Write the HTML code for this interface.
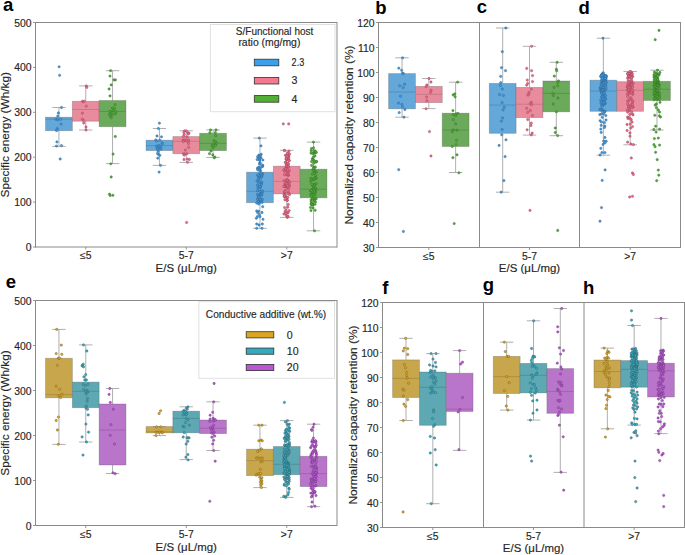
<!DOCTYPE html>
<html><head><meta charset="utf-8"><style>html,body{margin:0;padding:0;background:#fff;}svg{display:block;font-family:"Liberation Sans", sans-serif;}</style></head><body>
<svg width="685" height="555" viewBox="0 0 685 555" font-family='"Liberation Sans", sans-serif'>
<rect width="100%" height="100%" fill="#ffffff"/>
<line x1="33.00" y1="247.00" x2="35.50" y2="247.00" stroke="#8a8a8a" stroke-width="0.9"/>
<text x="31.50" y="251.00" font-size="10.4" text-anchor="end" fill="#262626" stroke="#262626" stroke-width="0.15">0</text>
<line x1="33.00" y1="202.10" x2="35.50" y2="202.10" stroke="#8a8a8a" stroke-width="0.9"/>
<text x="31.50" y="206.10" font-size="10.4" text-anchor="end" fill="#262626" stroke="#262626" stroke-width="0.15">100</text>
<line x1="33.00" y1="157.20" x2="35.50" y2="157.20" stroke="#8a8a8a" stroke-width="0.9"/>
<text x="31.50" y="161.20" font-size="10.4" text-anchor="end" fill="#262626" stroke="#262626" stroke-width="0.15">200</text>
<line x1="33.00" y1="112.30" x2="35.50" y2="112.30" stroke="#8a8a8a" stroke-width="0.9"/>
<text x="31.50" y="116.30" font-size="10.4" text-anchor="end" fill="#262626" stroke="#262626" stroke-width="0.15">300</text>
<line x1="33.00" y1="67.40" x2="35.50" y2="67.40" stroke="#8a8a8a" stroke-width="0.9"/>
<text x="31.50" y="71.40" font-size="10.4" text-anchor="end" fill="#262626" stroke="#262626" stroke-width="0.15">400</text>
<line x1="33.00" y1="22.50" x2="35.50" y2="22.50" stroke="#8a8a8a" stroke-width="0.9"/>
<text x="31.50" y="26.50" font-size="10.4" text-anchor="end" fill="#262626" stroke="#262626" stroke-width="0.15">500</text>
<line x1="85.75" y1="247.00" x2="85.75" y2="249.50" stroke="#8a8a8a" stroke-width="0.9"/>
<text x="85.75" y="259.10" font-size="10.4" text-anchor="middle" fill="#262626" stroke="#262626" stroke-width="0.15">≤5</text>
<line x1="186.25" y1="247.00" x2="186.25" y2="249.50" stroke="#8a8a8a" stroke-width="0.9"/>
<text x="186.25" y="259.10" font-size="10.4" text-anchor="middle" fill="#262626" stroke="#262626" stroke-width="0.15">5-7</text>
<line x1="286.75" y1="247.00" x2="286.75" y2="249.50" stroke="#8a8a8a" stroke-width="0.9"/>
<text x="286.75" y="259.10" font-size="10.4" text-anchor="middle" fill="#262626" stroke="#262626" stroke-width="0.15">&gt;7</text>
<text x="186.25" y="272.00" font-size="10.8" text-anchor="middle" fill="#262626" stroke="#262626" stroke-width="0.15" textLength="61.3" lengthAdjust="spacingAndGlyphs">E/S (μL/mg)</text>
<text x="9.40" y="134.75" font-size="11.2" text-anchor="middle" fill="#262626" stroke="#262626" stroke-width="0.15" textLength="125.5" lengthAdjust="spacingAndGlyphs" transform="rotate(-90 9.40 134.75)">Specific energy (Wh/kg)</text>
<line x1="58.95" y1="107.50" x2="58.95" y2="117.20" stroke="#a0a0a0" stroke-width="0.85"/>
<line x1="58.95" y1="130.70" x2="58.95" y2="146.40" stroke="#a0a0a0" stroke-width="0.85"/>
<line x1="52.25" y1="107.50" x2="65.65" y2="107.50" stroke="#a0a0a0" stroke-width="0.85"/>
<line x1="52.25" y1="146.40" x2="65.65" y2="146.40" stroke="#a0a0a0" stroke-width="0.85"/>
<rect x="45.55" y="117.20" width="26.80" height="13.50" fill="#64a7d9" stroke="#505050" stroke-opacity="0.35" stroke-width="0.8"/>
<line x1="45.55" y1="119.20" x2="72.35" y2="119.20" stroke="#558db8" stroke-width="0.9"/>
<circle cx="59.10" cy="66.80" r="1.15" fill="#3c9eea" stroke="#35628a" stroke-width="0.5"/>
<circle cx="59.60" cy="75.30" r="1.15" fill="#3c9eea" stroke="#35628a" stroke-width="0.5"/>
<circle cx="61.50" cy="107.50" r="1.15" fill="#3c9eea" stroke="#35628a" stroke-width="0.5"/>
<circle cx="58.40" cy="113.00" r="1.15" fill="#3c9eea" stroke="#35628a" stroke-width="0.5"/>
<circle cx="57.80" cy="116.10" r="1.15" fill="#3c9eea" stroke="#35628a" stroke-width="0.5"/>
<circle cx="56.00" cy="119.30" r="1.15" fill="#3c9eea" stroke="#35628a" stroke-width="0.5"/>
<circle cx="57.80" cy="119.80" r="1.15" fill="#3c9eea" stroke="#35628a" stroke-width="0.5"/>
<circle cx="60.60" cy="119.30" r="1.15" fill="#3c9eea" stroke="#35628a" stroke-width="0.5"/>
<circle cx="61.10" cy="124.10" r="1.15" fill="#3c9eea" stroke="#35628a" stroke-width="0.5"/>
<circle cx="57.40" cy="128.50" r="1.15" fill="#3c9eea" stroke="#35628a" stroke-width="0.5"/>
<circle cx="56.90" cy="129.90" r="1.15" fill="#3c9eea" stroke="#35628a" stroke-width="0.5"/>
<circle cx="56.50" cy="130.50" r="1.15" fill="#3c9eea" stroke="#35628a" stroke-width="0.5"/>
<circle cx="56.90" cy="141.90" r="1.15" fill="#3c9eea" stroke="#35628a" stroke-width="0.5"/>
<circle cx="56.50" cy="146.10" r="1.15" fill="#3c9eea" stroke="#35628a" stroke-width="0.5"/>
<circle cx="61.50" cy="145.60" r="1.15" fill="#3c9eea" stroke="#35628a" stroke-width="0.5"/>
<circle cx="60.20" cy="159.00" r="1.15" fill="#3c9eea" stroke="#35628a" stroke-width="0.5"/>
<line x1="85.75" y1="85.90" x2="85.75" y2="101.30" stroke="#a0a0a0" stroke-width="0.85"/>
<line x1="85.75" y1="121.20" x2="85.75" y2="130.00" stroke="#a0a0a0" stroke-width="0.85"/>
<line x1="79.05" y1="85.90" x2="92.45" y2="85.90" stroke="#a0a0a0" stroke-width="0.85"/>
<line x1="79.05" y1="130.00" x2="92.45" y2="130.00" stroke="#a0a0a0" stroke-width="0.85"/>
<rect x="72.35" y="101.30" width="26.80" height="19.90" fill="#e88b9d" stroke="#505050" stroke-opacity="0.35" stroke-width="0.8"/>
<line x1="72.35" y1="109.50" x2="99.15" y2="109.50" stroke="#c57685" stroke-width="0.9"/>
<circle cx="86.30" cy="85.90" r="1.15" fill="#f26a8a" stroke="#9a4458" stroke-width="0.5"/>
<circle cx="86.80" cy="87.40" r="1.15" fill="#f26a8a" stroke="#9a4458" stroke-width="0.5"/>
<circle cx="82.40" cy="101.30" r="1.15" fill="#f26a8a" stroke="#9a4458" stroke-width="0.5"/>
<circle cx="83.40" cy="101.60" r="1.15" fill="#f26a8a" stroke="#9a4458" stroke-width="0.5"/>
<circle cx="84.40" cy="101.30" r="1.15" fill="#f26a8a" stroke="#9a4458" stroke-width="0.5"/>
<circle cx="86.30" cy="106.20" r="1.15" fill="#f26a8a" stroke="#9a4458" stroke-width="0.5"/>
<circle cx="82.40" cy="113.20" r="1.15" fill="#f26a8a" stroke="#9a4458" stroke-width="0.5"/>
<circle cx="82.20" cy="119.10" r="1.15" fill="#f26a8a" stroke="#9a4458" stroke-width="0.5"/>
<circle cx="83.70" cy="120.60" r="1.15" fill="#f26a8a" stroke="#9a4458" stroke-width="0.5"/>
<circle cx="83.70" cy="123.10" r="1.15" fill="#f26a8a" stroke="#9a4458" stroke-width="0.5"/>
<circle cx="86.00" cy="127.00" r="1.15" fill="#f26a8a" stroke="#9a4458" stroke-width="0.5"/>
<circle cx="86.00" cy="130.00" r="1.15" fill="#f26a8a" stroke="#9a4458" stroke-width="0.5"/>
<line x1="112.55" y1="70.70" x2="112.55" y2="100.50" stroke="#a0a0a0" stroke-width="0.85"/>
<line x1="112.55" y1="126.70" x2="112.55" y2="163.60" stroke="#a0a0a0" stroke-width="0.85"/>
<line x1="105.85" y1="70.70" x2="119.25" y2="70.70" stroke="#a0a0a0" stroke-width="0.85"/>
<line x1="105.85" y1="163.60" x2="119.25" y2="163.60" stroke="#a0a0a0" stroke-width="0.85"/>
<rect x="99.15" y="100.50" width="26.80" height="26.20" fill="#6aaa5a" stroke="#505050" stroke-opacity="0.35" stroke-width="0.8"/>
<line x1="99.15" y1="111.40" x2="125.95" y2="111.40" stroke="#5a904c" stroke-width="0.9"/>
<circle cx="110.60" cy="70.70" r="1.15" fill="#50b032" stroke="#33702a" stroke-width="0.5"/>
<circle cx="110.00" cy="76.10" r="1.15" fill="#50b032" stroke="#33702a" stroke-width="0.5"/>
<circle cx="114.10" cy="79.90" r="1.15" fill="#50b032" stroke="#33702a" stroke-width="0.5"/>
<circle cx="115.40" cy="79.90" r="1.15" fill="#50b032" stroke="#33702a" stroke-width="0.5"/>
<circle cx="111.20" cy="84.90" r="1.15" fill="#50b032" stroke="#33702a" stroke-width="0.5"/>
<circle cx="109.10" cy="89.00" r="1.15" fill="#50b032" stroke="#33702a" stroke-width="0.5"/>
<circle cx="110.00" cy="95.90" r="1.15" fill="#50b032" stroke="#33702a" stroke-width="0.5"/>
<circle cx="115.00" cy="104.70" r="1.15" fill="#50b032" stroke="#33702a" stroke-width="0.5"/>
<circle cx="112.50" cy="108.10" r="1.15" fill="#50b032" stroke="#33702a" stroke-width="0.5"/>
<circle cx="114.40" cy="108.50" r="1.15" fill="#50b032" stroke="#33702a" stroke-width="0.5"/>
<circle cx="110.00" cy="111.40" r="1.15" fill="#50b032" stroke="#33702a" stroke-width="0.5"/>
<circle cx="113.10" cy="110.60" r="1.15" fill="#50b032" stroke="#33702a" stroke-width="0.5"/>
<circle cx="115.70" cy="111.70" r="1.15" fill="#50b032" stroke="#33702a" stroke-width="0.5"/>
<circle cx="111.20" cy="113.20" r="1.15" fill="#50b032" stroke="#33702a" stroke-width="0.5"/>
<circle cx="109.30" cy="114.40" r="1.15" fill="#50b032" stroke="#33702a" stroke-width="0.5"/>
<circle cx="113.10" cy="114.40" r="1.15" fill="#50b032" stroke="#33702a" stroke-width="0.5"/>
<circle cx="115.70" cy="113.50" r="1.15" fill="#50b032" stroke="#33702a" stroke-width="0.5"/>
<circle cx="110.60" cy="116.10" r="1.15" fill="#50b032" stroke="#33702a" stroke-width="0.5"/>
<circle cx="111.20" cy="117.70" r="1.15" fill="#50b032" stroke="#33702a" stroke-width="0.5"/>
<circle cx="115.30" cy="136.50" r="1.15" fill="#50b032" stroke="#33702a" stroke-width="0.5"/>
<circle cx="113.10" cy="154.10" r="1.15" fill="#50b032" stroke="#33702a" stroke-width="0.5"/>
<circle cx="110.80" cy="163.80" r="1.15" fill="#50b032" stroke="#33702a" stroke-width="0.5"/>
<circle cx="111.20" cy="177.00" r="1.15" fill="#50b032" stroke="#33702a" stroke-width="0.5"/>
<circle cx="109.50" cy="194.20" r="1.15" fill="#50b032" stroke="#33702a" stroke-width="0.5"/>
<circle cx="110.20" cy="195.50" r="1.15" fill="#50b032" stroke="#33702a" stroke-width="0.5"/>
<circle cx="112.90" cy="195.30" r="1.15" fill="#50b032" stroke="#33702a" stroke-width="0.5"/>
<line x1="159.45" y1="128.50" x2="159.45" y2="140.20" stroke="#a0a0a0" stroke-width="0.85"/>
<line x1="159.45" y1="150.60" x2="159.45" y2="165.40" stroke="#a0a0a0" stroke-width="0.85"/>
<line x1="152.75" y1="128.50" x2="166.15" y2="128.50" stroke="#a0a0a0" stroke-width="0.85"/>
<line x1="152.75" y1="165.40" x2="166.15" y2="165.40" stroke="#a0a0a0" stroke-width="0.85"/>
<rect x="146.05" y="140.20" width="26.80" height="10.40" fill="#64a7d9" stroke="#505050" stroke-opacity="0.35" stroke-width="0.8"/>
<line x1="146.05" y1="145.60" x2="172.85" y2="145.60" stroke="#558db8" stroke-width="0.9"/>
<circle cx="159.40" cy="123.20" r="1.15" fill="#3c9eea" stroke="#35628a" stroke-width="0.5"/>
<circle cx="158.40" cy="128.50" r="1.15" fill="#3c9eea" stroke="#35628a" stroke-width="0.5"/>
<circle cx="157.00" cy="136.00" r="1.15" fill="#3c9eea" stroke="#35628a" stroke-width="0.5"/>
<circle cx="161.50" cy="136.80" r="1.15" fill="#3c9eea" stroke="#35628a" stroke-width="0.5"/>
<circle cx="155.80" cy="140.00" r="1.15" fill="#3c9eea" stroke="#35628a" stroke-width="0.5"/>
<circle cx="156.70" cy="141.00" r="1.15" fill="#3c9eea" stroke="#35628a" stroke-width="0.5"/>
<circle cx="159.80" cy="140.20" r="1.15" fill="#3c9eea" stroke="#35628a" stroke-width="0.5"/>
<circle cx="162.20" cy="142.90" r="1.15" fill="#3c9eea" stroke="#35628a" stroke-width="0.5"/>
<circle cx="162.20" cy="144.10" r="1.15" fill="#3c9eea" stroke="#35628a" stroke-width="0.5"/>
<circle cx="158.60" cy="145.40" r="1.15" fill="#3c9eea" stroke="#35628a" stroke-width="0.5"/>
<circle cx="156.50" cy="146.20" r="1.15" fill="#3c9eea" stroke="#35628a" stroke-width="0.5"/>
<circle cx="159.60" cy="146.40" r="1.15" fill="#3c9eea" stroke="#35628a" stroke-width="0.5"/>
<circle cx="157.30" cy="147.80" r="1.15" fill="#3c9eea" stroke="#35628a" stroke-width="0.5"/>
<circle cx="160.70" cy="147.30" r="1.15" fill="#3c9eea" stroke="#35628a" stroke-width="0.5"/>
<circle cx="159.10" cy="148.30" r="1.15" fill="#3c9eea" stroke="#35628a" stroke-width="0.5"/>
<circle cx="157.50" cy="149.40" r="1.15" fill="#3c9eea" stroke="#35628a" stroke-width="0.5"/>
<circle cx="160.90" cy="149.10" r="1.15" fill="#3c9eea" stroke="#35628a" stroke-width="0.5"/>
<circle cx="158.10" cy="151.20" r="1.15" fill="#3c9eea" stroke="#35628a" stroke-width="0.5"/>
<circle cx="157.50" cy="153.50" r="1.15" fill="#3c9eea" stroke="#35628a" stroke-width="0.5"/>
<circle cx="158.60" cy="154.60" r="1.15" fill="#3c9eea" stroke="#35628a" stroke-width="0.5"/>
<circle cx="159.80" cy="155.40" r="1.15" fill="#3c9eea" stroke="#35628a" stroke-width="0.5"/>
<circle cx="157.80" cy="158.20" r="1.15" fill="#3c9eea" stroke="#35628a" stroke-width="0.5"/>
<circle cx="160.50" cy="165.40" r="1.15" fill="#3c9eea" stroke="#35628a" stroke-width="0.5"/>
<circle cx="159.10" cy="172.10" r="1.15" fill="#3c9eea" stroke="#35628a" stroke-width="0.5"/>
<line x1="186.25" y1="130.80" x2="186.25" y2="136.60" stroke="#a0a0a0" stroke-width="0.85"/>
<line x1="186.25" y1="153.70" x2="186.25" y2="162.40" stroke="#a0a0a0" stroke-width="0.85"/>
<line x1="179.55" y1="130.80" x2="192.95" y2="130.80" stroke="#a0a0a0" stroke-width="0.85"/>
<line x1="179.55" y1="162.40" x2="192.95" y2="162.40" stroke="#a0a0a0" stroke-width="0.85"/>
<rect x="172.85" y="136.60" width="26.80" height="17.10" fill="#e88b9d" stroke="#505050" stroke-opacity="0.35" stroke-width="0.8"/>
<line x1="172.85" y1="141.30" x2="199.65" y2="141.30" stroke="#c57685" stroke-width="0.9"/>
<circle cx="184.60" cy="130.80" r="1.15" fill="#f26a8a" stroke="#9a4458" stroke-width="0.5"/>
<circle cx="186.20" cy="130.80" r="1.15" fill="#f26a8a" stroke="#9a4458" stroke-width="0.5"/>
<circle cx="183.80" cy="132.50" r="1.15" fill="#f26a8a" stroke="#9a4458" stroke-width="0.5"/>
<circle cx="187.80" cy="132.70" r="1.15" fill="#f26a8a" stroke="#9a4458" stroke-width="0.5"/>
<circle cx="189.00" cy="133.10" r="1.15" fill="#f26a8a" stroke="#9a4458" stroke-width="0.5"/>
<circle cx="184.20" cy="134.60" r="1.15" fill="#f26a8a" stroke="#9a4458" stroke-width="0.5"/>
<circle cx="188.20" cy="134.10" r="1.15" fill="#f26a8a" stroke="#9a4458" stroke-width="0.5"/>
<circle cx="183.40" cy="136.50" r="1.15" fill="#f26a8a" stroke="#9a4458" stroke-width="0.5"/>
<circle cx="187.00" cy="137.00" r="1.15" fill="#f26a8a" stroke="#9a4458" stroke-width="0.5"/>
<circle cx="183.00" cy="140.20" r="1.15" fill="#f26a8a" stroke="#9a4458" stroke-width="0.5"/>
<circle cx="185.00" cy="140.00" r="1.15" fill="#f26a8a" stroke="#9a4458" stroke-width="0.5"/>
<circle cx="186.60" cy="140.80" r="1.15" fill="#f26a8a" stroke="#9a4458" stroke-width="0.5"/>
<circle cx="188.60" cy="140.20" r="1.15" fill="#f26a8a" stroke="#9a4458" stroke-width="0.5"/>
<circle cx="183.40" cy="141.60" r="1.15" fill="#f26a8a" stroke="#9a4458" stroke-width="0.5"/>
<circle cx="187.80" cy="141.60" r="1.15" fill="#f26a8a" stroke="#9a4458" stroke-width="0.5"/>
<circle cx="188.60" cy="143.50" r="1.15" fill="#f26a8a" stroke="#9a4458" stroke-width="0.5"/>
<circle cx="188.60" cy="147.30" r="1.15" fill="#f26a8a" stroke="#9a4458" stroke-width="0.5"/>
<circle cx="185.40" cy="150.10" r="1.15" fill="#f26a8a" stroke="#9a4458" stroke-width="0.5"/>
<circle cx="183.40" cy="153.80" r="1.15" fill="#f26a8a" stroke="#9a4458" stroke-width="0.5"/>
<circle cx="185.00" cy="153.80" r="1.15" fill="#f26a8a" stroke="#9a4458" stroke-width="0.5"/>
<circle cx="187.00" cy="153.80" r="1.15" fill="#f26a8a" stroke="#9a4458" stroke-width="0.5"/>
<circle cx="184.20" cy="155.20" r="1.15" fill="#f26a8a" stroke="#9a4458" stroke-width="0.5"/>
<circle cx="184.00" cy="159.50" r="1.15" fill="#f26a8a" stroke="#9a4458" stroke-width="0.5"/>
<circle cx="187.40" cy="159.10" r="1.15" fill="#f26a8a" stroke="#9a4458" stroke-width="0.5"/>
<circle cx="189.40" cy="159.50" r="1.15" fill="#f26a8a" stroke="#9a4458" stroke-width="0.5"/>
<circle cx="187.60" cy="162.30" r="1.15" fill="#f26a8a" stroke="#9a4458" stroke-width="0.5"/>
<circle cx="186.60" cy="222.50" r="1.15" fill="#f26a8a" stroke="#9a4458" stroke-width="0.5"/>
<line x1="213.05" y1="129.90" x2="213.05" y2="133.30" stroke="#a0a0a0" stroke-width="0.85"/>
<line x1="213.05" y1="150.60" x2="213.05" y2="157.40" stroke="#a0a0a0" stroke-width="0.85"/>
<line x1="206.35" y1="129.90" x2="219.75" y2="129.90" stroke="#a0a0a0" stroke-width="0.85"/>
<line x1="206.35" y1="157.40" x2="219.75" y2="157.40" stroke="#a0a0a0" stroke-width="0.85"/>
<rect x="199.65" y="133.30" width="26.80" height="17.30" fill="#6aaa5a" stroke="#505050" stroke-opacity="0.35" stroke-width="0.8"/>
<line x1="199.65" y1="143.40" x2="226.45" y2="143.40" stroke="#5a904c" stroke-width="0.9"/>
<circle cx="210.60" cy="129.90" r="1.15" fill="#50b032" stroke="#33702a" stroke-width="0.5"/>
<circle cx="216.00" cy="129.90" r="1.15" fill="#50b032" stroke="#33702a" stroke-width="0.5"/>
<circle cx="209.90" cy="132.60" r="1.15" fill="#50b032" stroke="#33702a" stroke-width="0.5"/>
<circle cx="215.30" cy="132.60" r="1.15" fill="#50b032" stroke="#33702a" stroke-width="0.5"/>
<circle cx="215.70" cy="135.80" r="1.15" fill="#50b032" stroke="#33702a" stroke-width="0.5"/>
<circle cx="213.90" cy="140.70" r="1.15" fill="#50b032" stroke="#33702a" stroke-width="0.5"/>
<circle cx="215.70" cy="141.90" r="1.15" fill="#50b032" stroke="#33702a" stroke-width="0.5"/>
<circle cx="216.40" cy="143.60" r="1.15" fill="#50b032" stroke="#33702a" stroke-width="0.5"/>
<circle cx="213.10" cy="144.30" r="1.15" fill="#50b032" stroke="#33702a" stroke-width="0.5"/>
<circle cx="215.30" cy="145.50" r="1.15" fill="#50b032" stroke="#33702a" stroke-width="0.5"/>
<circle cx="212.10" cy="145.50" r="1.15" fill="#50b032" stroke="#33702a" stroke-width="0.5"/>
<circle cx="213.10" cy="147.70" r="1.15" fill="#50b032" stroke="#33702a" stroke-width="0.5"/>
<circle cx="211.00" cy="151.00" r="1.15" fill="#50b032" stroke="#33702a" stroke-width="0.5"/>
<circle cx="209.50" cy="153.70" r="1.15" fill="#50b032" stroke="#33702a" stroke-width="0.5"/>
<circle cx="212.80" cy="154.90" r="1.15" fill="#50b032" stroke="#33702a" stroke-width="0.5"/>
<circle cx="214.90" cy="157.10" r="1.15" fill="#50b032" stroke="#33702a" stroke-width="0.5"/>
<circle cx="214.20" cy="157.80" r="1.15" fill="#50b032" stroke="#33702a" stroke-width="0.5"/>
<line x1="259.95" y1="138.10" x2="259.95" y2="172.20" stroke="#a0a0a0" stroke-width="0.85"/>
<line x1="259.95" y1="202.70" x2="259.95" y2="228.30" stroke="#a0a0a0" stroke-width="0.85"/>
<line x1="253.25" y1="138.10" x2="266.65" y2="138.10" stroke="#a0a0a0" stroke-width="0.85"/>
<line x1="253.25" y1="228.30" x2="266.65" y2="228.30" stroke="#a0a0a0" stroke-width="0.85"/>
<rect x="246.55" y="172.20" width="26.80" height="30.50" fill="#64a7d9" stroke="#505050" stroke-opacity="0.35" stroke-width="0.8"/>
<line x1="246.55" y1="191.30" x2="273.35" y2="191.30" stroke="#558db8" stroke-width="0.9"/>
<circle cx="260.04" cy="156.30" r="1.15" fill="#3c9eea" stroke="#35628a" stroke-width="0.5"/>
<circle cx="262.67" cy="165.05" r="1.15" fill="#3c9eea" stroke="#35628a" stroke-width="0.5"/>
<circle cx="260.49" cy="171.03" r="1.15" fill="#3c9eea" stroke="#35628a" stroke-width="0.5"/>
<circle cx="257.50" cy="168.14" r="1.15" fill="#3c9eea" stroke="#35628a" stroke-width="0.5"/>
<circle cx="258.29" cy="157.52" r="1.15" fill="#3c9eea" stroke="#35628a" stroke-width="0.5"/>
<circle cx="258.88" cy="167.09" r="1.15" fill="#3c9eea" stroke="#35628a" stroke-width="0.5"/>
<circle cx="262.60" cy="166.44" r="1.15" fill="#3c9eea" stroke="#35628a" stroke-width="0.5"/>
<circle cx="258.85" cy="155.12" r="1.15" fill="#3c9eea" stroke="#35628a" stroke-width="0.5"/>
<circle cx="258.67" cy="156.86" r="1.15" fill="#3c9eea" stroke="#35628a" stroke-width="0.5"/>
<circle cx="259.96" cy="162.57" r="1.15" fill="#3c9eea" stroke="#35628a" stroke-width="0.5"/>
<circle cx="257.64" cy="156.69" r="1.15" fill="#3c9eea" stroke="#35628a" stroke-width="0.5"/>
<circle cx="262.22" cy="166.34" r="1.15" fill="#3c9eea" stroke="#35628a" stroke-width="0.5"/>
<circle cx="257.52" cy="169.60" r="1.15" fill="#3c9eea" stroke="#35628a" stroke-width="0.5"/>
<circle cx="259.64" cy="160.13" r="1.15" fill="#3c9eea" stroke="#35628a" stroke-width="0.5"/>
<circle cx="261.78" cy="166.10" r="1.15" fill="#3c9eea" stroke="#35628a" stroke-width="0.5"/>
<circle cx="259.57" cy="160.12" r="1.15" fill="#3c9eea" stroke="#35628a" stroke-width="0.5"/>
<circle cx="260.22" cy="168.95" r="1.15" fill="#3c9eea" stroke="#35628a" stroke-width="0.5"/>
<circle cx="261.20" cy="154.32" r="1.15" fill="#3c9eea" stroke="#35628a" stroke-width="0.5"/>
<circle cx="257.13" cy="159.62" r="1.15" fill="#3c9eea" stroke="#35628a" stroke-width="0.5"/>
<circle cx="258.69" cy="167.86" r="1.15" fill="#3c9eea" stroke="#35628a" stroke-width="0.5"/>
<circle cx="260.60" cy="155.33" r="1.15" fill="#3c9eea" stroke="#35628a" stroke-width="0.5"/>
<circle cx="259.48" cy="163.90" r="1.15" fill="#3c9eea" stroke="#35628a" stroke-width="0.5"/>
<circle cx="259.83" cy="157.66" r="1.15" fill="#3c9eea" stroke="#35628a" stroke-width="0.5"/>
<circle cx="261.09" cy="158.11" r="1.15" fill="#3c9eea" stroke="#35628a" stroke-width="0.5"/>
<circle cx="262.92" cy="160.03" r="1.15" fill="#3c9eea" stroke="#35628a" stroke-width="0.5"/>
<circle cx="259.96" cy="168.35" r="1.15" fill="#3c9eea" stroke="#35628a" stroke-width="0.5"/>
<circle cx="259.06" cy="170.26" r="1.15" fill="#3c9eea" stroke="#35628a" stroke-width="0.5"/>
<circle cx="260.27" cy="163.22" r="1.15" fill="#3c9eea" stroke="#35628a" stroke-width="0.5"/>
<circle cx="258.37" cy="178.50" r="1.15" fill="#3c9eea" stroke="#35628a" stroke-width="0.5"/>
<circle cx="260.11" cy="187.85" r="1.15" fill="#3c9eea" stroke="#35628a" stroke-width="0.5"/>
<circle cx="257.87" cy="188.37" r="1.15" fill="#3c9eea" stroke="#35628a" stroke-width="0.5"/>
<circle cx="262.49" cy="173.74" r="1.15" fill="#3c9eea" stroke="#35628a" stroke-width="0.5"/>
<circle cx="260.81" cy="176.72" r="1.15" fill="#3c9eea" stroke="#35628a" stroke-width="0.5"/>
<circle cx="257.55" cy="190.85" r="1.15" fill="#3c9eea" stroke="#35628a" stroke-width="0.5"/>
<circle cx="258.44" cy="180.11" r="1.15" fill="#3c9eea" stroke="#35628a" stroke-width="0.5"/>
<circle cx="261.18" cy="183.83" r="1.15" fill="#3c9eea" stroke="#35628a" stroke-width="0.5"/>
<circle cx="262.36" cy="190.83" r="1.15" fill="#3c9eea" stroke="#35628a" stroke-width="0.5"/>
<circle cx="259.75" cy="174.26" r="1.15" fill="#3c9eea" stroke="#35628a" stroke-width="0.5"/>
<circle cx="261.97" cy="175.08" r="1.15" fill="#3c9eea" stroke="#35628a" stroke-width="0.5"/>
<circle cx="259.13" cy="176.45" r="1.15" fill="#3c9eea" stroke="#35628a" stroke-width="0.5"/>
<circle cx="261.92" cy="176.16" r="1.15" fill="#3c9eea" stroke="#35628a" stroke-width="0.5"/>
<circle cx="261.82" cy="182.73" r="1.15" fill="#3c9eea" stroke="#35628a" stroke-width="0.5"/>
<circle cx="260.61" cy="186.44" r="1.15" fill="#3c9eea" stroke="#35628a" stroke-width="0.5"/>
<circle cx="259.03" cy="175.66" r="1.15" fill="#3c9eea" stroke="#35628a" stroke-width="0.5"/>
<circle cx="261.40" cy="184.26" r="1.15" fill="#3c9eea" stroke="#35628a" stroke-width="0.5"/>
<circle cx="259.46" cy="175.73" r="1.15" fill="#3c9eea" stroke="#35628a" stroke-width="0.5"/>
<circle cx="257.92" cy="180.75" r="1.15" fill="#3c9eea" stroke="#35628a" stroke-width="0.5"/>
<circle cx="261.01" cy="177.94" r="1.15" fill="#3c9eea" stroke="#35628a" stroke-width="0.5"/>
<circle cx="257.04" cy="181.00" r="1.15" fill="#3c9eea" stroke="#35628a" stroke-width="0.5"/>
<circle cx="258.35" cy="186.47" r="1.15" fill="#3c9eea" stroke="#35628a" stroke-width="0.5"/>
<circle cx="261.17" cy="181.80" r="1.15" fill="#3c9eea" stroke="#35628a" stroke-width="0.5"/>
<circle cx="257.43" cy="185.17" r="1.15" fill="#3c9eea" stroke="#35628a" stroke-width="0.5"/>
<circle cx="259.74" cy="186.78" r="1.15" fill="#3c9eea" stroke="#35628a" stroke-width="0.5"/>
<circle cx="261.71" cy="174.93" r="1.15" fill="#3c9eea" stroke="#35628a" stroke-width="0.5"/>
<circle cx="258.70" cy="182.88" r="1.15" fill="#3c9eea" stroke="#35628a" stroke-width="0.5"/>
<circle cx="257.57" cy="175.39" r="1.15" fill="#3c9eea" stroke="#35628a" stroke-width="0.5"/>
<circle cx="261.27" cy="173.20" r="1.15" fill="#3c9eea" stroke="#35628a" stroke-width="0.5"/>
<circle cx="258.43" cy="174.77" r="1.15" fill="#3c9eea" stroke="#35628a" stroke-width="0.5"/>
<circle cx="262.37" cy="199.41" r="1.15" fill="#3c9eea" stroke="#35628a" stroke-width="0.5"/>
<circle cx="261.49" cy="200.64" r="1.15" fill="#3c9eea" stroke="#35628a" stroke-width="0.5"/>
<circle cx="258.29" cy="200.62" r="1.15" fill="#3c9eea" stroke="#35628a" stroke-width="0.5"/>
<circle cx="259.10" cy="195.73" r="1.15" fill="#3c9eea" stroke="#35628a" stroke-width="0.5"/>
<circle cx="257.43" cy="194.49" r="1.15" fill="#3c9eea" stroke="#35628a" stroke-width="0.5"/>
<circle cx="259.23" cy="200.59" r="1.15" fill="#3c9eea" stroke="#35628a" stroke-width="0.5"/>
<circle cx="259.92" cy="194.45" r="1.15" fill="#3c9eea" stroke="#35628a" stroke-width="0.5"/>
<circle cx="260.59" cy="194.74" r="1.15" fill="#3c9eea" stroke="#35628a" stroke-width="0.5"/>
<circle cx="261.83" cy="195.10" r="1.15" fill="#3c9eea" stroke="#35628a" stroke-width="0.5"/>
<circle cx="258.24" cy="195.73" r="1.15" fill="#3c9eea" stroke="#35628a" stroke-width="0.5"/>
<circle cx="260.45" cy="198.65" r="1.15" fill="#3c9eea" stroke="#35628a" stroke-width="0.5"/>
<circle cx="258.60" cy="197.50" r="1.15" fill="#3c9eea" stroke="#35628a" stroke-width="0.5"/>
<circle cx="260.87" cy="193.81" r="1.15" fill="#3c9eea" stroke="#35628a" stroke-width="0.5"/>
<circle cx="258.81" cy="196.21" r="1.15" fill="#3c9eea" stroke="#35628a" stroke-width="0.5"/>
<circle cx="261.72" cy="192.83" r="1.15" fill="#3c9eea" stroke="#35628a" stroke-width="0.5"/>
<circle cx="258.55" cy="201.58" r="1.15" fill="#3c9eea" stroke="#35628a" stroke-width="0.5"/>
<circle cx="260.10" cy="191.34" r="1.15" fill="#3c9eea" stroke="#35628a" stroke-width="0.5"/>
<circle cx="260.21" cy="202.42" r="1.15" fill="#3c9eea" stroke="#35628a" stroke-width="0.5"/>
<circle cx="260.03" cy="200.29" r="1.15" fill="#3c9eea" stroke="#35628a" stroke-width="0.5"/>
<circle cx="261.89" cy="192.90" r="1.15" fill="#3c9eea" stroke="#35628a" stroke-width="0.5"/>
<circle cx="262.24" cy="191.72" r="1.15" fill="#3c9eea" stroke="#35628a" stroke-width="0.5"/>
<circle cx="257.47" cy="199.12" r="1.15" fill="#3c9eea" stroke="#35628a" stroke-width="0.5"/>
<circle cx="259.34" cy="199.96" r="1.15" fill="#3c9eea" stroke="#35628a" stroke-width="0.5"/>
<circle cx="259.51" cy="197.67" r="1.15" fill="#3c9eea" stroke="#35628a" stroke-width="0.5"/>
<circle cx="260.21" cy="199.54" r="1.15" fill="#3c9eea" stroke="#35628a" stroke-width="0.5"/>
<circle cx="262.11" cy="202.43" r="1.15" fill="#3c9eea" stroke="#35628a" stroke-width="0.5"/>
<circle cx="259.30" cy="138.10" r="1.15" fill="#3c9eea" stroke="#35628a" stroke-width="0.5"/>
<circle cx="261.00" cy="145.90" r="1.15" fill="#3c9eea" stroke="#35628a" stroke-width="0.5"/>
<circle cx="256.70" cy="203.00" r="1.15" fill="#3c9eea" stroke="#35628a" stroke-width="0.5"/>
<circle cx="258.70" cy="204.00" r="1.15" fill="#3c9eea" stroke="#35628a" stroke-width="0.5"/>
<circle cx="262.70" cy="206.70" r="1.15" fill="#3c9eea" stroke="#35628a" stroke-width="0.5"/>
<circle cx="256.70" cy="211.00" r="1.15" fill="#3c9eea" stroke="#35628a" stroke-width="0.5"/>
<circle cx="258.70" cy="211.30" r="1.15" fill="#3c9eea" stroke="#35628a" stroke-width="0.5"/>
<circle cx="257.70" cy="212.70" r="1.15" fill="#3c9eea" stroke="#35628a" stroke-width="0.5"/>
<circle cx="262.00" cy="212.50" r="1.15" fill="#3c9eea" stroke="#35628a" stroke-width="0.5"/>
<circle cx="259.30" cy="214.70" r="1.15" fill="#3c9eea" stroke="#35628a" stroke-width="0.5"/>
<circle cx="257.30" cy="216.70" r="1.15" fill="#3c9eea" stroke="#35628a" stroke-width="0.5"/>
<circle cx="260.00" cy="216.70" r="1.15" fill="#3c9eea" stroke="#35628a" stroke-width="0.5"/>
<circle cx="256.30" cy="218.30" r="1.15" fill="#3c9eea" stroke="#35628a" stroke-width="0.5"/>
<circle cx="263.00" cy="219.30" r="1.15" fill="#3c9eea" stroke="#35628a" stroke-width="0.5"/>
<circle cx="256.70" cy="224.00" r="1.15" fill="#3c9eea" stroke="#35628a" stroke-width="0.5"/>
<circle cx="259.00" cy="225.00" r="1.15" fill="#3c9eea" stroke="#35628a" stroke-width="0.5"/>
<circle cx="262.30" cy="224.00" r="1.15" fill="#3c9eea" stroke="#35628a" stroke-width="0.5"/>
<circle cx="256.70" cy="228.30" r="1.15" fill="#3c9eea" stroke="#35628a" stroke-width="0.5"/>
<circle cx="262.00" cy="228.30" r="1.15" fill="#3c9eea" stroke="#35628a" stroke-width="0.5"/>
<line x1="286.75" y1="150.30" x2="286.75" y2="166.20" stroke="#a0a0a0" stroke-width="0.85"/>
<line x1="286.75" y1="193.90" x2="286.75" y2="217.40" stroke="#a0a0a0" stroke-width="0.85"/>
<line x1="280.05" y1="150.30" x2="293.45" y2="150.30" stroke="#a0a0a0" stroke-width="0.85"/>
<line x1="280.05" y1="217.40" x2="293.45" y2="217.40" stroke="#a0a0a0" stroke-width="0.85"/>
<rect x="273.35" y="166.20" width="26.80" height="27.70" fill="#e88b9d" stroke="#505050" stroke-opacity="0.35" stroke-width="0.8"/>
<line x1="273.35" y1="181.40" x2="300.15" y2="181.40" stroke="#c57685" stroke-width="0.9"/>
<circle cx="284.27" cy="150.30" r="1.15" fill="#f26a8a" stroke="#9a4458" stroke-width="0.5"/>
<circle cx="287.25" cy="217.40" r="1.15" fill="#f26a8a" stroke="#9a4458" stroke-width="0.5"/>
<circle cx="286.14" cy="215.39" r="1.15" fill="#f26a8a" stroke="#9a4458" stroke-width="0.5"/>
<circle cx="287.44" cy="187.93" r="1.15" fill="#f26a8a" stroke="#9a4458" stroke-width="0.5"/>
<circle cx="289.38" cy="170.54" r="1.15" fill="#f26a8a" stroke="#9a4458" stroke-width="0.5"/>
<circle cx="288.84" cy="157.01" r="1.15" fill="#f26a8a" stroke="#9a4458" stroke-width="0.5"/>
<circle cx="287.81" cy="216.66" r="1.15" fill="#f26a8a" stroke="#9a4458" stroke-width="0.5"/>
<circle cx="288.59" cy="188.96" r="1.15" fill="#f26a8a" stroke="#9a4458" stroke-width="0.5"/>
<circle cx="288.58" cy="166.57" r="1.15" fill="#f26a8a" stroke="#9a4458" stroke-width="0.5"/>
<circle cx="286.32" cy="163.97" r="1.15" fill="#f26a8a" stroke="#9a4458" stroke-width="0.5"/>
<circle cx="288.27" cy="204.50" r="1.15" fill="#f26a8a" stroke="#9a4458" stroke-width="0.5"/>
<circle cx="285.13" cy="185.74" r="1.15" fill="#f26a8a" stroke="#9a4458" stroke-width="0.5"/>
<circle cx="286.33" cy="167.95" r="1.15" fill="#f26a8a" stroke="#9a4458" stroke-width="0.5"/>
<circle cx="289.37" cy="160.60" r="1.15" fill="#f26a8a" stroke="#9a4458" stroke-width="0.5"/>
<circle cx="286.93" cy="198.18" r="1.15" fill="#f26a8a" stroke="#9a4458" stroke-width="0.5"/>
<circle cx="285.68" cy="186.56" r="1.15" fill="#f26a8a" stroke="#9a4458" stroke-width="0.5"/>
<circle cx="284.62" cy="171.28" r="1.15" fill="#f26a8a" stroke="#9a4458" stroke-width="0.5"/>
<circle cx="285.95" cy="162.01" r="1.15" fill="#f26a8a" stroke="#9a4458" stroke-width="0.5"/>
<circle cx="289.19" cy="194.11" r="1.15" fill="#f26a8a" stroke="#9a4458" stroke-width="0.5"/>
<circle cx="284.57" cy="192.09" r="1.15" fill="#f26a8a" stroke="#9a4458" stroke-width="0.5"/>
<circle cx="283.81" cy="170.12" r="1.15" fill="#f26a8a" stroke="#9a4458" stroke-width="0.5"/>
<circle cx="287.13" cy="158.77" r="1.15" fill="#f26a8a" stroke="#9a4458" stroke-width="0.5"/>
<circle cx="285.05" cy="211.61" r="1.15" fill="#f26a8a" stroke="#9a4458" stroke-width="0.5"/>
<circle cx="288.03" cy="181.47" r="1.15" fill="#f26a8a" stroke="#9a4458" stroke-width="0.5"/>
<circle cx="288.02" cy="171.93" r="1.15" fill="#f26a8a" stroke="#9a4458" stroke-width="0.5"/>
<circle cx="286.71" cy="159.47" r="1.15" fill="#f26a8a" stroke="#9a4458" stroke-width="0.5"/>
<circle cx="287.66" cy="212.75" r="1.15" fill="#f26a8a" stroke="#9a4458" stroke-width="0.5"/>
<circle cx="284.83" cy="183.78" r="1.15" fill="#f26a8a" stroke="#9a4458" stroke-width="0.5"/>
<circle cx="284.98" cy="168.97" r="1.15" fill="#f26a8a" stroke="#9a4458" stroke-width="0.5"/>
<circle cx="288.48" cy="163.96" r="1.15" fill="#f26a8a" stroke="#9a4458" stroke-width="0.5"/>
<circle cx="285.93" cy="210.05" r="1.15" fill="#f26a8a" stroke="#9a4458" stroke-width="0.5"/>
<circle cx="288.50" cy="192.17" r="1.15" fill="#f26a8a" stroke="#9a4458" stroke-width="0.5"/>
<circle cx="288.37" cy="175.05" r="1.15" fill="#f26a8a" stroke="#9a4458" stroke-width="0.5"/>
<circle cx="288.54" cy="155.47" r="1.15" fill="#f26a8a" stroke="#9a4458" stroke-width="0.5"/>
<circle cx="287.32" cy="200.27" r="1.15" fill="#f26a8a" stroke="#9a4458" stroke-width="0.5"/>
<circle cx="286.18" cy="186.14" r="1.15" fill="#f26a8a" stroke="#9a4458" stroke-width="0.5"/>
<circle cx="286.73" cy="166.22" r="1.15" fill="#f26a8a" stroke="#9a4458" stroke-width="0.5"/>
<circle cx="286.37" cy="158.21" r="1.15" fill="#f26a8a" stroke="#9a4458" stroke-width="0.5"/>
<circle cx="289.21" cy="210.57" r="1.15" fill="#f26a8a" stroke="#9a4458" stroke-width="0.5"/>
<circle cx="284.66" cy="186.31" r="1.15" fill="#f26a8a" stroke="#9a4458" stroke-width="0.5"/>
<circle cx="288.29" cy="167.47" r="1.15" fill="#f26a8a" stroke="#9a4458" stroke-width="0.5"/>
<circle cx="288.93" cy="151.05" r="1.15" fill="#f26a8a" stroke="#9a4458" stroke-width="0.5"/>
<circle cx="287.79" cy="207.18" r="1.15" fill="#f26a8a" stroke="#9a4458" stroke-width="0.5"/>
<circle cx="289.50" cy="186.02" r="1.15" fill="#f26a8a" stroke="#9a4458" stroke-width="0.5"/>
<circle cx="285.60" cy="168.93" r="1.15" fill="#f26a8a" stroke="#9a4458" stroke-width="0.5"/>
<circle cx="285.42" cy="155.34" r="1.15" fill="#f26a8a" stroke="#9a4458" stroke-width="0.5"/>
<circle cx="287.22" cy="200.45" r="1.15" fill="#f26a8a" stroke="#9a4458" stroke-width="0.5"/>
<circle cx="284.83" cy="192.23" r="1.15" fill="#f26a8a" stroke="#9a4458" stroke-width="0.5"/>
<circle cx="284.16" cy="180.73" r="1.15" fill="#f26a8a" stroke="#9a4458" stroke-width="0.5"/>
<circle cx="285.30" cy="162.46" r="1.15" fill="#f26a8a" stroke="#9a4458" stroke-width="0.5"/>
<circle cx="288.16" cy="216.34" r="1.15" fill="#f26a8a" stroke="#9a4458" stroke-width="0.5"/>
<circle cx="288.37" cy="181.51" r="1.15" fill="#f26a8a" stroke="#9a4458" stroke-width="0.5"/>
<circle cx="288.31" cy="180.93" r="1.15" fill="#f26a8a" stroke="#9a4458" stroke-width="0.5"/>
<circle cx="288.48" cy="158.56" r="1.15" fill="#f26a8a" stroke="#9a4458" stroke-width="0.5"/>
<circle cx="284.03" cy="194.42" r="1.15" fill="#f26a8a" stroke="#9a4458" stroke-width="0.5"/>
<circle cx="285.23" cy="190.42" r="1.15" fill="#f26a8a" stroke="#9a4458" stroke-width="0.5"/>
<circle cx="284.68" cy="174.72" r="1.15" fill="#f26a8a" stroke="#9a4458" stroke-width="0.5"/>
<circle cx="288.26" cy="159.32" r="1.15" fill="#f26a8a" stroke="#9a4458" stroke-width="0.5"/>
<circle cx="288.13" cy="212.72" r="1.15" fill="#f26a8a" stroke="#9a4458" stroke-width="0.5"/>
<circle cx="288.09" cy="181.48" r="1.15" fill="#f26a8a" stroke="#9a4458" stroke-width="0.5"/>
<circle cx="287.72" cy="174.93" r="1.15" fill="#f26a8a" stroke="#9a4458" stroke-width="0.5"/>
<circle cx="288.67" cy="154.40" r="1.15" fill="#f26a8a" stroke="#9a4458" stroke-width="0.5"/>
<circle cx="284.61" cy="195.10" r="1.15" fill="#f26a8a" stroke="#9a4458" stroke-width="0.5"/>
<circle cx="286.45" cy="183.43" r="1.15" fill="#f26a8a" stroke="#9a4458" stroke-width="0.5"/>
<circle cx="288.38" cy="175.07" r="1.15" fill="#f26a8a" stroke="#9a4458" stroke-width="0.5"/>
<circle cx="286.01" cy="155.71" r="1.15" fill="#f26a8a" stroke="#9a4458" stroke-width="0.5"/>
<circle cx="284.29" cy="197.00" r="1.15" fill="#f26a8a" stroke="#9a4458" stroke-width="0.5"/>
<circle cx="289.09" cy="183.52" r="1.15" fill="#f26a8a" stroke="#9a4458" stroke-width="0.5"/>
<circle cx="286.97" cy="174.90" r="1.15" fill="#f26a8a" stroke="#9a4458" stroke-width="0.5"/>
<circle cx="288.26" cy="152.92" r="1.15" fill="#f26a8a" stroke="#9a4458" stroke-width="0.5"/>
<circle cx="286.12" cy="197.06" r="1.15" fill="#f26a8a" stroke="#9a4458" stroke-width="0.5"/>
<circle cx="284.44" cy="186.08" r="1.15" fill="#f26a8a" stroke="#9a4458" stroke-width="0.5"/>
<circle cx="286.93" cy="171.10" r="1.15" fill="#f26a8a" stroke="#9a4458" stroke-width="0.5"/>
<circle cx="286.09" cy="159.17" r="1.15" fill="#f26a8a" stroke="#9a4458" stroke-width="0.5"/>
<circle cx="283.93" cy="213.94" r="1.15" fill="#f26a8a" stroke="#9a4458" stroke-width="0.5"/>
<circle cx="283.86" cy="186.44" r="1.15" fill="#f26a8a" stroke="#9a4458" stroke-width="0.5"/>
<circle cx="288.04" cy="166.32" r="1.15" fill="#f26a8a" stroke="#9a4458" stroke-width="0.5"/>
<circle cx="284.64" cy="150.63" r="1.15" fill="#f26a8a" stroke="#9a4458" stroke-width="0.5"/>
<circle cx="284.58" cy="207.60" r="1.15" fill="#f26a8a" stroke="#9a4458" stroke-width="0.5"/>
<circle cx="288.21" cy="193.48" r="1.15" fill="#f26a8a" stroke="#9a4458" stroke-width="0.5"/>
<circle cx="286.94" cy="179.57" r="1.15" fill="#f26a8a" stroke="#9a4458" stroke-width="0.5"/>
<circle cx="286.25" cy="158.69" r="1.15" fill="#f26a8a" stroke="#9a4458" stroke-width="0.5"/>
<circle cx="289.50" cy="194.52" r="1.15" fill="#f26a8a" stroke="#9a4458" stroke-width="0.5"/>
<circle cx="289.21" cy="185.16" r="1.15" fill="#f26a8a" stroke="#9a4458" stroke-width="0.5"/>
<circle cx="286.39" cy="180.44" r="1.15" fill="#f26a8a" stroke="#9a4458" stroke-width="0.5"/>
<circle cx="286.37" cy="164.94" r="1.15" fill="#f26a8a" stroke="#9a4458" stroke-width="0.5"/>
<circle cx="287.78" cy="197.37" r="1.15" fill="#f26a8a" stroke="#9a4458" stroke-width="0.5"/>
<circle cx="289.61" cy="181.78" r="1.15" fill="#f26a8a" stroke="#9a4458" stroke-width="0.5"/>
<circle cx="287.89" cy="171.07" r="1.15" fill="#f26a8a" stroke="#9a4458" stroke-width="0.5"/>
<circle cx="289.53" cy="154.17" r="1.15" fill="#f26a8a" stroke="#9a4458" stroke-width="0.5"/>
<circle cx="284.85" cy="199.85" r="1.15" fill="#f26a8a" stroke="#9a4458" stroke-width="0.5"/>
<circle cx="288.02" cy="186.38" r="1.15" fill="#f26a8a" stroke="#9a4458" stroke-width="0.5"/>
<circle cx="287.40" cy="180.06" r="1.15" fill="#f26a8a" stroke="#9a4458" stroke-width="0.5"/>
<circle cx="288.04" cy="163.42" r="1.15" fill="#f26a8a" stroke="#9a4458" stroke-width="0.5"/>
<circle cx="285.39" cy="195.90" r="1.15" fill="#f26a8a" stroke="#9a4458" stroke-width="0.5"/>
<circle cx="286.81" cy="183.63" r="1.15" fill="#f26a8a" stroke="#9a4458" stroke-width="0.5"/>
<circle cx="288.31" cy="174.56" r="1.15" fill="#f26a8a" stroke="#9a4458" stroke-width="0.5"/>
<circle cx="287.33" cy="153.68" r="1.15" fill="#f26a8a" stroke="#9a4458" stroke-width="0.5"/>
<circle cx="286.14" cy="213.37" r="1.15" fill="#f26a8a" stroke="#9a4458" stroke-width="0.5"/>
<circle cx="287.57" cy="185.52" r="1.15" fill="#f26a8a" stroke="#9a4458" stroke-width="0.5"/>
<circle cx="287.06" cy="174.09" r="1.15" fill="#f26a8a" stroke="#9a4458" stroke-width="0.5"/>
<circle cx="288.85" cy="160.47" r="1.15" fill="#f26a8a" stroke="#9a4458" stroke-width="0.5"/>
<circle cx="284.37" cy="196.00" r="1.15" fill="#f26a8a" stroke="#9a4458" stroke-width="0.5"/>
<circle cx="285.07" cy="191.69" r="1.15" fill="#f26a8a" stroke="#9a4458" stroke-width="0.5"/>
<circle cx="286.02" cy="166.25" r="1.15" fill="#f26a8a" stroke="#9a4458" stroke-width="0.5"/>
<circle cx="283.30" cy="123.90" r="1.15" fill="#f26a8a" stroke="#9a4458" stroke-width="0.5"/>
<circle cx="288.70" cy="123.90" r="1.15" fill="#f26a8a" stroke="#9a4458" stroke-width="0.5"/>
<line x1="313.55" y1="142.10" x2="313.55" y2="169.20" stroke="#a0a0a0" stroke-width="0.85"/>
<line x1="313.55" y1="197.80" x2="313.55" y2="230.80" stroke="#a0a0a0" stroke-width="0.85"/>
<line x1="306.85" y1="142.10" x2="320.25" y2="142.10" stroke="#a0a0a0" stroke-width="0.85"/>
<line x1="306.85" y1="230.80" x2="320.25" y2="230.80" stroke="#a0a0a0" stroke-width="0.85"/>
<rect x="300.15" y="169.20" width="26.80" height="28.60" fill="#6aaa5a" stroke="#505050" stroke-opacity="0.35" stroke-width="0.8"/>
<line x1="300.15" y1="189.20" x2="326.95" y2="189.20" stroke="#5a904c" stroke-width="0.9"/>
<circle cx="313.61" cy="153.15" r="1.15" fill="#50b032" stroke="#33702a" stroke-width="0.5"/>
<circle cx="312.36" cy="158.81" r="1.15" fill="#50b032" stroke="#33702a" stroke-width="0.5"/>
<circle cx="314.93" cy="155.94" r="1.15" fill="#50b032" stroke="#33702a" stroke-width="0.5"/>
<circle cx="313.30" cy="157.20" r="1.15" fill="#50b032" stroke="#33702a" stroke-width="0.5"/>
<circle cx="314.95" cy="153.07" r="1.15" fill="#50b032" stroke="#33702a" stroke-width="0.5"/>
<circle cx="311.19" cy="150.65" r="1.15" fill="#50b032" stroke="#33702a" stroke-width="0.5"/>
<circle cx="316.37" cy="152.49" r="1.15" fill="#50b032" stroke="#33702a" stroke-width="0.5"/>
<circle cx="312.82" cy="153.68" r="1.15" fill="#50b032" stroke="#33702a" stroke-width="0.5"/>
<circle cx="311.40" cy="148.59" r="1.15" fill="#50b032" stroke="#33702a" stroke-width="0.5"/>
<circle cx="315.23" cy="151.01" r="1.15" fill="#50b032" stroke="#33702a" stroke-width="0.5"/>
<circle cx="312.87" cy="159.55" r="1.15" fill="#50b032" stroke="#33702a" stroke-width="0.5"/>
<circle cx="313.68" cy="150.68" r="1.15" fill="#50b032" stroke="#33702a" stroke-width="0.5"/>
<circle cx="311.04" cy="153.13" r="1.15" fill="#50b032" stroke="#33702a" stroke-width="0.5"/>
<circle cx="313.51" cy="147.80" r="1.15" fill="#50b032" stroke="#33702a" stroke-width="0.5"/>
<circle cx="316.14" cy="178.18" r="1.15" fill="#50b032" stroke="#33702a" stroke-width="0.5"/>
<circle cx="313.79" cy="185.16" r="1.15" fill="#50b032" stroke="#33702a" stroke-width="0.5"/>
<circle cx="312.93" cy="188.54" r="1.15" fill="#50b032" stroke="#33702a" stroke-width="0.5"/>
<circle cx="314.67" cy="171.17" r="1.15" fill="#50b032" stroke="#33702a" stroke-width="0.5"/>
<circle cx="313.28" cy="188.27" r="1.15" fill="#50b032" stroke="#33702a" stroke-width="0.5"/>
<circle cx="314.20" cy="160.39" r="1.15" fill="#50b032" stroke="#33702a" stroke-width="0.5"/>
<circle cx="315.66" cy="172.10" r="1.15" fill="#50b032" stroke="#33702a" stroke-width="0.5"/>
<circle cx="312.35" cy="174.15" r="1.15" fill="#50b032" stroke="#33702a" stroke-width="0.5"/>
<circle cx="311.78" cy="179.46" r="1.15" fill="#50b032" stroke="#33702a" stroke-width="0.5"/>
<circle cx="314.26" cy="173.47" r="1.15" fill="#50b032" stroke="#33702a" stroke-width="0.5"/>
<circle cx="313.44" cy="169.75" r="1.15" fill="#50b032" stroke="#33702a" stroke-width="0.5"/>
<circle cx="314.71" cy="184.34" r="1.15" fill="#50b032" stroke="#33702a" stroke-width="0.5"/>
<circle cx="310.85" cy="178.42" r="1.15" fill="#50b032" stroke="#33702a" stroke-width="0.5"/>
<circle cx="315.39" cy="188.95" r="1.15" fill="#50b032" stroke="#33702a" stroke-width="0.5"/>
<circle cx="315.21" cy="187.82" r="1.15" fill="#50b032" stroke="#33702a" stroke-width="0.5"/>
<circle cx="314.38" cy="184.76" r="1.15" fill="#50b032" stroke="#33702a" stroke-width="0.5"/>
<circle cx="314.98" cy="167.33" r="1.15" fill="#50b032" stroke="#33702a" stroke-width="0.5"/>
<circle cx="314.84" cy="178.10" r="1.15" fill="#50b032" stroke="#33702a" stroke-width="0.5"/>
<circle cx="313.74" cy="166.98" r="1.15" fill="#50b032" stroke="#33702a" stroke-width="0.5"/>
<circle cx="316.21" cy="183.62" r="1.15" fill="#50b032" stroke="#33702a" stroke-width="0.5"/>
<circle cx="315.27" cy="167.09" r="1.15" fill="#50b032" stroke="#33702a" stroke-width="0.5"/>
<circle cx="311.57" cy="165.38" r="1.15" fill="#50b032" stroke="#33702a" stroke-width="0.5"/>
<circle cx="312.83" cy="169.93" r="1.15" fill="#50b032" stroke="#33702a" stroke-width="0.5"/>
<circle cx="315.02" cy="171.66" r="1.15" fill="#50b032" stroke="#33702a" stroke-width="0.5"/>
<circle cx="316.52" cy="161.57" r="1.15" fill="#50b032" stroke="#33702a" stroke-width="0.5"/>
<circle cx="312.93" cy="185.58" r="1.15" fill="#50b032" stroke="#33702a" stroke-width="0.5"/>
<circle cx="313.56" cy="179.61" r="1.15" fill="#50b032" stroke="#33702a" stroke-width="0.5"/>
<circle cx="315.64" cy="178.54" r="1.15" fill="#50b032" stroke="#33702a" stroke-width="0.5"/>
<circle cx="311.58" cy="161.49" r="1.15" fill="#50b032" stroke="#33702a" stroke-width="0.5"/>
<circle cx="316.43" cy="172.04" r="1.15" fill="#50b032" stroke="#33702a" stroke-width="0.5"/>
<circle cx="313.66" cy="163.20" r="1.15" fill="#50b032" stroke="#33702a" stroke-width="0.5"/>
<circle cx="313.58" cy="170.33" r="1.15" fill="#50b032" stroke="#33702a" stroke-width="0.5"/>
<circle cx="311.54" cy="179.81" r="1.15" fill="#50b032" stroke="#33702a" stroke-width="0.5"/>
<circle cx="314.63" cy="177.74" r="1.15" fill="#50b032" stroke="#33702a" stroke-width="0.5"/>
<circle cx="315.54" cy="188.26" r="1.15" fill="#50b032" stroke="#33702a" stroke-width="0.5"/>
<circle cx="315.65" cy="162.07" r="1.15" fill="#50b032" stroke="#33702a" stroke-width="0.5"/>
<circle cx="313.70" cy="179.45" r="1.15" fill="#50b032" stroke="#33702a" stroke-width="0.5"/>
<circle cx="315.89" cy="175.78" r="1.15" fill="#50b032" stroke="#33702a" stroke-width="0.5"/>
<circle cx="313.25" cy="168.44" r="1.15" fill="#50b032" stroke="#33702a" stroke-width="0.5"/>
<circle cx="311.91" cy="184.39" r="1.15" fill="#50b032" stroke="#33702a" stroke-width="0.5"/>
<circle cx="310.65" cy="181.58" r="1.15" fill="#50b032" stroke="#33702a" stroke-width="0.5"/>
<circle cx="316.40" cy="161.58" r="1.15" fill="#50b032" stroke="#33702a" stroke-width="0.5"/>
<circle cx="311.65" cy="193.64" r="1.15" fill="#50b032" stroke="#33702a" stroke-width="0.5"/>
<circle cx="315.44" cy="202.08" r="1.15" fill="#50b032" stroke="#33702a" stroke-width="0.5"/>
<circle cx="316.06" cy="198.82" r="1.15" fill="#50b032" stroke="#33702a" stroke-width="0.5"/>
<circle cx="313.67" cy="196.92" r="1.15" fill="#50b032" stroke="#33702a" stroke-width="0.5"/>
<circle cx="313.90" cy="200.79" r="1.15" fill="#50b032" stroke="#33702a" stroke-width="0.5"/>
<circle cx="312.31" cy="203.50" r="1.15" fill="#50b032" stroke="#33702a" stroke-width="0.5"/>
<circle cx="311.67" cy="204.65" r="1.15" fill="#50b032" stroke="#33702a" stroke-width="0.5"/>
<circle cx="313.37" cy="189.79" r="1.15" fill="#50b032" stroke="#33702a" stroke-width="0.5"/>
<circle cx="311.16" cy="199.72" r="1.15" fill="#50b032" stroke="#33702a" stroke-width="0.5"/>
<circle cx="316.00" cy="190.57" r="1.15" fill="#50b032" stroke="#33702a" stroke-width="0.5"/>
<circle cx="310.69" cy="194.47" r="1.15" fill="#50b032" stroke="#33702a" stroke-width="0.5"/>
<circle cx="315.27" cy="192.29" r="1.15" fill="#50b032" stroke="#33702a" stroke-width="0.5"/>
<circle cx="312.95" cy="193.44" r="1.15" fill="#50b032" stroke="#33702a" stroke-width="0.5"/>
<circle cx="310.56" cy="190.89" r="1.15" fill="#50b032" stroke="#33702a" stroke-width="0.5"/>
<circle cx="312.65" cy="199.12" r="1.15" fill="#50b032" stroke="#33702a" stroke-width="0.5"/>
<circle cx="314.78" cy="199.64" r="1.15" fill="#50b032" stroke="#33702a" stroke-width="0.5"/>
<circle cx="315.97" cy="198.50" r="1.15" fill="#50b032" stroke="#33702a" stroke-width="0.5"/>
<circle cx="314.38" cy="200.44" r="1.15" fill="#50b032" stroke="#33702a" stroke-width="0.5"/>
<circle cx="312.44" cy="204.89" r="1.15" fill="#50b032" stroke="#33702a" stroke-width="0.5"/>
<circle cx="311.33" cy="203.44" r="1.15" fill="#50b032" stroke="#33702a" stroke-width="0.5"/>
<circle cx="313.37" cy="192.81" r="1.15" fill="#50b032" stroke="#33702a" stroke-width="0.5"/>
<circle cx="312.68" cy="198.12" r="1.15" fill="#50b032" stroke="#33702a" stroke-width="0.5"/>
<circle cx="311.53" cy="190.42" r="1.15" fill="#50b032" stroke="#33702a" stroke-width="0.5"/>
<circle cx="312.13" cy="204.40" r="1.15" fill="#50b032" stroke="#33702a" stroke-width="0.5"/>
<circle cx="315.11" cy="194.75" r="1.15" fill="#50b032" stroke="#33702a" stroke-width="0.5"/>
<circle cx="314.77" cy="192.64" r="1.15" fill="#50b032" stroke="#33702a" stroke-width="0.5"/>
<circle cx="311.32" cy="196.25" r="1.15" fill="#50b032" stroke="#33702a" stroke-width="0.5"/>
<circle cx="312.64" cy="204.59" r="1.15" fill="#50b032" stroke="#33702a" stroke-width="0.5"/>
<circle cx="311.12" cy="201.38" r="1.15" fill="#50b032" stroke="#33702a" stroke-width="0.5"/>
<circle cx="311.13" cy="204.11" r="1.15" fill="#50b032" stroke="#33702a" stroke-width="0.5"/>
<circle cx="315.05" cy="204.32" r="1.15" fill="#50b032" stroke="#33702a" stroke-width="0.5"/>
<circle cx="314.47" cy="191.14" r="1.15" fill="#50b032" stroke="#33702a" stroke-width="0.5"/>
<circle cx="313.50" cy="142.10" r="1.15" fill="#50b032" stroke="#33702a" stroke-width="0.5"/>
<circle cx="310.50" cy="207.50" r="1.15" fill="#50b032" stroke="#33702a" stroke-width="0.5"/>
<circle cx="313.00" cy="208.00" r="1.15" fill="#50b032" stroke="#33702a" stroke-width="0.5"/>
<circle cx="315.20" cy="210.30" r="1.15" fill="#50b032" stroke="#33702a" stroke-width="0.5"/>
<circle cx="311.00" cy="210.60" r="1.15" fill="#50b032" stroke="#33702a" stroke-width="0.5"/>
<circle cx="314.50" cy="230.80" r="1.15" fill="#50b032" stroke="#33702a" stroke-width="0.5"/>
<line x1="35.50" y1="22.50" x2="337.00" y2="22.50" stroke="#8a8a8a" stroke-width="1.0"/>
<line x1="35.50" y1="247.00" x2="337.00" y2="247.00" stroke="#8a8a8a" stroke-width="1.0"/>
<line x1="35.50" y1="22.00" x2="35.50" y2="247.50" stroke="#8a8a8a" stroke-width="1.0"/>
<line x1="337.00" y1="22.00" x2="337.00" y2="247.50" stroke="#8a8a8a" stroke-width="1.0"/>
<rect x="210.40" y="24.50" width="124.60" height="87.20" fill="#ffffff" stroke="#e0e0e0" stroke-width="1.0"/>
<text x="274.60" y="34.80" font-size="10.6" text-anchor="middle" fill="#262626" stroke="#262626" stroke-width="0.15" textLength="77.5" lengthAdjust="spacingAndGlyphs">S/Functional host</text>
<text x="269.40" y="46.00" font-size="10.6" text-anchor="middle" fill="#262626" stroke="#262626" stroke-width="0.15" textLength="62.0" lengthAdjust="spacingAndGlyphs">ratio (mg/mg)</text>
<rect x="254.30" y="59.20" width="24.50" height="6.60" fill="#3ca0eb" stroke="#333333" stroke-width="0.8"/>
<text x="291.60" y="66.20" font-size="10.6" text-anchor="start" fill="#262626" stroke="#262626" stroke-width="0.15" textLength="12.6" lengthAdjust="spacingAndGlyphs">2.3</text>
<rect x="254.30" y="77.40" width="24.50" height="6.60" fill="#f57891" stroke="#333333" stroke-width="0.8"/>
<text x="291.60" y="84.40" font-size="10.6" text-anchor="start" fill="#262626" stroke="#262626" stroke-width="0.15">3</text>
<rect x="254.30" y="95.60" width="24.50" height="6.60" fill="#50af32" stroke="#333333" stroke-width="0.8"/>
<text x="291.60" y="102.60" font-size="10.6" text-anchor="start" fill="#262626" stroke="#262626" stroke-width="0.15">4</text>
<line x1="376.00" y1="247.50" x2="378.50" y2="247.50" stroke="#8a8a8a" stroke-width="0.9"/>
<text x="374.50" y="251.50" font-size="10.4" text-anchor="end" fill="#262626" stroke="#262626" stroke-width="0.15">30</text>
<line x1="376.00" y1="222.50" x2="378.50" y2="222.50" stroke="#8a8a8a" stroke-width="0.9"/>
<text x="374.50" y="226.50" font-size="10.4" text-anchor="end" fill="#262626" stroke="#262626" stroke-width="0.15">40</text>
<line x1="376.00" y1="197.50" x2="378.50" y2="197.50" stroke="#8a8a8a" stroke-width="0.9"/>
<text x="374.50" y="201.50" font-size="10.4" text-anchor="end" fill="#262626" stroke="#262626" stroke-width="0.15">50</text>
<line x1="376.00" y1="172.50" x2="378.50" y2="172.50" stroke="#8a8a8a" stroke-width="0.9"/>
<text x="374.50" y="176.50" font-size="10.4" text-anchor="end" fill="#262626" stroke="#262626" stroke-width="0.15">60</text>
<line x1="376.00" y1="147.50" x2="378.50" y2="147.50" stroke="#8a8a8a" stroke-width="0.9"/>
<text x="374.50" y="151.50" font-size="10.4" text-anchor="end" fill="#262626" stroke="#262626" stroke-width="0.15">70</text>
<line x1="376.00" y1="122.50" x2="378.50" y2="122.50" stroke="#8a8a8a" stroke-width="0.9"/>
<text x="374.50" y="126.50" font-size="10.4" text-anchor="end" fill="#262626" stroke="#262626" stroke-width="0.15">80</text>
<line x1="376.00" y1="97.50" x2="378.50" y2="97.50" stroke="#8a8a8a" stroke-width="0.9"/>
<text x="374.50" y="101.50" font-size="10.4" text-anchor="end" fill="#262626" stroke="#262626" stroke-width="0.15">90</text>
<line x1="376.00" y1="72.50" x2="378.50" y2="72.50" stroke="#8a8a8a" stroke-width="0.9"/>
<text x="374.50" y="76.50" font-size="10.4" text-anchor="end" fill="#262626" stroke="#262626" stroke-width="0.15">100</text>
<line x1="376.00" y1="47.50" x2="378.50" y2="47.50" stroke="#8a8a8a" stroke-width="0.9"/>
<text x="374.50" y="51.50" font-size="10.4" text-anchor="end" fill="#262626" stroke="#262626" stroke-width="0.15">110</text>
<line x1="376.00" y1="22.50" x2="378.50" y2="22.50" stroke="#8a8a8a" stroke-width="0.9"/>
<text x="374.50" y="26.50" font-size="10.4" text-anchor="end" fill="#262626" stroke="#262626" stroke-width="0.15">120</text>
<line x1="428.83" y1="247.50" x2="428.83" y2="250.00" stroke="#8a8a8a" stroke-width="0.9"/>
<text x="428.83" y="259.60" font-size="10.4" text-anchor="middle" fill="#262626" stroke="#262626" stroke-width="0.15">≤5</text>
<line x1="529.50" y1="247.50" x2="529.50" y2="250.00" stroke="#8a8a8a" stroke-width="0.9"/>
<text x="529.50" y="259.60" font-size="10.4" text-anchor="middle" fill="#262626" stroke="#262626" stroke-width="0.15">5-7</text>
<line x1="630.17" y1="247.50" x2="630.17" y2="250.00" stroke="#8a8a8a" stroke-width="0.9"/>
<text x="630.17" y="259.60" font-size="10.4" text-anchor="middle" fill="#262626" stroke="#262626" stroke-width="0.15">&gt;7</text>
<text x="529.50" y="272.10" font-size="10.8" text-anchor="middle" fill="#262626" stroke="#262626" stroke-width="0.15" textLength="61.3" lengthAdjust="spacingAndGlyphs">E/S (μL/mg)</text>
<text x="352.90" y="135.00" font-size="11.2" text-anchor="middle" fill="#262626" stroke="#262626" stroke-width="0.15" textLength="179.2" lengthAdjust="spacingAndGlyphs" transform="rotate(-90 352.90 135.00)">Normalized capacity retention (%)</text>
<line x1="402.03" y1="57.80" x2="402.03" y2="73.60" stroke="#a0a0a0" stroke-width="0.85"/>
<line x1="402.03" y1="108.80" x2="402.03" y2="117.20" stroke="#a0a0a0" stroke-width="0.85"/>
<line x1="395.33" y1="57.80" x2="408.73" y2="57.80" stroke="#a0a0a0" stroke-width="0.85"/>
<line x1="395.33" y1="117.20" x2="408.73" y2="117.20" stroke="#a0a0a0" stroke-width="0.85"/>
<rect x="388.63" y="73.60" width="26.80" height="35.20" fill="#64a7d9" stroke="#505050" stroke-opacity="0.35" stroke-width="0.8"/>
<line x1="388.63" y1="92.00" x2="415.43" y2="92.00" stroke="#558db8" stroke-width="0.9"/>
<circle cx="402.60" cy="57.80" r="1.15" fill="#3c9eea" stroke="#35628a" stroke-width="0.5"/>
<circle cx="398.80" cy="68.20" r="1.15" fill="#3c9eea" stroke="#35628a" stroke-width="0.5"/>
<circle cx="401.60" cy="70.30" r="1.15" fill="#3c9eea" stroke="#35628a" stroke-width="0.5"/>
<circle cx="402.60" cy="73.20" r="1.15" fill="#3c9eea" stroke="#35628a" stroke-width="0.5"/>
<circle cx="403.50" cy="73.60" r="1.15" fill="#3c9eea" stroke="#35628a" stroke-width="0.5"/>
<circle cx="404.60" cy="84.20" r="1.15" fill="#3c9eea" stroke="#35628a" stroke-width="0.5"/>
<circle cx="399.60" cy="85.80" r="1.15" fill="#3c9eea" stroke="#35628a" stroke-width="0.5"/>
<circle cx="403.20" cy="87.60" r="1.15" fill="#3c9eea" stroke="#35628a" stroke-width="0.5"/>
<circle cx="400.50" cy="96.20" r="1.15" fill="#3c9eea" stroke="#35628a" stroke-width="0.5"/>
<circle cx="398.50" cy="103.10" r="1.15" fill="#3c9eea" stroke="#35628a" stroke-width="0.5"/>
<circle cx="401.90" cy="104.30" r="1.15" fill="#3c9eea" stroke="#35628a" stroke-width="0.5"/>
<circle cx="402.60" cy="106.80" r="1.15" fill="#3c9eea" stroke="#35628a" stroke-width="0.5"/>
<circle cx="404.90" cy="109.50" r="1.15" fill="#3c9eea" stroke="#35628a" stroke-width="0.5"/>
<circle cx="399.20" cy="112.60" r="1.15" fill="#3c9eea" stroke="#35628a" stroke-width="0.5"/>
<circle cx="403.90" cy="117.20" r="1.15" fill="#3c9eea" stroke="#35628a" stroke-width="0.5"/>
<circle cx="398.70" cy="169.70" r="1.15" fill="#3c9eea" stroke="#35628a" stroke-width="0.5"/>
<circle cx="403.40" cy="231.50" r="1.15" fill="#3c9eea" stroke="#35628a" stroke-width="0.5"/>
<line x1="428.83" y1="78.50" x2="428.83" y2="86.40" stroke="#a0a0a0" stroke-width="0.85"/>
<line x1="428.83" y1="102.60" x2="428.83" y2="108.60" stroke="#a0a0a0" stroke-width="0.85"/>
<line x1="422.13" y1="78.50" x2="435.53" y2="78.50" stroke="#a0a0a0" stroke-width="0.85"/>
<line x1="422.13" y1="108.60" x2="435.53" y2="108.60" stroke="#a0a0a0" stroke-width="0.85"/>
<rect x="415.43" y="86.40" width="26.80" height="16.20" fill="#e88b9d" stroke="#505050" stroke-opacity="0.35" stroke-width="0.8"/>
<line x1="415.43" y1="94.30" x2="442.23" y2="94.30" stroke="#c57685" stroke-width="0.9"/>
<circle cx="429.00" cy="78.50" r="1.15" fill="#f26a8a" stroke="#9a4458" stroke-width="0.5"/>
<circle cx="431.00" cy="82.00" r="1.15" fill="#f26a8a" stroke="#9a4458" stroke-width="0.5"/>
<circle cx="426.90" cy="85.00" r="1.15" fill="#f26a8a" stroke="#9a4458" stroke-width="0.5"/>
<circle cx="426.10" cy="86.60" r="1.15" fill="#f26a8a" stroke="#9a4458" stroke-width="0.5"/>
<circle cx="431.10" cy="90.30" r="1.15" fill="#f26a8a" stroke="#9a4458" stroke-width="0.5"/>
<circle cx="430.60" cy="92.30" r="1.15" fill="#f26a8a" stroke="#9a4458" stroke-width="0.5"/>
<circle cx="426.60" cy="97.10" r="1.15" fill="#f26a8a" stroke="#9a4458" stroke-width="0.5"/>
<circle cx="426.90" cy="100.80" r="1.15" fill="#f26a8a" stroke="#9a4458" stroke-width="0.5"/>
<circle cx="426.10" cy="108.80" r="1.15" fill="#f26a8a" stroke="#9a4458" stroke-width="0.5"/>
<circle cx="429.50" cy="131.60" r="1.15" fill="#f26a8a" stroke="#9a4458" stroke-width="0.5"/>
<circle cx="431.00" cy="156.00" r="1.15" fill="#f26a8a" stroke="#9a4458" stroke-width="0.5"/>
<line x1="455.63" y1="82.20" x2="455.63" y2="113.20" stroke="#a0a0a0" stroke-width="0.85"/>
<line x1="455.63" y1="146.50" x2="455.63" y2="172.50" stroke="#a0a0a0" stroke-width="0.85"/>
<line x1="448.93" y1="82.20" x2="462.33" y2="82.20" stroke="#a0a0a0" stroke-width="0.85"/>
<line x1="448.93" y1="172.50" x2="462.33" y2="172.50" stroke="#a0a0a0" stroke-width="0.85"/>
<rect x="442.23" y="113.20" width="26.80" height="33.30" fill="#6aaa5a" stroke="#505050" stroke-opacity="0.35" stroke-width="0.8"/>
<line x1="442.23" y1="130.00" x2="469.03" y2="130.00" stroke="#5a904c" stroke-width="0.9"/>
<circle cx="457.60" cy="82.20" r="1.15" fill="#50b032" stroke="#33702a" stroke-width="0.5"/>
<circle cx="453.20" cy="94.90" r="1.15" fill="#50b032" stroke="#33702a" stroke-width="0.5"/>
<circle cx="454.80" cy="93.90" r="1.15" fill="#50b032" stroke="#33702a" stroke-width="0.5"/>
<circle cx="455.10" cy="96.80" r="1.15" fill="#50b032" stroke="#33702a" stroke-width="0.5"/>
<circle cx="452.90" cy="110.60" r="1.15" fill="#50b032" stroke="#33702a" stroke-width="0.5"/>
<circle cx="456.10" cy="113.80" r="1.15" fill="#50b032" stroke="#33702a" stroke-width="0.5"/>
<circle cx="458.00" cy="113.40" r="1.15" fill="#50b032" stroke="#33702a" stroke-width="0.5"/>
<circle cx="453.20" cy="114.70" r="1.15" fill="#50b032" stroke="#33702a" stroke-width="0.5"/>
<circle cx="455.70" cy="115.70" r="1.15" fill="#50b032" stroke="#33702a" stroke-width="0.5"/>
<circle cx="453.20" cy="119.50" r="1.15" fill="#50b032" stroke="#33702a" stroke-width="0.5"/>
<circle cx="455.50" cy="123.80" r="1.15" fill="#50b032" stroke="#33702a" stroke-width="0.5"/>
<circle cx="453.20" cy="129.90" r="1.15" fill="#50b032" stroke="#33702a" stroke-width="0.5"/>
<circle cx="452.30" cy="131.80" r="1.15" fill="#50b032" stroke="#33702a" stroke-width="0.5"/>
<circle cx="457.00" cy="130.20" r="1.15" fill="#50b032" stroke="#33702a" stroke-width="0.5"/>
<circle cx="456.60" cy="140.30" r="1.15" fill="#50b032" stroke="#33702a" stroke-width="0.5"/>
<circle cx="456.10" cy="144.60" r="1.15" fill="#50b032" stroke="#33702a" stroke-width="0.5"/>
<circle cx="452.30" cy="146.50" r="1.15" fill="#50b032" stroke="#33702a" stroke-width="0.5"/>
<circle cx="457.00" cy="154.80" r="1.15" fill="#50b032" stroke="#33702a" stroke-width="0.5"/>
<circle cx="452.90" cy="157.70" r="1.15" fill="#50b032" stroke="#33702a" stroke-width="0.5"/>
<circle cx="458.90" cy="172.80" r="1.15" fill="#50b032" stroke="#33702a" stroke-width="0.5"/>
<circle cx="454.20" cy="223.60" r="1.15" fill="#50b032" stroke="#33702a" stroke-width="0.5"/>
<line x1="502.70" y1="28.00" x2="502.70" y2="83.40" stroke="#a0a0a0" stroke-width="0.85"/>
<line x1="502.70" y1="133.30" x2="502.70" y2="192.20" stroke="#a0a0a0" stroke-width="0.85"/>
<line x1="496.00" y1="28.00" x2="509.40" y2="28.00" stroke="#a0a0a0" stroke-width="0.85"/>
<line x1="496.00" y1="192.20" x2="509.40" y2="192.20" stroke="#a0a0a0" stroke-width="0.85"/>
<rect x="489.30" y="83.40" width="26.80" height="49.90" fill="#64a7d9" stroke="#505050" stroke-opacity="0.35" stroke-width="0.8"/>
<line x1="489.30" y1="105.00" x2="516.10" y2="105.00" stroke="#558db8" stroke-width="0.9"/>
<circle cx="505.80" cy="28.00" r="1.15" fill="#3c9eea" stroke="#35628a" stroke-width="0.5"/>
<circle cx="502.30" cy="51.70" r="1.15" fill="#3c9eea" stroke="#35628a" stroke-width="0.5"/>
<circle cx="501.50" cy="67.70" r="1.15" fill="#3c9eea" stroke="#35628a" stroke-width="0.5"/>
<circle cx="505.50" cy="70.70" r="1.15" fill="#3c9eea" stroke="#35628a" stroke-width="0.5"/>
<circle cx="500.70" cy="76.40" r="1.15" fill="#3c9eea" stroke="#35628a" stroke-width="0.5"/>
<circle cx="500.70" cy="82.60" r="1.15" fill="#3c9eea" stroke="#35628a" stroke-width="0.5"/>
<circle cx="500.40" cy="85.50" r="1.15" fill="#3c9eea" stroke="#35628a" stroke-width="0.5"/>
<circle cx="502.30" cy="89.00" r="1.15" fill="#3c9eea" stroke="#35628a" stroke-width="0.5"/>
<circle cx="499.60" cy="94.50" r="1.15" fill="#3c9eea" stroke="#35628a" stroke-width="0.5"/>
<circle cx="503.40" cy="95.50" r="1.15" fill="#3c9eea" stroke="#35628a" stroke-width="0.5"/>
<circle cx="502.10" cy="102.60" r="1.15" fill="#3c9eea" stroke="#35628a" stroke-width="0.5"/>
<circle cx="504.30" cy="107.20" r="1.15" fill="#3c9eea" stroke="#35628a" stroke-width="0.5"/>
<circle cx="503.10" cy="109.90" r="1.15" fill="#3c9eea" stroke="#35628a" stroke-width="0.5"/>
<circle cx="502.60" cy="118.00" r="1.15" fill="#3c9eea" stroke="#35628a" stroke-width="0.5"/>
<circle cx="501.40" cy="121.10" r="1.15" fill="#3c9eea" stroke="#35628a" stroke-width="0.5"/>
<circle cx="502.10" cy="129.50" r="1.15" fill="#3c9eea" stroke="#35628a" stroke-width="0.5"/>
<circle cx="501.70" cy="134.80" r="1.15" fill="#3c9eea" stroke="#35628a" stroke-width="0.5"/>
<circle cx="506.00" cy="139.80" r="1.15" fill="#3c9eea" stroke="#35628a" stroke-width="0.5"/>
<circle cx="499.10" cy="145.40" r="1.15" fill="#3c9eea" stroke="#35628a" stroke-width="0.5"/>
<circle cx="505.10" cy="156.60" r="1.15" fill="#3c9eea" stroke="#35628a" stroke-width="0.5"/>
<circle cx="503.90" cy="180.60" r="1.15" fill="#3c9eea" stroke="#35628a" stroke-width="0.5"/>
<circle cx="501.20" cy="192.20" r="1.15" fill="#3c9eea" stroke="#35628a" stroke-width="0.5"/>
<line x1="529.50" y1="46.30" x2="529.50" y2="87.40" stroke="#a0a0a0" stroke-width="0.85"/>
<line x1="529.50" y1="117.60" x2="529.50" y2="135.10" stroke="#a0a0a0" stroke-width="0.85"/>
<line x1="522.80" y1="46.30" x2="536.20" y2="46.30" stroke="#a0a0a0" stroke-width="0.85"/>
<line x1="522.80" y1="135.10" x2="536.20" y2="135.10" stroke="#a0a0a0" stroke-width="0.85"/>
<rect x="516.10" y="87.40" width="26.80" height="30.20" fill="#e88b9d" stroke="#505050" stroke-opacity="0.35" stroke-width="0.8"/>
<line x1="516.10" y1="104.20" x2="542.90" y2="104.20" stroke="#c57685" stroke-width="0.9"/>
<circle cx="531.60" cy="46.30" r="1.15" fill="#f26a8a" stroke="#9a4458" stroke-width="0.5"/>
<circle cx="526.70" cy="68.40" r="1.15" fill="#f26a8a" stroke="#9a4458" stroke-width="0.5"/>
<circle cx="531.60" cy="70.70" r="1.15" fill="#f26a8a" stroke="#9a4458" stroke-width="0.5"/>
<circle cx="532.50" cy="75.60" r="1.15" fill="#f26a8a" stroke="#9a4458" stroke-width="0.5"/>
<circle cx="527.30" cy="80.10" r="1.15" fill="#f26a8a" stroke="#9a4458" stroke-width="0.5"/>
<circle cx="532.50" cy="81.60" r="1.15" fill="#f26a8a" stroke="#9a4458" stroke-width="0.5"/>
<circle cx="527.70" cy="83.40" r="1.15" fill="#f26a8a" stroke="#9a4458" stroke-width="0.5"/>
<circle cx="526.70" cy="85.20" r="1.15" fill="#f26a8a" stroke="#9a4458" stroke-width="0.5"/>
<circle cx="531.30" cy="89.20" r="1.15" fill="#f26a8a" stroke="#9a4458" stroke-width="0.5"/>
<circle cx="529.10" cy="92.40" r="1.15" fill="#f26a8a" stroke="#9a4458" stroke-width="0.5"/>
<circle cx="528.60" cy="94.20" r="1.15" fill="#f26a8a" stroke="#9a4458" stroke-width="0.5"/>
<circle cx="528.00" cy="95.10" r="1.15" fill="#f26a8a" stroke="#9a4458" stroke-width="0.5"/>
<circle cx="531.30" cy="102.40" r="1.15" fill="#f26a8a" stroke="#9a4458" stroke-width="0.5"/>
<circle cx="530.40" cy="103.60" r="1.15" fill="#f26a8a" stroke="#9a4458" stroke-width="0.5"/>
<circle cx="531.60" cy="104.70" r="1.15" fill="#f26a8a" stroke="#9a4458" stroke-width="0.5"/>
<circle cx="526.70" cy="108.30" r="1.15" fill="#f26a8a" stroke="#9a4458" stroke-width="0.5"/>
<circle cx="530.40" cy="110.50" r="1.15" fill="#f26a8a" stroke="#9a4458" stroke-width="0.5"/>
<circle cx="527.70" cy="112.30" r="1.15" fill="#f26a8a" stroke="#9a4458" stroke-width="0.5"/>
<circle cx="532.50" cy="115.50" r="1.15" fill="#f26a8a" stroke="#9a4458" stroke-width="0.5"/>
<circle cx="527.70" cy="119.50" r="1.15" fill="#f26a8a" stroke="#9a4458" stroke-width="0.5"/>
<circle cx="531.30" cy="123.10" r="1.15" fill="#f26a8a" stroke="#9a4458" stroke-width="0.5"/>
<circle cx="530.90" cy="125.50" r="1.15" fill="#f26a8a" stroke="#9a4458" stroke-width="0.5"/>
<circle cx="527.10" cy="129.80" r="1.15" fill="#f26a8a" stroke="#9a4458" stroke-width="0.5"/>
<circle cx="532.20" cy="133.10" r="1.15" fill="#f26a8a" stroke="#9a4458" stroke-width="0.5"/>
<circle cx="531.30" cy="134.90" r="1.15" fill="#f26a8a" stroke="#9a4458" stroke-width="0.5"/>
<circle cx="530.00" cy="210.40" r="1.15" fill="#f26a8a" stroke="#9a4458" stroke-width="0.5"/>
<line x1="556.30" y1="62.30" x2="556.30" y2="81.00" stroke="#a0a0a0" stroke-width="0.85"/>
<line x1="556.30" y1="111.80" x2="556.30" y2="135.70" stroke="#a0a0a0" stroke-width="0.85"/>
<line x1="549.60" y1="62.30" x2="563.00" y2="62.30" stroke="#a0a0a0" stroke-width="0.85"/>
<line x1="549.60" y1="135.70" x2="563.00" y2="135.70" stroke="#a0a0a0" stroke-width="0.85"/>
<rect x="542.90" y="81.00" width="26.80" height="30.80" fill="#6aaa5a" stroke="#505050" stroke-opacity="0.35" stroke-width="0.8"/>
<line x1="542.90" y1="93.40" x2="569.70" y2="93.40" stroke="#5a904c" stroke-width="0.9"/>
<circle cx="557.20" cy="62.30" r="1.15" fill="#50b032" stroke="#33702a" stroke-width="0.5"/>
<circle cx="556.40" cy="69.30" r="1.15" fill="#50b032" stroke="#33702a" stroke-width="0.5"/>
<circle cx="556.70" cy="70.70" r="1.15" fill="#50b032" stroke="#33702a" stroke-width="0.5"/>
<circle cx="554.30" cy="76.10" r="1.15" fill="#50b032" stroke="#33702a" stroke-width="0.5"/>
<circle cx="558.50" cy="80.90" r="1.15" fill="#50b032" stroke="#33702a" stroke-width="0.5"/>
<circle cx="557.70" cy="82.60" r="1.15" fill="#50b032" stroke="#33702a" stroke-width="0.5"/>
<circle cx="557.70" cy="85.80" r="1.15" fill="#50b032" stroke="#33702a" stroke-width="0.5"/>
<circle cx="554.00" cy="87.40" r="1.15" fill="#50b032" stroke="#33702a" stroke-width="0.5"/>
<circle cx="552.80" cy="93.40" r="1.15" fill="#50b032" stroke="#33702a" stroke-width="0.5"/>
<circle cx="553.50" cy="95.50" r="1.15" fill="#50b032" stroke="#33702a" stroke-width="0.5"/>
<circle cx="558.00" cy="98.00" r="1.15" fill="#50b032" stroke="#33702a" stroke-width="0.5"/>
<circle cx="553.20" cy="104.00" r="1.15" fill="#50b032" stroke="#33702a" stroke-width="0.5"/>
<circle cx="556.40" cy="111.80" r="1.15" fill="#50b032" stroke="#33702a" stroke-width="0.5"/>
<circle cx="555.30" cy="128.00" r="1.15" fill="#50b032" stroke="#33702a" stroke-width="0.5"/>
<circle cx="555.30" cy="132.50" r="1.15" fill="#50b032" stroke="#33702a" stroke-width="0.5"/>
<circle cx="557.70" cy="135.60" r="1.15" fill="#50b032" stroke="#33702a" stroke-width="0.5"/>
<circle cx="557.70" cy="230.50" r="1.15" fill="#50b032" stroke="#33702a" stroke-width="0.5"/>
<line x1="603.37" y1="38.20" x2="603.37" y2="80.20" stroke="#a0a0a0" stroke-width="0.85"/>
<line x1="603.37" y1="111.30" x2="603.37" y2="155.20" stroke="#a0a0a0" stroke-width="0.85"/>
<line x1="596.67" y1="38.20" x2="610.07" y2="38.20" stroke="#a0a0a0" stroke-width="0.85"/>
<line x1="596.67" y1="155.20" x2="610.07" y2="155.20" stroke="#a0a0a0" stroke-width="0.85"/>
<rect x="589.97" y="80.20" width="26.80" height="31.10" fill="#64a7d9" stroke="#505050" stroke-opacity="0.35" stroke-width="0.8"/>
<line x1="589.97" y1="91.00" x2="616.77" y2="91.00" stroke="#558db8" stroke-width="0.9"/>
<circle cx="604.85" cy="95.73" r="1.15" fill="#3c9eea" stroke="#35628a" stroke-width="0.5"/>
<circle cx="601.87" cy="96.61" r="1.15" fill="#3c9eea" stroke="#35628a" stroke-width="0.5"/>
<circle cx="602.78" cy="100.95" r="1.15" fill="#3c9eea" stroke="#35628a" stroke-width="0.5"/>
<circle cx="604.63" cy="95.79" r="1.15" fill="#3c9eea" stroke="#35628a" stroke-width="0.5"/>
<circle cx="605.75" cy="98.99" r="1.15" fill="#3c9eea" stroke="#35628a" stroke-width="0.5"/>
<circle cx="602.68" cy="94.93" r="1.15" fill="#3c9eea" stroke="#35628a" stroke-width="0.5"/>
<circle cx="603.87" cy="104.48" r="1.15" fill="#3c9eea" stroke="#35628a" stroke-width="0.5"/>
<circle cx="601.61" cy="105.29" r="1.15" fill="#3c9eea" stroke="#35628a" stroke-width="0.5"/>
<circle cx="603.53" cy="97.13" r="1.15" fill="#3c9eea" stroke="#35628a" stroke-width="0.5"/>
<circle cx="602.27" cy="92.72" r="1.15" fill="#3c9eea" stroke="#35628a" stroke-width="0.5"/>
<circle cx="604.97" cy="111.26" r="1.15" fill="#3c9eea" stroke="#35628a" stroke-width="0.5"/>
<circle cx="604.67" cy="95.64" r="1.15" fill="#3c9eea" stroke="#35628a" stroke-width="0.5"/>
<circle cx="602.31" cy="106.14" r="1.15" fill="#3c9eea" stroke="#35628a" stroke-width="0.5"/>
<circle cx="600.86" cy="102.85" r="1.15" fill="#3c9eea" stroke="#35628a" stroke-width="0.5"/>
<circle cx="604.29" cy="101.73" r="1.15" fill="#3c9eea" stroke="#35628a" stroke-width="0.5"/>
<circle cx="601.46" cy="93.10" r="1.15" fill="#3c9eea" stroke="#35628a" stroke-width="0.5"/>
<circle cx="600.41" cy="109.02" r="1.15" fill="#3c9eea" stroke="#35628a" stroke-width="0.5"/>
<circle cx="605.29" cy="99.07" r="1.15" fill="#3c9eea" stroke="#35628a" stroke-width="0.5"/>
<circle cx="602.61" cy="103.42" r="1.15" fill="#3c9eea" stroke="#35628a" stroke-width="0.5"/>
<circle cx="603.31" cy="96.64" r="1.15" fill="#3c9eea" stroke="#35628a" stroke-width="0.5"/>
<circle cx="604.18" cy="98.68" r="1.15" fill="#3c9eea" stroke="#35628a" stroke-width="0.5"/>
<circle cx="604.92" cy="103.10" r="1.15" fill="#3c9eea" stroke="#35628a" stroke-width="0.5"/>
<circle cx="602.01" cy="101.49" r="1.15" fill="#3c9eea" stroke="#35628a" stroke-width="0.5"/>
<circle cx="603.89" cy="101.57" r="1.15" fill="#3c9eea" stroke="#35628a" stroke-width="0.5"/>
<circle cx="605.07" cy="103.87" r="1.15" fill="#3c9eea" stroke="#35628a" stroke-width="0.5"/>
<circle cx="602.73" cy="109.93" r="1.15" fill="#3c9eea" stroke="#35628a" stroke-width="0.5"/>
<circle cx="600.75" cy="99.90" r="1.15" fill="#3c9eea" stroke="#35628a" stroke-width="0.5"/>
<circle cx="604.75" cy="92.61" r="1.15" fill="#3c9eea" stroke="#35628a" stroke-width="0.5"/>
<circle cx="600.72" cy="109.32" r="1.15" fill="#3c9eea" stroke="#35628a" stroke-width="0.5"/>
<circle cx="602.01" cy="97.28" r="1.15" fill="#3c9eea" stroke="#35628a" stroke-width="0.5"/>
<circle cx="604.68" cy="103.18" r="1.15" fill="#3c9eea" stroke="#35628a" stroke-width="0.5"/>
<circle cx="601.69" cy="109.54" r="1.15" fill="#3c9eea" stroke="#35628a" stroke-width="0.5"/>
<circle cx="601.44" cy="91.03" r="1.15" fill="#3c9eea" stroke="#35628a" stroke-width="0.5"/>
<circle cx="602.23" cy="96.33" r="1.15" fill="#3c9eea" stroke="#35628a" stroke-width="0.5"/>
<circle cx="602.31" cy="102.87" r="1.15" fill="#3c9eea" stroke="#35628a" stroke-width="0.5"/>
<circle cx="603.96" cy="102.68" r="1.15" fill="#3c9eea" stroke="#35628a" stroke-width="0.5"/>
<circle cx="605.51" cy="95.75" r="1.15" fill="#3c9eea" stroke="#35628a" stroke-width="0.5"/>
<circle cx="602.20" cy="98.03" r="1.15" fill="#3c9eea" stroke="#35628a" stroke-width="0.5"/>
<circle cx="606.22" cy="82.23" r="1.15" fill="#3c9eea" stroke="#35628a" stroke-width="0.5"/>
<circle cx="602.26" cy="90.58" r="1.15" fill="#3c9eea" stroke="#35628a" stroke-width="0.5"/>
<circle cx="600.41" cy="88.82" r="1.15" fill="#3c9eea" stroke="#35628a" stroke-width="0.5"/>
<circle cx="605.93" cy="85.43" r="1.15" fill="#3c9eea" stroke="#35628a" stroke-width="0.5"/>
<circle cx="602.01" cy="80.80" r="1.15" fill="#3c9eea" stroke="#35628a" stroke-width="0.5"/>
<circle cx="604.14" cy="89.82" r="1.15" fill="#3c9eea" stroke="#35628a" stroke-width="0.5"/>
<circle cx="601.69" cy="82.26" r="1.15" fill="#3c9eea" stroke="#35628a" stroke-width="0.5"/>
<circle cx="602.21" cy="88.40" r="1.15" fill="#3c9eea" stroke="#35628a" stroke-width="0.5"/>
<circle cx="602.05" cy="88.37" r="1.15" fill="#3c9eea" stroke="#35628a" stroke-width="0.5"/>
<circle cx="603.42" cy="90.67" r="1.15" fill="#3c9eea" stroke="#35628a" stroke-width="0.5"/>
<circle cx="603.30" cy="88.45" r="1.15" fill="#3c9eea" stroke="#35628a" stroke-width="0.5"/>
<circle cx="604.32" cy="85.52" r="1.15" fill="#3c9eea" stroke="#35628a" stroke-width="0.5"/>
<circle cx="602.86" cy="87.84" r="1.15" fill="#3c9eea" stroke="#35628a" stroke-width="0.5"/>
<circle cx="605.91" cy="89.35" r="1.15" fill="#3c9eea" stroke="#35628a" stroke-width="0.5"/>
<circle cx="602.98" cy="86.93" r="1.15" fill="#3c9eea" stroke="#35628a" stroke-width="0.5"/>
<circle cx="603.33" cy="83.04" r="1.15" fill="#3c9eea" stroke="#35628a" stroke-width="0.5"/>
<circle cx="604.91" cy="85.69" r="1.15" fill="#3c9eea" stroke="#35628a" stroke-width="0.5"/>
<circle cx="600.53" cy="87.89" r="1.15" fill="#3c9eea" stroke="#35628a" stroke-width="0.5"/>
<circle cx="603.51" cy="89.50" r="1.15" fill="#3c9eea" stroke="#35628a" stroke-width="0.5"/>
<circle cx="602.76" cy="80.35" r="1.15" fill="#3c9eea" stroke="#35628a" stroke-width="0.5"/>
<circle cx="602.42" cy="87.61" r="1.15" fill="#3c9eea" stroke="#35628a" stroke-width="0.5"/>
<circle cx="603.41" cy="82.53" r="1.15" fill="#3c9eea" stroke="#35628a" stroke-width="0.5"/>
<circle cx="601.78" cy="83.55" r="1.15" fill="#3c9eea" stroke="#35628a" stroke-width="0.5"/>
<circle cx="600.54" cy="90.43" r="1.15" fill="#3c9eea" stroke="#35628a" stroke-width="0.5"/>
<circle cx="601.96" cy="90.41" r="1.15" fill="#3c9eea" stroke="#35628a" stroke-width="0.5"/>
<circle cx="601.71" cy="90.71" r="1.15" fill="#3c9eea" stroke="#35628a" stroke-width="0.5"/>
<circle cx="605.41" cy="80.77" r="1.15" fill="#3c9eea" stroke="#35628a" stroke-width="0.5"/>
<circle cx="605.85" cy="87.75" r="1.15" fill="#3c9eea" stroke="#35628a" stroke-width="0.5"/>
<circle cx="604.72" cy="83.26" r="1.15" fill="#3c9eea" stroke="#35628a" stroke-width="0.5"/>
<circle cx="602.97" cy="83.99" r="1.15" fill="#3c9eea" stroke="#35628a" stroke-width="0.5"/>
<circle cx="601.07" cy="84.19" r="1.15" fill="#3c9eea" stroke="#35628a" stroke-width="0.5"/>
<circle cx="601.05" cy="87.37" r="1.15" fill="#3c9eea" stroke="#35628a" stroke-width="0.5"/>
<circle cx="602.11" cy="90.16" r="1.15" fill="#3c9eea" stroke="#35628a" stroke-width="0.5"/>
<circle cx="606.05" cy="83.00" r="1.15" fill="#3c9eea" stroke="#35628a" stroke-width="0.5"/>
<circle cx="600.90" cy="87.06" r="1.15" fill="#3c9eea" stroke="#35628a" stroke-width="0.5"/>
<circle cx="603.07" cy="87.68" r="1.15" fill="#3c9eea" stroke="#35628a" stroke-width="0.5"/>
<circle cx="601.21" cy="85.98" r="1.15" fill="#3c9eea" stroke="#35628a" stroke-width="0.5"/>
<circle cx="602.06" cy="90.99" r="1.15" fill="#3c9eea" stroke="#35628a" stroke-width="0.5"/>
<circle cx="604.16" cy="75.74" r="1.15" fill="#3c9eea" stroke="#35628a" stroke-width="0.5"/>
<circle cx="603.21" cy="80.19" r="1.15" fill="#3c9eea" stroke="#35628a" stroke-width="0.5"/>
<circle cx="603.62" cy="77.50" r="1.15" fill="#3c9eea" stroke="#35628a" stroke-width="0.5"/>
<circle cx="605.00" cy="76.78" r="1.15" fill="#3c9eea" stroke="#35628a" stroke-width="0.5"/>
<circle cx="602.51" cy="75.14" r="1.15" fill="#3c9eea" stroke="#35628a" stroke-width="0.5"/>
<circle cx="603.15" cy="77.92" r="1.15" fill="#3c9eea" stroke="#35628a" stroke-width="0.5"/>
<circle cx="601.73" cy="74.88" r="1.15" fill="#3c9eea" stroke="#35628a" stroke-width="0.5"/>
<circle cx="601.69" cy="74.55" r="1.15" fill="#3c9eea" stroke="#35628a" stroke-width="0.5"/>
<circle cx="602.78" cy="73.24" r="1.15" fill="#3c9eea" stroke="#35628a" stroke-width="0.5"/>
<circle cx="605.97" cy="79.64" r="1.15" fill="#3c9eea" stroke="#35628a" stroke-width="0.5"/>
<circle cx="605.92" cy="76.67" r="1.15" fill="#3c9eea" stroke="#35628a" stroke-width="0.5"/>
<circle cx="602.69" cy="74.15" r="1.15" fill="#3c9eea" stroke="#35628a" stroke-width="0.5"/>
<circle cx="600.88" cy="76.82" r="1.15" fill="#3c9eea" stroke="#35628a" stroke-width="0.5"/>
<circle cx="602.11" cy="79.30" r="1.15" fill="#3c9eea" stroke="#35628a" stroke-width="0.5"/>
<circle cx="602.92" cy="79.78" r="1.15" fill="#3c9eea" stroke="#35628a" stroke-width="0.5"/>
<circle cx="602.63" cy="77.63" r="1.15" fill="#3c9eea" stroke="#35628a" stroke-width="0.5"/>
<circle cx="600.86" cy="75.98" r="1.15" fill="#3c9eea" stroke="#35628a" stroke-width="0.5"/>
<circle cx="600.89" cy="76.26" r="1.15" fill="#3c9eea" stroke="#35628a" stroke-width="0.5"/>
<circle cx="603.09" cy="77.76" r="1.15" fill="#3c9eea" stroke="#35628a" stroke-width="0.5"/>
<circle cx="603.35" cy="72.91" r="1.15" fill="#3c9eea" stroke="#35628a" stroke-width="0.5"/>
<circle cx="601.80" cy="79.76" r="1.15" fill="#3c9eea" stroke="#35628a" stroke-width="0.5"/>
<circle cx="602.90" cy="74.99" r="1.15" fill="#3c9eea" stroke="#35628a" stroke-width="0.5"/>
<circle cx="604.62" cy="75.30" r="1.15" fill="#3c9eea" stroke="#35628a" stroke-width="0.5"/>
<circle cx="603.90" cy="75.90" r="1.15" fill="#3c9eea" stroke="#35628a" stroke-width="0.5"/>
<circle cx="603.83" cy="75.41" r="1.15" fill="#3c9eea" stroke="#35628a" stroke-width="0.5"/>
<circle cx="602.86" cy="76.85" r="1.15" fill="#3c9eea" stroke="#35628a" stroke-width="0.5"/>
<circle cx="606.35" cy="76.45" r="1.15" fill="#3c9eea" stroke="#35628a" stroke-width="0.5"/>
<circle cx="606.09" cy="78.11" r="1.15" fill="#3c9eea" stroke="#35628a" stroke-width="0.5"/>
<circle cx="603.08" cy="74.42" r="1.15" fill="#3c9eea" stroke="#35628a" stroke-width="0.5"/>
<circle cx="606.16" cy="75.76" r="1.15" fill="#3c9eea" stroke="#35628a" stroke-width="0.5"/>
<circle cx="601.85" cy="75.42" r="1.15" fill="#3c9eea" stroke="#35628a" stroke-width="0.5"/>
<circle cx="605.36" cy="75.53" r="1.15" fill="#3c9eea" stroke="#35628a" stroke-width="0.5"/>
<circle cx="603.42" cy="78.47" r="1.15" fill="#3c9eea" stroke="#35628a" stroke-width="0.5"/>
<circle cx="605.70" cy="76.99" r="1.15" fill="#3c9eea" stroke="#35628a" stroke-width="0.5"/>
<circle cx="605.20" cy="78.60" r="1.15" fill="#3c9eea" stroke="#35628a" stroke-width="0.5"/>
<circle cx="602.37" cy="78.52" r="1.15" fill="#3c9eea" stroke="#35628a" stroke-width="0.5"/>
<circle cx="603.00" cy="38.20" r="1.15" fill="#3c9eea" stroke="#35628a" stroke-width="0.5"/>
<circle cx="600.10" cy="109.70" r="1.15" fill="#3c9eea" stroke="#35628a" stroke-width="0.5"/>
<circle cx="602.20" cy="111.30" r="1.15" fill="#3c9eea" stroke="#35628a" stroke-width="0.5"/>
<circle cx="604.70" cy="111.90" r="1.15" fill="#3c9eea" stroke="#35628a" stroke-width="0.5"/>
<circle cx="599.80" cy="114.60" r="1.15" fill="#3c9eea" stroke="#35628a" stroke-width="0.5"/>
<circle cx="601.50" cy="114.00" r="1.15" fill="#3c9eea" stroke="#35628a" stroke-width="0.5"/>
<circle cx="603.70" cy="113.80" r="1.15" fill="#3c9eea" stroke="#35628a" stroke-width="0.5"/>
<circle cx="605.80" cy="115.60" r="1.15" fill="#3c9eea" stroke="#35628a" stroke-width="0.5"/>
<circle cx="602.20" cy="117.30" r="1.15" fill="#3c9eea" stroke="#35628a" stroke-width="0.5"/>
<circle cx="606.00" cy="120.00" r="1.15" fill="#3c9eea" stroke="#35628a" stroke-width="0.5"/>
<circle cx="600.10" cy="120.70" r="1.15" fill="#3c9eea" stroke="#35628a" stroke-width="0.5"/>
<circle cx="601.50" cy="122.10" r="1.15" fill="#3c9eea" stroke="#35628a" stroke-width="0.5"/>
<circle cx="604.40" cy="122.70" r="1.15" fill="#3c9eea" stroke="#35628a" stroke-width="0.5"/>
<circle cx="601.20" cy="125.40" r="1.15" fill="#3c9eea" stroke="#35628a" stroke-width="0.5"/>
<circle cx="604.90" cy="126.10" r="1.15" fill="#3c9eea" stroke="#35628a" stroke-width="0.5"/>
<circle cx="604.40" cy="127.50" r="1.15" fill="#3c9eea" stroke="#35628a" stroke-width="0.5"/>
<circle cx="600.80" cy="129.10" r="1.15" fill="#3c9eea" stroke="#35628a" stroke-width="0.5"/>
<circle cx="601.20" cy="132.40" r="1.15" fill="#3c9eea" stroke="#35628a" stroke-width="0.5"/>
<circle cx="604.90" cy="137.50" r="1.15" fill="#3c9eea" stroke="#35628a" stroke-width="0.5"/>
<circle cx="603.70" cy="141.00" r="1.15" fill="#3c9eea" stroke="#35628a" stroke-width="0.5"/>
<circle cx="606.20" cy="141.20" r="1.15" fill="#3c9eea" stroke="#35628a" stroke-width="0.5"/>
<circle cx="604.90" cy="142.90" r="1.15" fill="#3c9eea" stroke="#35628a" stroke-width="0.5"/>
<circle cx="603.00" cy="144.40" r="1.15" fill="#3c9eea" stroke="#35628a" stroke-width="0.5"/>
<circle cx="600.80" cy="148.30" r="1.15" fill="#3c9eea" stroke="#35628a" stroke-width="0.5"/>
<circle cx="601.90" cy="152.60" r="1.15" fill="#3c9eea" stroke="#35628a" stroke-width="0.5"/>
<circle cx="604.90" cy="152.60" r="1.15" fill="#3c9eea" stroke="#35628a" stroke-width="0.5"/>
<circle cx="600.10" cy="155.00" r="1.15" fill="#3c9eea" stroke="#35628a" stroke-width="0.5"/>
<circle cx="605.10" cy="169.90" r="1.15" fill="#3c9eea" stroke="#35628a" stroke-width="0.5"/>
<circle cx="602.20" cy="180.40" r="1.15" fill="#3c9eea" stroke="#35628a" stroke-width="0.5"/>
<circle cx="601.50" cy="207.60" r="1.15" fill="#3c9eea" stroke="#35628a" stroke-width="0.5"/>
<circle cx="600.00" cy="221.20" r="1.15" fill="#3c9eea" stroke="#35628a" stroke-width="0.5"/>
<line x1="630.17" y1="71.50" x2="630.17" y2="81.70" stroke="#a0a0a0" stroke-width="0.85"/>
<line x1="630.17" y1="111.30" x2="630.17" y2="144.80" stroke="#a0a0a0" stroke-width="0.85"/>
<line x1="623.47" y1="71.50" x2="636.87" y2="71.50" stroke="#a0a0a0" stroke-width="0.85"/>
<line x1="623.47" y1="144.80" x2="636.87" y2="144.80" stroke="#a0a0a0" stroke-width="0.85"/>
<rect x="616.77" y="81.70" width="26.80" height="29.60" fill="#e88b9d" stroke="#505050" stroke-opacity="0.35" stroke-width="0.8"/>
<line x1="616.77" y1="90.30" x2="643.57" y2="90.30" stroke="#c57685" stroke-width="0.9"/>
<circle cx="628.64" cy="92.27" r="1.15" fill="#f26a8a" stroke="#9a4458" stroke-width="0.5"/>
<circle cx="628.85" cy="107.56" r="1.15" fill="#f26a8a" stroke="#9a4458" stroke-width="0.5"/>
<circle cx="628.55" cy="106.32" r="1.15" fill="#f26a8a" stroke="#9a4458" stroke-width="0.5"/>
<circle cx="629.30" cy="99.78" r="1.15" fill="#f26a8a" stroke="#9a4458" stroke-width="0.5"/>
<circle cx="631.39" cy="91.67" r="1.15" fill="#f26a8a" stroke="#9a4458" stroke-width="0.5"/>
<circle cx="632.32" cy="103.48" r="1.15" fill="#f26a8a" stroke="#9a4458" stroke-width="0.5"/>
<circle cx="628.71" cy="94.07" r="1.15" fill="#f26a8a" stroke="#9a4458" stroke-width="0.5"/>
<circle cx="630.14" cy="107.32" r="1.15" fill="#f26a8a" stroke="#9a4458" stroke-width="0.5"/>
<circle cx="632.71" cy="92.14" r="1.15" fill="#f26a8a" stroke="#9a4458" stroke-width="0.5"/>
<circle cx="629.26" cy="109.94" r="1.15" fill="#f26a8a" stroke="#9a4458" stroke-width="0.5"/>
<circle cx="628.80" cy="106.13" r="1.15" fill="#f26a8a" stroke="#9a4458" stroke-width="0.5"/>
<circle cx="630.85" cy="104.88" r="1.15" fill="#f26a8a" stroke="#9a4458" stroke-width="0.5"/>
<circle cx="631.11" cy="92.59" r="1.15" fill="#f26a8a" stroke="#9a4458" stroke-width="0.5"/>
<circle cx="633.10" cy="106.94" r="1.15" fill="#f26a8a" stroke="#9a4458" stroke-width="0.5"/>
<circle cx="632.33" cy="104.77" r="1.15" fill="#f26a8a" stroke="#9a4458" stroke-width="0.5"/>
<circle cx="632.55" cy="101.23" r="1.15" fill="#f26a8a" stroke="#9a4458" stroke-width="0.5"/>
<circle cx="627.72" cy="96.47" r="1.15" fill="#f26a8a" stroke="#9a4458" stroke-width="0.5"/>
<circle cx="628.78" cy="110.87" r="1.15" fill="#f26a8a" stroke="#9a4458" stroke-width="0.5"/>
<circle cx="628.43" cy="91.12" r="1.15" fill="#f26a8a" stroke="#9a4458" stroke-width="0.5"/>
<circle cx="632.51" cy="107.20" r="1.15" fill="#f26a8a" stroke="#9a4458" stroke-width="0.5"/>
<circle cx="630.75" cy="98.31" r="1.15" fill="#f26a8a" stroke="#9a4458" stroke-width="0.5"/>
<circle cx="628.26" cy="101.24" r="1.15" fill="#f26a8a" stroke="#9a4458" stroke-width="0.5"/>
<circle cx="631.78" cy="107.57" r="1.15" fill="#f26a8a" stroke="#9a4458" stroke-width="0.5"/>
<circle cx="627.60" cy="100.98" r="1.15" fill="#f26a8a" stroke="#9a4458" stroke-width="0.5"/>
<circle cx="627.33" cy="110.03" r="1.15" fill="#f26a8a" stroke="#9a4458" stroke-width="0.5"/>
<circle cx="631.66" cy="91.41" r="1.15" fill="#f26a8a" stroke="#9a4458" stroke-width="0.5"/>
<circle cx="632.94" cy="94.20" r="1.15" fill="#f26a8a" stroke="#9a4458" stroke-width="0.5"/>
<circle cx="630.98" cy="97.79" r="1.15" fill="#f26a8a" stroke="#9a4458" stroke-width="0.5"/>
<circle cx="627.54" cy="104.02" r="1.15" fill="#f26a8a" stroke="#9a4458" stroke-width="0.5"/>
<circle cx="631.79" cy="93.71" r="1.15" fill="#f26a8a" stroke="#9a4458" stroke-width="0.5"/>
<circle cx="632.70" cy="100.72" r="1.15" fill="#f26a8a" stroke="#9a4458" stroke-width="0.5"/>
<circle cx="627.34" cy="93.99" r="1.15" fill="#f26a8a" stroke="#9a4458" stroke-width="0.5"/>
<circle cx="627.23" cy="89.92" r="1.15" fill="#f26a8a" stroke="#9a4458" stroke-width="0.5"/>
<circle cx="629.45" cy="83.38" r="1.15" fill="#f26a8a" stroke="#9a4458" stroke-width="0.5"/>
<circle cx="627.26" cy="86.76" r="1.15" fill="#f26a8a" stroke="#9a4458" stroke-width="0.5"/>
<circle cx="628.34" cy="84.89" r="1.15" fill="#f26a8a" stroke="#9a4458" stroke-width="0.5"/>
<circle cx="629.93" cy="83.80" r="1.15" fill="#f26a8a" stroke="#9a4458" stroke-width="0.5"/>
<circle cx="631.17" cy="86.38" r="1.15" fill="#f26a8a" stroke="#9a4458" stroke-width="0.5"/>
<circle cx="629.17" cy="90.04" r="1.15" fill="#f26a8a" stroke="#9a4458" stroke-width="0.5"/>
<circle cx="630.08" cy="87.21" r="1.15" fill="#f26a8a" stroke="#9a4458" stroke-width="0.5"/>
<circle cx="627.88" cy="85.02" r="1.15" fill="#f26a8a" stroke="#9a4458" stroke-width="0.5"/>
<circle cx="632.77" cy="90.22" r="1.15" fill="#f26a8a" stroke="#9a4458" stroke-width="0.5"/>
<circle cx="628.48" cy="89.59" r="1.15" fill="#f26a8a" stroke="#9a4458" stroke-width="0.5"/>
<circle cx="629.30" cy="87.80" r="1.15" fill="#f26a8a" stroke="#9a4458" stroke-width="0.5"/>
<circle cx="629.82" cy="88.74" r="1.15" fill="#f26a8a" stroke="#9a4458" stroke-width="0.5"/>
<circle cx="630.57" cy="82.23" r="1.15" fill="#f26a8a" stroke="#9a4458" stroke-width="0.5"/>
<circle cx="632.63" cy="83.97" r="1.15" fill="#f26a8a" stroke="#9a4458" stroke-width="0.5"/>
<circle cx="631.74" cy="87.06" r="1.15" fill="#f26a8a" stroke="#9a4458" stroke-width="0.5"/>
<circle cx="629.73" cy="82.36" r="1.15" fill="#f26a8a" stroke="#9a4458" stroke-width="0.5"/>
<circle cx="633.15" cy="83.23" r="1.15" fill="#f26a8a" stroke="#9a4458" stroke-width="0.5"/>
<circle cx="630.85" cy="87.08" r="1.15" fill="#f26a8a" stroke="#9a4458" stroke-width="0.5"/>
<circle cx="631.74" cy="87.03" r="1.15" fill="#f26a8a" stroke="#9a4458" stroke-width="0.5"/>
<circle cx="631.93" cy="86.73" r="1.15" fill="#f26a8a" stroke="#9a4458" stroke-width="0.5"/>
<circle cx="627.98" cy="83.53" r="1.15" fill="#f26a8a" stroke="#9a4458" stroke-width="0.5"/>
<circle cx="629.34" cy="87.26" r="1.15" fill="#f26a8a" stroke="#9a4458" stroke-width="0.5"/>
<circle cx="631.07" cy="84.70" r="1.15" fill="#f26a8a" stroke="#9a4458" stroke-width="0.5"/>
<circle cx="627.37" cy="86.75" r="1.15" fill="#f26a8a" stroke="#9a4458" stroke-width="0.5"/>
<circle cx="628.54" cy="88.61" r="1.15" fill="#f26a8a" stroke="#9a4458" stroke-width="0.5"/>
<circle cx="631.82" cy="84.12" r="1.15" fill="#f26a8a" stroke="#9a4458" stroke-width="0.5"/>
<circle cx="632.58" cy="87.24" r="1.15" fill="#f26a8a" stroke="#9a4458" stroke-width="0.5"/>
<circle cx="631.78" cy="84.96" r="1.15" fill="#f26a8a" stroke="#9a4458" stroke-width="0.5"/>
<circle cx="628.82" cy="89.98" r="1.15" fill="#f26a8a" stroke="#9a4458" stroke-width="0.5"/>
<circle cx="628.77" cy="87.28" r="1.15" fill="#f26a8a" stroke="#9a4458" stroke-width="0.5"/>
<circle cx="629.79" cy="87.82" r="1.15" fill="#f26a8a" stroke="#9a4458" stroke-width="0.5"/>
<circle cx="631.54" cy="81.32" r="1.15" fill="#f26a8a" stroke="#9a4458" stroke-width="0.5"/>
<circle cx="627.55" cy="78.26" r="1.15" fill="#f26a8a" stroke="#9a4458" stroke-width="0.5"/>
<circle cx="630.93" cy="75.70" r="1.15" fill="#f26a8a" stroke="#9a4458" stroke-width="0.5"/>
<circle cx="631.65" cy="74.32" r="1.15" fill="#f26a8a" stroke="#9a4458" stroke-width="0.5"/>
<circle cx="632.80" cy="76.49" r="1.15" fill="#f26a8a" stroke="#9a4458" stroke-width="0.5"/>
<circle cx="628.96" cy="77.84" r="1.15" fill="#f26a8a" stroke="#9a4458" stroke-width="0.5"/>
<circle cx="628.53" cy="76.48" r="1.15" fill="#f26a8a" stroke="#9a4458" stroke-width="0.5"/>
<circle cx="631.68" cy="80.62" r="1.15" fill="#f26a8a" stroke="#9a4458" stroke-width="0.5"/>
<circle cx="631.40" cy="78.71" r="1.15" fill="#f26a8a" stroke="#9a4458" stroke-width="0.5"/>
<circle cx="631.69" cy="77.45" r="1.15" fill="#f26a8a" stroke="#9a4458" stroke-width="0.5"/>
<circle cx="628.25" cy="80.72" r="1.15" fill="#f26a8a" stroke="#9a4458" stroke-width="0.5"/>
<circle cx="628.97" cy="76.08" r="1.15" fill="#f26a8a" stroke="#9a4458" stroke-width="0.5"/>
<circle cx="627.77" cy="73.57" r="1.15" fill="#f26a8a" stroke="#9a4458" stroke-width="0.5"/>
<circle cx="630.04" cy="75.45" r="1.15" fill="#f26a8a" stroke="#9a4458" stroke-width="0.5"/>
<circle cx="631.25" cy="72.00" r="1.15" fill="#f26a8a" stroke="#9a4458" stroke-width="0.5"/>
<circle cx="630.77" cy="73.87" r="1.15" fill="#f26a8a" stroke="#9a4458" stroke-width="0.5"/>
<circle cx="628.55" cy="75.55" r="1.15" fill="#f26a8a" stroke="#9a4458" stroke-width="0.5"/>
<circle cx="631.79" cy="73.66" r="1.15" fill="#f26a8a" stroke="#9a4458" stroke-width="0.5"/>
<circle cx="630.87" cy="74.06" r="1.15" fill="#f26a8a" stroke="#9a4458" stroke-width="0.5"/>
<circle cx="628.42" cy="75.57" r="1.15" fill="#f26a8a" stroke="#9a4458" stroke-width="0.5"/>
<circle cx="632.03" cy="73.44" r="1.15" fill="#f26a8a" stroke="#9a4458" stroke-width="0.5"/>
<circle cx="629.23" cy="81.43" r="1.15" fill="#f26a8a" stroke="#9a4458" stroke-width="0.5"/>
<circle cx="629.30" cy="76.80" r="1.15" fill="#f26a8a" stroke="#9a4458" stroke-width="0.5"/>
<circle cx="628.40" cy="72.99" r="1.15" fill="#f26a8a" stroke="#9a4458" stroke-width="0.5"/>
<circle cx="629.40" cy="73.24" r="1.15" fill="#f26a8a" stroke="#9a4458" stroke-width="0.5"/>
<circle cx="631.44" cy="74.76" r="1.15" fill="#f26a8a" stroke="#9a4458" stroke-width="0.5"/>
<circle cx="632.14" cy="74.34" r="1.15" fill="#f26a8a" stroke="#9a4458" stroke-width="0.5"/>
<circle cx="627.46" cy="73.80" r="1.15" fill="#f26a8a" stroke="#9a4458" stroke-width="0.5"/>
<circle cx="630.00" cy="71.50" r="1.15" fill="#f26a8a" stroke="#9a4458" stroke-width="0.5"/>
<circle cx="627.60" cy="112.20" r="1.15" fill="#f26a8a" stroke="#9a4458" stroke-width="0.5"/>
<circle cx="631.60" cy="111.70" r="1.15" fill="#f26a8a" stroke="#9a4458" stroke-width="0.5"/>
<circle cx="629.80" cy="114.40" r="1.15" fill="#f26a8a" stroke="#9a4458" stroke-width="0.5"/>
<circle cx="632.50" cy="114.00" r="1.15" fill="#f26a8a" stroke="#9a4458" stroke-width="0.5"/>
<circle cx="633.00" cy="114.90" r="1.15" fill="#f26a8a" stroke="#9a4458" stroke-width="0.5"/>
<circle cx="627.60" cy="117.10" r="1.15" fill="#f26a8a" stroke="#9a4458" stroke-width="0.5"/>
<circle cx="628.90" cy="117.60" r="1.15" fill="#f26a8a" stroke="#9a4458" stroke-width="0.5"/>
<circle cx="628.00" cy="118.50" r="1.15" fill="#f26a8a" stroke="#9a4458" stroke-width="0.5"/>
<circle cx="630.70" cy="118.90" r="1.15" fill="#f26a8a" stroke="#9a4458" stroke-width="0.5"/>
<circle cx="631.20" cy="119.80" r="1.15" fill="#f26a8a" stroke="#9a4458" stroke-width="0.5"/>
<circle cx="632.10" cy="122.10" r="1.15" fill="#f26a8a" stroke="#9a4458" stroke-width="0.5"/>
<circle cx="627.10" cy="124.50" r="1.15" fill="#f26a8a" stroke="#9a4458" stroke-width="0.5"/>
<circle cx="630.30" cy="124.20" r="1.15" fill="#f26a8a" stroke="#9a4458" stroke-width="0.5"/>
<circle cx="632.50" cy="126.60" r="1.15" fill="#f26a8a" stroke="#9a4458" stroke-width="0.5"/>
<circle cx="630.70" cy="128.10" r="1.15" fill="#f26a8a" stroke="#9a4458" stroke-width="0.5"/>
<circle cx="627.10" cy="130.50" r="1.15" fill="#f26a8a" stroke="#9a4458" stroke-width="0.5"/>
<circle cx="630.00" cy="132.90" r="1.15" fill="#f26a8a" stroke="#9a4458" stroke-width="0.5"/>
<circle cx="630.00" cy="136.20" r="1.15" fill="#f26a8a" stroke="#9a4458" stroke-width="0.5"/>
<circle cx="627.60" cy="142.20" r="1.15" fill="#f26a8a" stroke="#9a4458" stroke-width="0.5"/>
<circle cx="630.90" cy="144.00" r="1.15" fill="#f26a8a" stroke="#9a4458" stroke-width="0.5"/>
<circle cx="633.40" cy="144.60" r="1.15" fill="#f26a8a" stroke="#9a4458" stroke-width="0.5"/>
<circle cx="631.30" cy="158.00" r="1.15" fill="#f26a8a" stroke="#9a4458" stroke-width="0.5"/>
<circle cx="632.50" cy="173.00" r="1.15" fill="#f26a8a" stroke="#9a4458" stroke-width="0.5"/>
<circle cx="633.40" cy="174.50" r="1.15" fill="#f26a8a" stroke="#9a4458" stroke-width="0.5"/>
<circle cx="629.70" cy="197.00" r="1.15" fill="#f26a8a" stroke="#9a4458" stroke-width="0.5"/>
<circle cx="632.50" cy="196.30" r="1.15" fill="#f26a8a" stroke="#9a4458" stroke-width="0.5"/>
<line x1="656.97" y1="70.20" x2="656.97" y2="81.30" stroke="#a0a0a0" stroke-width="0.85"/>
<line x1="656.97" y1="100.50" x2="656.97" y2="130.00" stroke="#a0a0a0" stroke-width="0.85"/>
<line x1="650.27" y1="70.20" x2="663.67" y2="70.20" stroke="#a0a0a0" stroke-width="0.85"/>
<line x1="650.27" y1="130.00" x2="663.67" y2="130.00" stroke="#a0a0a0" stroke-width="0.85"/>
<rect x="643.57" y="81.30" width="26.80" height="19.20" fill="#6aaa5a" stroke="#505050" stroke-opacity="0.35" stroke-width="0.8"/>
<line x1="643.57" y1="89.30" x2="670.37" y2="89.30" stroke="#5a904c" stroke-width="0.9"/>
<circle cx="658.64" cy="91.93" r="1.15" fill="#50b032" stroke="#33702a" stroke-width="0.5"/>
<circle cx="655.80" cy="89.63" r="1.15" fill="#50b032" stroke="#33702a" stroke-width="0.5"/>
<circle cx="655.30" cy="97.59" r="1.15" fill="#50b032" stroke="#33702a" stroke-width="0.5"/>
<circle cx="656.61" cy="90.14" r="1.15" fill="#50b032" stroke="#33702a" stroke-width="0.5"/>
<circle cx="654.06" cy="99.79" r="1.15" fill="#50b032" stroke="#33702a" stroke-width="0.5"/>
<circle cx="654.39" cy="94.79" r="1.15" fill="#50b032" stroke="#33702a" stroke-width="0.5"/>
<circle cx="657.06" cy="93.41" r="1.15" fill="#50b032" stroke="#33702a" stroke-width="0.5"/>
<circle cx="655.47" cy="93.06" r="1.15" fill="#50b032" stroke="#33702a" stroke-width="0.5"/>
<circle cx="656.60" cy="94.25" r="1.15" fill="#50b032" stroke="#33702a" stroke-width="0.5"/>
<circle cx="659.37" cy="99.39" r="1.15" fill="#50b032" stroke="#33702a" stroke-width="0.5"/>
<circle cx="654.34" cy="92.38" r="1.15" fill="#50b032" stroke="#33702a" stroke-width="0.5"/>
<circle cx="654.11" cy="95.01" r="1.15" fill="#50b032" stroke="#33702a" stroke-width="0.5"/>
<circle cx="657.94" cy="94.97" r="1.15" fill="#50b032" stroke="#33702a" stroke-width="0.5"/>
<circle cx="654.50" cy="92.90" r="1.15" fill="#50b032" stroke="#33702a" stroke-width="0.5"/>
<circle cx="655.03" cy="97.65" r="1.15" fill="#50b032" stroke="#33702a" stroke-width="0.5"/>
<circle cx="658.84" cy="96.27" r="1.15" fill="#50b032" stroke="#33702a" stroke-width="0.5"/>
<circle cx="657.09" cy="99.40" r="1.15" fill="#50b032" stroke="#33702a" stroke-width="0.5"/>
<circle cx="657.66" cy="91.55" r="1.15" fill="#50b032" stroke="#33702a" stroke-width="0.5"/>
<circle cx="659.42" cy="96.23" r="1.15" fill="#50b032" stroke="#33702a" stroke-width="0.5"/>
<circle cx="659.28" cy="93.43" r="1.15" fill="#50b032" stroke="#33702a" stroke-width="0.5"/>
<circle cx="657.26" cy="96.49" r="1.15" fill="#50b032" stroke="#33702a" stroke-width="0.5"/>
<circle cx="657.22" cy="90.20" r="1.15" fill="#50b032" stroke="#33702a" stroke-width="0.5"/>
<circle cx="655.16" cy="93.30" r="1.15" fill="#50b032" stroke="#33702a" stroke-width="0.5"/>
<circle cx="654.09" cy="89.65" r="1.15" fill="#50b032" stroke="#33702a" stroke-width="0.5"/>
<circle cx="658.09" cy="98.78" r="1.15" fill="#50b032" stroke="#33702a" stroke-width="0.5"/>
<circle cx="658.46" cy="93.82" r="1.15" fill="#50b032" stroke="#33702a" stroke-width="0.5"/>
<circle cx="659.18" cy="93.89" r="1.15" fill="#50b032" stroke="#33702a" stroke-width="0.5"/>
<circle cx="654.34" cy="92.69" r="1.15" fill="#50b032" stroke="#33702a" stroke-width="0.5"/>
<circle cx="659.29" cy="88.36" r="1.15" fill="#50b032" stroke="#33702a" stroke-width="0.5"/>
<circle cx="658.91" cy="84.39" r="1.15" fill="#50b032" stroke="#33702a" stroke-width="0.5"/>
<circle cx="655.00" cy="84.60" r="1.15" fill="#50b032" stroke="#33702a" stroke-width="0.5"/>
<circle cx="657.13" cy="84.09" r="1.15" fill="#50b032" stroke="#33702a" stroke-width="0.5"/>
<circle cx="654.62" cy="82.19" r="1.15" fill="#50b032" stroke="#33702a" stroke-width="0.5"/>
<circle cx="657.82" cy="81.54" r="1.15" fill="#50b032" stroke="#33702a" stroke-width="0.5"/>
<circle cx="655.32" cy="83.22" r="1.15" fill="#50b032" stroke="#33702a" stroke-width="0.5"/>
<circle cx="655.10" cy="82.73" r="1.15" fill="#50b032" stroke="#33702a" stroke-width="0.5"/>
<circle cx="658.88" cy="85.13" r="1.15" fill="#50b032" stroke="#33702a" stroke-width="0.5"/>
<circle cx="655.45" cy="88.09" r="1.15" fill="#50b032" stroke="#33702a" stroke-width="0.5"/>
<circle cx="654.47" cy="81.45" r="1.15" fill="#50b032" stroke="#33702a" stroke-width="0.5"/>
<circle cx="655.48" cy="87.39" r="1.15" fill="#50b032" stroke="#33702a" stroke-width="0.5"/>
<circle cx="658.32" cy="81.55" r="1.15" fill="#50b032" stroke="#33702a" stroke-width="0.5"/>
<circle cx="659.17" cy="85.29" r="1.15" fill="#50b032" stroke="#33702a" stroke-width="0.5"/>
<circle cx="656.42" cy="87.43" r="1.15" fill="#50b032" stroke="#33702a" stroke-width="0.5"/>
<circle cx="655.00" cy="85.31" r="1.15" fill="#50b032" stroke="#33702a" stroke-width="0.5"/>
<circle cx="655.07" cy="85.16" r="1.15" fill="#50b032" stroke="#33702a" stroke-width="0.5"/>
<circle cx="657.91" cy="82.09" r="1.15" fill="#50b032" stroke="#33702a" stroke-width="0.5"/>
<circle cx="658.26" cy="85.10" r="1.15" fill="#50b032" stroke="#33702a" stroke-width="0.5"/>
<circle cx="657.90" cy="85.80" r="1.15" fill="#50b032" stroke="#33702a" stroke-width="0.5"/>
<circle cx="655.87" cy="85.75" r="1.15" fill="#50b032" stroke="#33702a" stroke-width="0.5"/>
<circle cx="657.23" cy="85.54" r="1.15" fill="#50b032" stroke="#33702a" stroke-width="0.5"/>
<circle cx="656.32" cy="81.59" r="1.15" fill="#50b032" stroke="#33702a" stroke-width="0.5"/>
<circle cx="655.35" cy="85.60" r="1.15" fill="#50b032" stroke="#33702a" stroke-width="0.5"/>
<circle cx="654.02" cy="85.95" r="1.15" fill="#50b032" stroke="#33702a" stroke-width="0.5"/>
<circle cx="654.53" cy="84.88" r="1.15" fill="#50b032" stroke="#33702a" stroke-width="0.5"/>
<circle cx="657.40" cy="81.77" r="1.15" fill="#50b032" stroke="#33702a" stroke-width="0.5"/>
<circle cx="655.00" cy="86.67" r="1.15" fill="#50b032" stroke="#33702a" stroke-width="0.5"/>
<circle cx="657.14" cy="80.88" r="1.15" fill="#50b032" stroke="#33702a" stroke-width="0.5"/>
<circle cx="654.05" cy="77.40" r="1.15" fill="#50b032" stroke="#33702a" stroke-width="0.5"/>
<circle cx="655.55" cy="76.21" r="1.15" fill="#50b032" stroke="#33702a" stroke-width="0.5"/>
<circle cx="657.88" cy="78.10" r="1.15" fill="#50b032" stroke="#33702a" stroke-width="0.5"/>
<circle cx="654.45" cy="72.05" r="1.15" fill="#50b032" stroke="#33702a" stroke-width="0.5"/>
<circle cx="658.19" cy="81.06" r="1.15" fill="#50b032" stroke="#33702a" stroke-width="0.5"/>
<circle cx="654.16" cy="75.50" r="1.15" fill="#50b032" stroke="#33702a" stroke-width="0.5"/>
<circle cx="659.89" cy="72.52" r="1.15" fill="#50b032" stroke="#33702a" stroke-width="0.5"/>
<circle cx="658.55" cy="74.66" r="1.15" fill="#50b032" stroke="#33702a" stroke-width="0.5"/>
<circle cx="656.91" cy="73.79" r="1.15" fill="#50b032" stroke="#33702a" stroke-width="0.5"/>
<circle cx="657.56" cy="80.37" r="1.15" fill="#50b032" stroke="#33702a" stroke-width="0.5"/>
<circle cx="659.04" cy="74.99" r="1.15" fill="#50b032" stroke="#33702a" stroke-width="0.5"/>
<circle cx="658.66" cy="74.07" r="1.15" fill="#50b032" stroke="#33702a" stroke-width="0.5"/>
<circle cx="656.51" cy="78.13" r="1.15" fill="#50b032" stroke="#33702a" stroke-width="0.5"/>
<circle cx="654.38" cy="76.88" r="1.15" fill="#50b032" stroke="#33702a" stroke-width="0.5"/>
<circle cx="657.28" cy="80.49" r="1.15" fill="#50b032" stroke="#33702a" stroke-width="0.5"/>
<circle cx="657.74" cy="75.59" r="1.15" fill="#50b032" stroke="#33702a" stroke-width="0.5"/>
<circle cx="656.11" cy="73.21" r="1.15" fill="#50b032" stroke="#33702a" stroke-width="0.5"/>
<circle cx="656.18" cy="78.60" r="1.15" fill="#50b032" stroke="#33702a" stroke-width="0.5"/>
<circle cx="657.72" cy="79.82" r="1.15" fill="#50b032" stroke="#33702a" stroke-width="0.5"/>
<circle cx="654.10" cy="74.54" r="1.15" fill="#50b032" stroke="#33702a" stroke-width="0.5"/>
<circle cx="654.18" cy="79.82" r="1.15" fill="#50b032" stroke="#33702a" stroke-width="0.5"/>
<circle cx="659.00" cy="30.40" r="1.15" fill="#50b032" stroke="#33702a" stroke-width="0.5"/>
<circle cx="655.20" cy="39.70" r="1.15" fill="#50b032" stroke="#33702a" stroke-width="0.5"/>
<circle cx="657.50" cy="70.20" r="1.15" fill="#50b032" stroke="#33702a" stroke-width="0.5"/>
<circle cx="654.80" cy="98.30" r="1.15" fill="#50b032" stroke="#33702a" stroke-width="0.5"/>
<circle cx="659.30" cy="97.40" r="1.15" fill="#50b032" stroke="#33702a" stroke-width="0.5"/>
<circle cx="656.40" cy="103.90" r="1.15" fill="#50b032" stroke="#33702a" stroke-width="0.5"/>
<circle cx="655.10" cy="105.10" r="1.15" fill="#50b032" stroke="#33702a" stroke-width="0.5"/>
<circle cx="660.00" cy="102.30" r="1.15" fill="#50b032" stroke="#33702a" stroke-width="0.5"/>
<circle cx="656.40" cy="107.70" r="1.15" fill="#50b032" stroke="#33702a" stroke-width="0.5"/>
<circle cx="658.30" cy="110.00" r="1.15" fill="#50b032" stroke="#33702a" stroke-width="0.5"/>
<circle cx="659.60" cy="112.10" r="1.15" fill="#50b032" stroke="#33702a" stroke-width="0.5"/>
<circle cx="654.80" cy="115.30" r="1.15" fill="#50b032" stroke="#33702a" stroke-width="0.5"/>
<circle cx="659.30" cy="115.80" r="1.15" fill="#50b032" stroke="#33702a" stroke-width="0.5"/>
<circle cx="660.50" cy="117.00" r="1.15" fill="#50b032" stroke="#33702a" stroke-width="0.5"/>
<circle cx="655.60" cy="126.20" r="1.15" fill="#50b032" stroke="#33702a" stroke-width="0.5"/>
<circle cx="653.90" cy="129.50" r="1.15" fill="#50b032" stroke="#33702a" stroke-width="0.5"/>
<circle cx="659.60" cy="129.20" r="1.15" fill="#50b032" stroke="#33702a" stroke-width="0.5"/>
<circle cx="656.10" cy="132.10" r="1.15" fill="#50b032" stroke="#33702a" stroke-width="0.5"/>
<circle cx="654.40" cy="138.60" r="1.15" fill="#50b032" stroke="#33702a" stroke-width="0.5"/>
<circle cx="658.30" cy="138.10" r="1.15" fill="#50b032" stroke="#33702a" stroke-width="0.5"/>
<circle cx="653.90" cy="144.60" r="1.15" fill="#50b032" stroke="#33702a" stroke-width="0.5"/>
<circle cx="655.10" cy="146.70" r="1.15" fill="#50b032" stroke="#33702a" stroke-width="0.5"/>
<circle cx="659.60" cy="145.10" r="1.15" fill="#50b032" stroke="#33702a" stroke-width="0.5"/>
<circle cx="655.60" cy="152.30" r="1.15" fill="#50b032" stroke="#33702a" stroke-width="0.5"/>
<circle cx="657.20" cy="159.70" r="1.15" fill="#50b032" stroke="#33702a" stroke-width="0.5"/>
<circle cx="658.30" cy="170.10" r="1.15" fill="#50b032" stroke="#33702a" stroke-width="0.5"/>
<circle cx="658.80" cy="175.20" r="1.15" fill="#50b032" stroke="#33702a" stroke-width="0.5"/>
<circle cx="656.70" cy="180.70" r="1.15" fill="#50b032" stroke="#33702a" stroke-width="0.5"/>
<line x1="378.50" y1="22.50" x2="680.50" y2="22.50" stroke="#8a8a8a" stroke-width="1.0"/>
<line x1="378.50" y1="247.50" x2="680.50" y2="247.50" stroke="#8a8a8a" stroke-width="1.0"/>
<line x1="378.50" y1="22.00" x2="378.50" y2="248.00" stroke="#8a8a8a" stroke-width="1.0"/>
<line x1="680.50" y1="22.00" x2="680.50" y2="248.00" stroke="#8a8a8a" stroke-width="1.0"/>
<line x1="479.50" y1="22.50" x2="479.50" y2="247.50" stroke="#8a8a8a" stroke-width="1.0"/>
<line x1="579.50" y1="22.50" x2="579.50" y2="247.50" stroke="#8a8a8a" stroke-width="1.0"/>
<line x1="33.00" y1="525.50" x2="35.50" y2="525.50" stroke="#8a8a8a" stroke-width="0.9"/>
<text x="31.50" y="529.50" font-size="10.4" text-anchor="end" fill="#262626" stroke="#262626" stroke-width="0.15">0</text>
<line x1="33.00" y1="480.50" x2="35.50" y2="480.50" stroke="#8a8a8a" stroke-width="0.9"/>
<text x="31.50" y="484.50" font-size="10.4" text-anchor="end" fill="#262626" stroke="#262626" stroke-width="0.15">100</text>
<line x1="33.00" y1="435.50" x2="35.50" y2="435.50" stroke="#8a8a8a" stroke-width="0.9"/>
<text x="31.50" y="439.50" font-size="10.4" text-anchor="end" fill="#262626" stroke="#262626" stroke-width="0.15">200</text>
<line x1="33.00" y1="390.50" x2="35.50" y2="390.50" stroke="#8a8a8a" stroke-width="0.9"/>
<text x="31.50" y="394.50" font-size="10.4" text-anchor="end" fill="#262626" stroke="#262626" stroke-width="0.15">300</text>
<line x1="33.00" y1="345.50" x2="35.50" y2="345.50" stroke="#8a8a8a" stroke-width="0.9"/>
<text x="31.50" y="349.50" font-size="10.4" text-anchor="end" fill="#262626" stroke="#262626" stroke-width="0.15">400</text>
<line x1="33.00" y1="300.50" x2="35.50" y2="300.50" stroke="#8a8a8a" stroke-width="0.9"/>
<text x="31.50" y="304.50" font-size="10.4" text-anchor="end" fill="#262626" stroke="#262626" stroke-width="0.15">500</text>
<line x1="85.75" y1="525.50" x2="85.75" y2="528.00" stroke="#8a8a8a" stroke-width="0.9"/>
<text x="85.75" y="537.60" font-size="10.4" text-anchor="middle" fill="#262626" stroke="#262626" stroke-width="0.15">≤5</text>
<line x1="186.25" y1="525.50" x2="186.25" y2="528.00" stroke="#8a8a8a" stroke-width="0.9"/>
<text x="186.25" y="537.60" font-size="10.4" text-anchor="middle" fill="#262626" stroke="#262626" stroke-width="0.15">5-7</text>
<line x1="286.75" y1="525.50" x2="286.75" y2="528.00" stroke="#8a8a8a" stroke-width="0.9"/>
<text x="286.75" y="537.60" font-size="10.4" text-anchor="middle" fill="#262626" stroke="#262626" stroke-width="0.15">&gt;7</text>
<text x="186.25" y="550.50" font-size="10.8" text-anchor="middle" fill="#262626" stroke="#262626" stroke-width="0.15" textLength="61.3" lengthAdjust="spacingAndGlyphs">E/S (μL/mg)</text>
<text x="9.40" y="413.00" font-size="11.2" text-anchor="middle" fill="#262626" stroke="#262626" stroke-width="0.15" textLength="125.5" lengthAdjust="spacingAndGlyphs" transform="rotate(-90 9.40 413.00)">Specific energy (Wh/kg)</text>
<line x1="58.95" y1="329.40" x2="58.95" y2="358.30" stroke="#a0a0a0" stroke-width="0.85"/>
<line x1="58.95" y1="397.80" x2="58.95" y2="444.40" stroke="#a0a0a0" stroke-width="0.85"/>
<line x1="52.25" y1="329.40" x2="65.65" y2="329.40" stroke="#a0a0a0" stroke-width="0.85"/>
<line x1="52.25" y1="444.40" x2="65.65" y2="444.40" stroke="#a0a0a0" stroke-width="0.85"/>
<rect x="45.55" y="358.30" width="26.80" height="39.50" fill="#c8a64c" stroke="#505050" stroke-opacity="0.35" stroke-width="0.8"/>
<line x1="45.55" y1="394.60" x2="72.35" y2="394.60" stroke="#aa8d40" stroke-width="0.9"/>
<circle cx="56.70" cy="329.40" r="1.15" fill="#e0a820" stroke="#7a6020" stroke-width="0.5"/>
<circle cx="61.30" cy="345.10" r="1.15" fill="#e0a820" stroke="#7a6020" stroke-width="0.5"/>
<circle cx="56.20" cy="353.60" r="1.15" fill="#e0a820" stroke="#7a6020" stroke-width="0.5"/>
<circle cx="61.80" cy="354.30" r="1.15" fill="#e0a820" stroke="#7a6020" stroke-width="0.5"/>
<circle cx="58.30" cy="358.20" r="1.15" fill="#e0a820" stroke="#7a6020" stroke-width="0.5"/>
<circle cx="59.70" cy="358.20" r="1.15" fill="#e0a820" stroke="#7a6020" stroke-width="0.5"/>
<circle cx="57.40" cy="365.40" r="1.15" fill="#e0a820" stroke="#7a6020" stroke-width="0.5"/>
<circle cx="56.20" cy="386.20" r="1.15" fill="#e0a820" stroke="#7a6020" stroke-width="0.5"/>
<circle cx="59.70" cy="389.40" r="1.15" fill="#e0a820" stroke="#7a6020" stroke-width="0.5"/>
<circle cx="62.00" cy="394.20" r="1.15" fill="#e0a820" stroke="#7a6020" stroke-width="0.5"/>
<circle cx="59.00" cy="395.90" r="1.15" fill="#e0a820" stroke="#7a6020" stroke-width="0.5"/>
<circle cx="60.60" cy="397.50" r="1.15" fill="#e0a820" stroke="#7a6020" stroke-width="0.5"/>
<circle cx="58.50" cy="417.10" r="1.15" fill="#e0a820" stroke="#7a6020" stroke-width="0.5"/>
<circle cx="56.20" cy="420.50" r="1.15" fill="#e0a820" stroke="#7a6020" stroke-width="0.5"/>
<circle cx="57.40" cy="430.00" r="1.15" fill="#e0a820" stroke="#7a6020" stroke-width="0.5"/>
<circle cx="58.30" cy="444.30" r="1.15" fill="#e0a820" stroke="#7a6020" stroke-width="0.5"/>
<line x1="85.75" y1="344.90" x2="85.75" y2="382.10" stroke="#a0a0a0" stroke-width="0.85"/>
<line x1="85.75" y1="407.70" x2="85.75" y2="442.00" stroke="#a0a0a0" stroke-width="0.85"/>
<line x1="79.05" y1="344.90" x2="92.45" y2="344.90" stroke="#a0a0a0" stroke-width="0.85"/>
<line x1="79.05" y1="442.00" x2="92.45" y2="442.00" stroke="#a0a0a0" stroke-width="0.85"/>
<rect x="72.35" y="382.10" width="26.80" height="25.60" fill="#5da8b2" stroke="#505050" stroke-opacity="0.35" stroke-width="0.8"/>
<line x1="72.35" y1="391.30" x2="99.15" y2="391.30" stroke="#4f8e97" stroke-width="0.9"/>
<circle cx="83.50" cy="344.90" r="1.15" fill="#34b0c6" stroke="#36606a" stroke-width="0.5"/>
<circle cx="86.80" cy="351.00" r="1.15" fill="#34b0c6" stroke="#36606a" stroke-width="0.5"/>
<circle cx="82.60" cy="365.10" r="1.15" fill="#34b0c6" stroke="#36606a" stroke-width="0.5"/>
<circle cx="82.10" cy="365.90" r="1.15" fill="#34b0c6" stroke="#36606a" stroke-width="0.5"/>
<circle cx="83.50" cy="366.80" r="1.15" fill="#34b0c6" stroke="#36606a" stroke-width="0.5"/>
<circle cx="83.20" cy="364.30" r="1.15" fill="#34b0c6" stroke="#36606a" stroke-width="0.5"/>
<circle cx="85.70" cy="374.60" r="1.15" fill="#34b0c6" stroke="#36606a" stroke-width="0.5"/>
<circle cx="83.90" cy="376.80" r="1.15" fill="#34b0c6" stroke="#36606a" stroke-width="0.5"/>
<circle cx="84.80" cy="380.00" r="1.15" fill="#34b0c6" stroke="#36606a" stroke-width="0.5"/>
<circle cx="86.40" cy="380.00" r="1.15" fill="#34b0c6" stroke="#36606a" stroke-width="0.5"/>
<circle cx="83.20" cy="384.30" r="1.15" fill="#34b0c6" stroke="#36606a" stroke-width="0.5"/>
<circle cx="85.40" cy="385.40" r="1.15" fill="#34b0c6" stroke="#36606a" stroke-width="0.5"/>
<circle cx="88.10" cy="384.50" r="1.15" fill="#34b0c6" stroke="#36606a" stroke-width="0.5"/>
<circle cx="83.70" cy="389.50" r="1.15" fill="#34b0c6" stroke="#36606a" stroke-width="0.5"/>
<circle cx="87.00" cy="390.30" r="1.15" fill="#34b0c6" stroke="#36606a" stroke-width="0.5"/>
<circle cx="85.90" cy="391.70" r="1.15" fill="#34b0c6" stroke="#36606a" stroke-width="0.5"/>
<circle cx="88.10" cy="391.90" r="1.15" fill="#34b0c6" stroke="#36606a" stroke-width="0.5"/>
<circle cx="86.10" cy="394.10" r="1.15" fill="#34b0c6" stroke="#36606a" stroke-width="0.5"/>
<circle cx="87.50" cy="398.40" r="1.15" fill="#34b0c6" stroke="#36606a" stroke-width="0.5"/>
<circle cx="87.20" cy="401.20" r="1.15" fill="#34b0c6" stroke="#36606a" stroke-width="0.5"/>
<circle cx="86.40" cy="405.90" r="1.15" fill="#34b0c6" stroke="#36606a" stroke-width="0.5"/>
<circle cx="85.90" cy="407.90" r="1.15" fill="#34b0c6" stroke="#36606a" stroke-width="0.5"/>
<circle cx="87.50" cy="409.30" r="1.15" fill="#34b0c6" stroke="#36606a" stroke-width="0.5"/>
<circle cx="88.20" cy="414.90" r="1.15" fill="#34b0c6" stroke="#36606a" stroke-width="0.5"/>
<circle cx="85.90" cy="424.10" r="1.15" fill="#34b0c6" stroke="#36606a" stroke-width="0.5"/>
<circle cx="88.60" cy="432.20" r="1.15" fill="#34b0c6" stroke="#36606a" stroke-width="0.5"/>
<circle cx="82.10" cy="436.90" r="1.15" fill="#34b0c6" stroke="#36606a" stroke-width="0.5"/>
<circle cx="86.50" cy="442.00" r="1.15" fill="#34b0c6" stroke="#36606a" stroke-width="0.5"/>
<circle cx="83.00" cy="455.10" r="1.15" fill="#34b0c6" stroke="#36606a" stroke-width="0.5"/>
<line x1="112.55" y1="388.50" x2="112.55" y2="404.00" stroke="#a0a0a0" stroke-width="0.85"/>
<line x1="112.55" y1="465.00" x2="112.55" y2="473.50" stroke="#a0a0a0" stroke-width="0.85"/>
<line x1="105.85" y1="388.50" x2="119.25" y2="388.50" stroke="#a0a0a0" stroke-width="0.85"/>
<line x1="105.85" y1="473.50" x2="119.25" y2="473.50" stroke="#a0a0a0" stroke-width="0.85"/>
<rect x="99.15" y="404.00" width="26.80" height="61.00" fill="#b875ca" stroke="#505050" stroke-opacity="0.35" stroke-width="0.8"/>
<line x1="99.15" y1="430.10" x2="125.95" y2="430.10" stroke="#9c63ab" stroke-width="0.9"/>
<circle cx="109.80" cy="388.50" r="1.15" fill="#bf55da" stroke="#6e3c7c" stroke-width="0.5"/>
<circle cx="109.10" cy="394.40" r="1.15" fill="#bf55da" stroke="#6e3c7c" stroke-width="0.5"/>
<circle cx="110.30" cy="402.50" r="1.15" fill="#bf55da" stroke="#6e3c7c" stroke-width="0.5"/>
<circle cx="113.40" cy="409.20" r="1.15" fill="#bf55da" stroke="#6e3c7c" stroke-width="0.5"/>
<circle cx="110.90" cy="424.70" r="1.15" fill="#bf55da" stroke="#6e3c7c" stroke-width="0.5"/>
<circle cx="110.30" cy="435.30" r="1.15" fill="#bf55da" stroke="#6e3c7c" stroke-width="0.5"/>
<circle cx="114.50" cy="444.00" r="1.15" fill="#bf55da" stroke="#6e3c7c" stroke-width="0.5"/>
<circle cx="113.00" cy="472.80" r="1.15" fill="#bf55da" stroke="#6e3c7c" stroke-width="0.5"/>
<circle cx="115.20" cy="473.70" r="1.15" fill="#bf55da" stroke="#6e3c7c" stroke-width="0.5"/>
<line x1="159.45" y1="426.60" x2="159.45" y2="426.60" stroke="#a0a0a0" stroke-width="0.85"/>
<line x1="159.45" y1="432.90" x2="159.45" y2="435.60" stroke="#a0a0a0" stroke-width="0.85"/>
<line x1="152.75" y1="426.60" x2="166.15" y2="426.60" stroke="#a0a0a0" stroke-width="0.85"/>
<line x1="152.75" y1="435.60" x2="166.15" y2="435.60" stroke="#a0a0a0" stroke-width="0.85"/>
<rect x="146.05" y="426.60" width="26.80" height="6.30" fill="#c8a64c" stroke="#505050" stroke-opacity="0.35" stroke-width="0.8"/>
<line x1="146.05" y1="431.80" x2="172.85" y2="431.80" stroke="#aa8d40" stroke-width="0.9"/>
<circle cx="160.60" cy="410.80" r="1.15" fill="#e0a820" stroke="#7a6020" stroke-width="0.5"/>
<circle cx="159.10" cy="413.50" r="1.15" fill="#e0a820" stroke="#7a6020" stroke-width="0.5"/>
<circle cx="156.60" cy="426.80" r="1.15" fill="#e0a820" stroke="#7a6020" stroke-width="0.5"/>
<circle cx="160.70" cy="426.80" r="1.15" fill="#e0a820" stroke="#7a6020" stroke-width="0.5"/>
<circle cx="156.00" cy="432.30" r="1.15" fill="#e0a820" stroke="#7a6020" stroke-width="0.5"/>
<circle cx="157.90" cy="432.30" r="1.15" fill="#e0a820" stroke="#7a6020" stroke-width="0.5"/>
<circle cx="159.80" cy="432.10" r="1.15" fill="#e0a820" stroke="#7a6020" stroke-width="0.5"/>
<circle cx="161.70" cy="432.00" r="1.15" fill="#e0a820" stroke="#7a6020" stroke-width="0.5"/>
<circle cx="162.30" cy="432.80" r="1.15" fill="#e0a820" stroke="#7a6020" stroke-width="0.5"/>
<circle cx="156.00" cy="435.60" r="1.15" fill="#e0a820" stroke="#7a6020" stroke-width="0.5"/>
<line x1="186.25" y1="406.80" x2="186.25" y2="411.20" stroke="#a0a0a0" stroke-width="0.85"/>
<line x1="186.25" y1="432.80" x2="186.25" y2="459.60" stroke="#a0a0a0" stroke-width="0.85"/>
<line x1="179.55" y1="406.80" x2="192.95" y2="406.80" stroke="#a0a0a0" stroke-width="0.85"/>
<line x1="179.55" y1="459.60" x2="192.95" y2="459.60" stroke="#a0a0a0" stroke-width="0.85"/>
<rect x="172.85" y="411.20" width="26.80" height="21.60" fill="#5da8b2" stroke="#505050" stroke-opacity="0.35" stroke-width="0.8"/>
<line x1="172.85" y1="418.40" x2="199.65" y2="418.40" stroke="#4f8e97" stroke-width="0.9"/>
<circle cx="187.90" cy="406.80" r="1.15" fill="#34b0c6" stroke="#36606a" stroke-width="0.5"/>
<circle cx="186.50" cy="408.00" r="1.15" fill="#34b0c6" stroke="#36606a" stroke-width="0.5"/>
<circle cx="187.30" cy="409.20" r="1.15" fill="#34b0c6" stroke="#36606a" stroke-width="0.5"/>
<circle cx="184.20" cy="410.30" r="1.15" fill="#34b0c6" stroke="#36606a" stroke-width="0.5"/>
<circle cx="183.20" cy="411.20" r="1.15" fill="#34b0c6" stroke="#36606a" stroke-width="0.5"/>
<circle cx="185.30" cy="411.50" r="1.15" fill="#34b0c6" stroke="#36606a" stroke-width="0.5"/>
<circle cx="184.40" cy="412.70" r="1.15" fill="#34b0c6" stroke="#36606a" stroke-width="0.5"/>
<circle cx="186.70" cy="413.10" r="1.15" fill="#34b0c6" stroke="#36606a" stroke-width="0.5"/>
<circle cx="185.60" cy="414.30" r="1.15" fill="#34b0c6" stroke="#36606a" stroke-width="0.5"/>
<circle cx="183.20" cy="415.00" r="1.15" fill="#34b0c6" stroke="#36606a" stroke-width="0.5"/>
<circle cx="186.20" cy="414.70" r="1.15" fill="#34b0c6" stroke="#36606a" stroke-width="0.5"/>
<circle cx="186.20" cy="418.50" r="1.15" fill="#34b0c6" stroke="#36606a" stroke-width="0.5"/>
<circle cx="188.10" cy="419.70" r="1.15" fill="#34b0c6" stroke="#36606a" stroke-width="0.5"/>
<circle cx="185.60" cy="422.50" r="1.15" fill="#34b0c6" stroke="#36606a" stroke-width="0.5"/>
<circle cx="183.00" cy="426.40" r="1.15" fill="#34b0c6" stroke="#36606a" stroke-width="0.5"/>
<circle cx="184.20" cy="426.80" r="1.15" fill="#34b0c6" stroke="#36606a" stroke-width="0.5"/>
<circle cx="189.30" cy="425.20" r="1.15" fill="#34b0c6" stroke="#36606a" stroke-width="0.5"/>
<circle cx="184.20" cy="432.60" r="1.15" fill="#34b0c6" stroke="#36606a" stroke-width="0.5"/>
<circle cx="183.20" cy="437.00" r="1.15" fill="#34b0c6" stroke="#36606a" stroke-width="0.5"/>
<circle cx="187.10" cy="437.80" r="1.15" fill="#34b0c6" stroke="#36606a" stroke-width="0.5"/>
<circle cx="188.10" cy="437.80" r="1.15" fill="#34b0c6" stroke="#36606a" stroke-width="0.5"/>
<circle cx="189.10" cy="437.80" r="1.15" fill="#34b0c6" stroke="#36606a" stroke-width="0.5"/>
<circle cx="187.90" cy="441.30" r="1.15" fill="#34b0c6" stroke="#36606a" stroke-width="0.5"/>
<circle cx="186.20" cy="444.00" r="1.15" fill="#34b0c6" stroke="#36606a" stroke-width="0.5"/>
<circle cx="187.90" cy="454.60" r="1.15" fill="#34b0c6" stroke="#36606a" stroke-width="0.5"/>
<circle cx="185.90" cy="457.20" r="1.15" fill="#34b0c6" stroke="#36606a" stroke-width="0.5"/>
<circle cx="188.10" cy="459.90" r="1.15" fill="#34b0c6" stroke="#36606a" stroke-width="0.5"/>
<line x1="213.05" y1="401.80" x2="213.05" y2="420.00" stroke="#a0a0a0" stroke-width="0.85"/>
<line x1="213.05" y1="433.60" x2="213.05" y2="450.50" stroke="#a0a0a0" stroke-width="0.85"/>
<line x1="206.35" y1="401.80" x2="219.75" y2="401.80" stroke="#a0a0a0" stroke-width="0.85"/>
<line x1="206.35" y1="450.50" x2="219.75" y2="450.50" stroke="#a0a0a0" stroke-width="0.85"/>
<rect x="199.65" y="420.00" width="26.80" height="13.60" fill="#b875ca" stroke="#505050" stroke-opacity="0.35" stroke-width="0.8"/>
<line x1="199.65" y1="428.30" x2="226.45" y2="428.30" stroke="#9c63ab" stroke-width="0.9"/>
<circle cx="214.10" cy="383.50" r="1.15" fill="#bf55da" stroke="#6e3c7c" stroke-width="0.5"/>
<circle cx="213.70" cy="401.80" r="1.15" fill="#bf55da" stroke="#6e3c7c" stroke-width="0.5"/>
<circle cx="212.70" cy="412.30" r="1.15" fill="#bf55da" stroke="#6e3c7c" stroke-width="0.5"/>
<circle cx="210.10" cy="415.20" r="1.15" fill="#bf55da" stroke="#6e3c7c" stroke-width="0.5"/>
<circle cx="210.10" cy="419.10" r="1.15" fill="#bf55da" stroke="#6e3c7c" stroke-width="0.5"/>
<circle cx="213.00" cy="418.40" r="1.15" fill="#bf55da" stroke="#6e3c7c" stroke-width="0.5"/>
<circle cx="214.40" cy="419.10" r="1.15" fill="#bf55da" stroke="#6e3c7c" stroke-width="0.5"/>
<circle cx="215.60" cy="420.10" r="1.15" fill="#bf55da" stroke="#6e3c7c" stroke-width="0.5"/>
<circle cx="209.80" cy="421.30" r="1.15" fill="#bf55da" stroke="#6e3c7c" stroke-width="0.5"/>
<circle cx="213.30" cy="421.30" r="1.15" fill="#bf55da" stroke="#6e3c7c" stroke-width="0.5"/>
<circle cx="213.70" cy="425.30" r="1.15" fill="#bf55da" stroke="#6e3c7c" stroke-width="0.5"/>
<circle cx="210.40" cy="427.80" r="1.15" fill="#bf55da" stroke="#6e3c7c" stroke-width="0.5"/>
<circle cx="212.30" cy="427.10" r="1.15" fill="#bf55da" stroke="#6e3c7c" stroke-width="0.5"/>
<circle cx="213.00" cy="429.20" r="1.15" fill="#bf55da" stroke="#6e3c7c" stroke-width="0.5"/>
<circle cx="211.50" cy="430.20" r="1.15" fill="#bf55da" stroke="#6e3c7c" stroke-width="0.5"/>
<circle cx="214.10" cy="432.10" r="1.15" fill="#bf55da" stroke="#6e3c7c" stroke-width="0.5"/>
<circle cx="211.50" cy="433.10" r="1.15" fill="#bf55da" stroke="#6e3c7c" stroke-width="0.5"/>
<circle cx="213.30" cy="433.60" r="1.15" fill="#bf55da" stroke="#6e3c7c" stroke-width="0.5"/>
<circle cx="214.70" cy="436.00" r="1.15" fill="#bf55da" stroke="#6e3c7c" stroke-width="0.5"/>
<circle cx="211.80" cy="437.20" r="1.15" fill="#bf55da" stroke="#6e3c7c" stroke-width="0.5"/>
<circle cx="213.70" cy="440.30" r="1.15" fill="#bf55da" stroke="#6e3c7c" stroke-width="0.5"/>
<circle cx="212.70" cy="443.90" r="1.15" fill="#bf55da" stroke="#6e3c7c" stroke-width="0.5"/>
<circle cx="213.70" cy="450.60" r="1.15" fill="#bf55da" stroke="#6e3c7c" stroke-width="0.5"/>
<circle cx="215.20" cy="461.20" r="1.15" fill="#bf55da" stroke="#6e3c7c" stroke-width="0.5"/>
<circle cx="209.80" cy="501.30" r="1.15" fill="#bf55da" stroke="#6e3c7c" stroke-width="0.5"/>
<line x1="259.95" y1="425.20" x2="259.95" y2="449.20" stroke="#a0a0a0" stroke-width="0.85"/>
<line x1="259.95" y1="475.60" x2="259.95" y2="487.60" stroke="#a0a0a0" stroke-width="0.85"/>
<line x1="253.25" y1="425.20" x2="266.65" y2="425.20" stroke="#a0a0a0" stroke-width="0.85"/>
<line x1="253.25" y1="487.60" x2="266.65" y2="487.60" stroke="#a0a0a0" stroke-width="0.85"/>
<rect x="246.55" y="449.20" width="26.80" height="26.40" fill="#c8a64c" stroke="#505050" stroke-opacity="0.35" stroke-width="0.8"/>
<line x1="246.55" y1="460.60" x2="273.35" y2="460.60" stroke="#aa8d40" stroke-width="0.9"/>
<circle cx="258.80" cy="425.20" r="1.15" fill="#e0a820" stroke="#7a6020" stroke-width="0.5"/>
<circle cx="262.00" cy="425.20" r="1.15" fill="#e0a820" stroke="#7a6020" stroke-width="0.5"/>
<circle cx="258.80" cy="440.80" r="1.15" fill="#e0a820" stroke="#7a6020" stroke-width="0.5"/>
<circle cx="261.00" cy="440.10" r="1.15" fill="#e0a820" stroke="#7a6020" stroke-width="0.5"/>
<circle cx="262.30" cy="440.80" r="1.15" fill="#e0a820" stroke="#7a6020" stroke-width="0.5"/>
<circle cx="261.40" cy="448.80" r="1.15" fill="#e0a820" stroke="#7a6020" stroke-width="0.5"/>
<circle cx="259.40" cy="450.10" r="1.15" fill="#e0a820" stroke="#7a6020" stroke-width="0.5"/>
<circle cx="257.80" cy="451.40" r="1.15" fill="#e0a820" stroke="#7a6020" stroke-width="0.5"/>
<circle cx="256.50" cy="457.90" r="1.15" fill="#e0a820" stroke="#7a6020" stroke-width="0.5"/>
<circle cx="258.10" cy="457.90" r="1.15" fill="#e0a820" stroke="#7a6020" stroke-width="0.5"/>
<circle cx="260.10" cy="458.30" r="1.15" fill="#e0a820" stroke="#7a6020" stroke-width="0.5"/>
<circle cx="262.30" cy="457.90" r="1.15" fill="#e0a820" stroke="#7a6020" stroke-width="0.5"/>
<circle cx="261.00" cy="461.80" r="1.15" fill="#e0a820" stroke="#7a6020" stroke-width="0.5"/>
<circle cx="262.70" cy="460.90" r="1.15" fill="#e0a820" stroke="#7a6020" stroke-width="0.5"/>
<circle cx="260.40" cy="469.40" r="1.15" fill="#e0a820" stroke="#7a6020" stroke-width="0.5"/>
<circle cx="257.10" cy="474.30" r="1.15" fill="#e0a820" stroke="#7a6020" stroke-width="0.5"/>
<circle cx="258.80" cy="473.50" r="1.15" fill="#e0a820" stroke="#7a6020" stroke-width="0.5"/>
<circle cx="260.60" cy="473.50" r="1.15" fill="#e0a820" stroke="#7a6020" stroke-width="0.5"/>
<circle cx="256.20" cy="475.20" r="1.15" fill="#e0a820" stroke="#7a6020" stroke-width="0.5"/>
<circle cx="259.70" cy="477.10" r="1.15" fill="#e0a820" stroke="#7a6020" stroke-width="0.5"/>
<circle cx="261.90" cy="477.80" r="1.15" fill="#e0a820" stroke="#7a6020" stroke-width="0.5"/>
<circle cx="261.00" cy="479.50" r="1.15" fill="#e0a820" stroke="#7a6020" stroke-width="0.5"/>
<circle cx="261.90" cy="481.00" r="1.15" fill="#e0a820" stroke="#7a6020" stroke-width="0.5"/>
<circle cx="260.60" cy="482.10" r="1.15" fill="#e0a820" stroke="#7a6020" stroke-width="0.5"/>
<circle cx="261.90" cy="483.60" r="1.15" fill="#e0a820" stroke="#7a6020" stroke-width="0.5"/>
<circle cx="261.00" cy="484.90" r="1.15" fill="#e0a820" stroke="#7a6020" stroke-width="0.5"/>
<circle cx="261.40" cy="487.50" r="1.15" fill="#e0a820" stroke="#7a6020" stroke-width="0.5"/>
<line x1="286.75" y1="420.60" x2="286.75" y2="446.50" stroke="#a0a0a0" stroke-width="0.85"/>
<line x1="286.75" y1="474.70" x2="286.75" y2="497.40" stroke="#a0a0a0" stroke-width="0.85"/>
<line x1="280.05" y1="420.60" x2="293.45" y2="420.60" stroke="#a0a0a0" stroke-width="0.85"/>
<line x1="280.05" y1="497.40" x2="293.45" y2="497.40" stroke="#a0a0a0" stroke-width="0.85"/>
<rect x="273.35" y="446.50" width="26.80" height="28.20" fill="#5da8b2" stroke="#505050" stroke-opacity="0.35" stroke-width="0.8"/>
<line x1="273.35" y1="464.30" x2="300.15" y2="464.30" stroke="#4f8e97" stroke-width="0.9"/>
<circle cx="285.40" cy="421.88" r="1.15" fill="#34b0c6" stroke="#36606a" stroke-width="0.5"/>
<circle cx="287.12" cy="424.09" r="1.15" fill="#34b0c6" stroke="#36606a" stroke-width="0.5"/>
<circle cx="289.53" cy="427.86" r="1.15" fill="#34b0c6" stroke="#36606a" stroke-width="0.5"/>
<circle cx="289.36" cy="424.18" r="1.15" fill="#34b0c6" stroke="#36606a" stroke-width="0.5"/>
<circle cx="288.37" cy="425.65" r="1.15" fill="#34b0c6" stroke="#36606a" stroke-width="0.5"/>
<circle cx="286.28" cy="432.15" r="1.15" fill="#34b0c6" stroke="#36606a" stroke-width="0.5"/>
<circle cx="288.33" cy="444.74" r="1.15" fill="#34b0c6" stroke="#36606a" stroke-width="0.5"/>
<circle cx="289.55" cy="445.04" r="1.15" fill="#34b0c6" stroke="#36606a" stroke-width="0.5"/>
<circle cx="289.26" cy="428.60" r="1.15" fill="#34b0c6" stroke="#36606a" stroke-width="0.5"/>
<circle cx="287.24" cy="445.89" r="1.15" fill="#34b0c6" stroke="#36606a" stroke-width="0.5"/>
<circle cx="286.69" cy="445.91" r="1.15" fill="#34b0c6" stroke="#36606a" stroke-width="0.5"/>
<circle cx="285.08" cy="445.69" r="1.15" fill="#34b0c6" stroke="#36606a" stroke-width="0.5"/>
<circle cx="288.06" cy="446.38" r="1.15" fill="#34b0c6" stroke="#36606a" stroke-width="0.5"/>
<circle cx="288.58" cy="434.35" r="1.15" fill="#34b0c6" stroke="#36606a" stroke-width="0.5"/>
<circle cx="285.26" cy="441.49" r="1.15" fill="#34b0c6" stroke="#36606a" stroke-width="0.5"/>
<circle cx="289.33" cy="443.53" r="1.15" fill="#34b0c6" stroke="#36606a" stroke-width="0.5"/>
<circle cx="284.88" cy="445.08" r="1.15" fill="#34b0c6" stroke="#36606a" stroke-width="0.5"/>
<circle cx="286.10" cy="438.01" r="1.15" fill="#34b0c6" stroke="#36606a" stroke-width="0.5"/>
<circle cx="289.34" cy="442.30" r="1.15" fill="#34b0c6" stroke="#36606a" stroke-width="0.5"/>
<circle cx="284.88" cy="433.17" r="1.15" fill="#34b0c6" stroke="#36606a" stroke-width="0.5"/>
<circle cx="287.13" cy="434.40" r="1.15" fill="#34b0c6" stroke="#36606a" stroke-width="0.5"/>
<circle cx="287.92" cy="444.78" r="1.15" fill="#34b0c6" stroke="#36606a" stroke-width="0.5"/>
<circle cx="288.43" cy="436.80" r="1.15" fill="#34b0c6" stroke="#36606a" stroke-width="0.5"/>
<circle cx="285.49" cy="430.58" r="1.15" fill="#34b0c6" stroke="#36606a" stroke-width="0.5"/>
<circle cx="284.67" cy="445.00" r="1.15" fill="#34b0c6" stroke="#36606a" stroke-width="0.5"/>
<circle cx="286.28" cy="429.42" r="1.15" fill="#34b0c6" stroke="#36606a" stroke-width="0.5"/>
<circle cx="289.65" cy="431.38" r="1.15" fill="#34b0c6" stroke="#36606a" stroke-width="0.5"/>
<circle cx="288.38" cy="428.57" r="1.15" fill="#34b0c6" stroke="#36606a" stroke-width="0.5"/>
<circle cx="284.28" cy="438.12" r="1.15" fill="#34b0c6" stroke="#36606a" stroke-width="0.5"/>
<circle cx="288.98" cy="436.51" r="1.15" fill="#34b0c6" stroke="#36606a" stroke-width="0.5"/>
<circle cx="288.91" cy="446.28" r="1.15" fill="#34b0c6" stroke="#36606a" stroke-width="0.5"/>
<circle cx="286.87" cy="445.30" r="1.15" fill="#34b0c6" stroke="#36606a" stroke-width="0.5"/>
<circle cx="286.64" cy="433.80" r="1.15" fill="#34b0c6" stroke="#36606a" stroke-width="0.5"/>
<circle cx="287.29" cy="435.67" r="1.15" fill="#34b0c6" stroke="#36606a" stroke-width="0.5"/>
<circle cx="285.48" cy="436.17" r="1.15" fill="#34b0c6" stroke="#36606a" stroke-width="0.5"/>
<circle cx="289.04" cy="430.97" r="1.15" fill="#34b0c6" stroke="#36606a" stroke-width="0.5"/>
<circle cx="286.57" cy="430.08" r="1.15" fill="#34b0c6" stroke="#36606a" stroke-width="0.5"/>
<circle cx="287.69" cy="440.02" r="1.15" fill="#34b0c6" stroke="#36606a" stroke-width="0.5"/>
<circle cx="287.18" cy="437.96" r="1.15" fill="#34b0c6" stroke="#36606a" stroke-width="0.5"/>
<circle cx="284.53" cy="438.64" r="1.15" fill="#34b0c6" stroke="#36606a" stroke-width="0.5"/>
<circle cx="285.88" cy="440.62" r="1.15" fill="#34b0c6" stroke="#36606a" stroke-width="0.5"/>
<circle cx="288.00" cy="445.06" r="1.15" fill="#34b0c6" stroke="#36606a" stroke-width="0.5"/>
<circle cx="289.10" cy="439.33" r="1.15" fill="#34b0c6" stroke="#36606a" stroke-width="0.5"/>
<circle cx="288.93" cy="449.95" r="1.15" fill="#34b0c6" stroke="#36606a" stroke-width="0.5"/>
<circle cx="284.35" cy="458.33" r="1.15" fill="#34b0c6" stroke="#36606a" stroke-width="0.5"/>
<circle cx="288.84" cy="452.11" r="1.15" fill="#34b0c6" stroke="#36606a" stroke-width="0.5"/>
<circle cx="285.66" cy="457.10" r="1.15" fill="#34b0c6" stroke="#36606a" stroke-width="0.5"/>
<circle cx="283.85" cy="462.27" r="1.15" fill="#34b0c6" stroke="#36606a" stroke-width="0.5"/>
<circle cx="286.29" cy="463.41" r="1.15" fill="#34b0c6" stroke="#36606a" stroke-width="0.5"/>
<circle cx="285.65" cy="452.74" r="1.15" fill="#34b0c6" stroke="#36606a" stroke-width="0.5"/>
<circle cx="285.49" cy="457.51" r="1.15" fill="#34b0c6" stroke="#36606a" stroke-width="0.5"/>
<circle cx="287.86" cy="462.73" r="1.15" fill="#34b0c6" stroke="#36606a" stroke-width="0.5"/>
<circle cx="287.79" cy="462.84" r="1.15" fill="#34b0c6" stroke="#36606a" stroke-width="0.5"/>
<circle cx="284.42" cy="459.42" r="1.15" fill="#34b0c6" stroke="#36606a" stroke-width="0.5"/>
<circle cx="288.83" cy="452.97" r="1.15" fill="#34b0c6" stroke="#36606a" stroke-width="0.5"/>
<circle cx="288.29" cy="463.67" r="1.15" fill="#34b0c6" stroke="#36606a" stroke-width="0.5"/>
<circle cx="287.80" cy="455.23" r="1.15" fill="#34b0c6" stroke="#36606a" stroke-width="0.5"/>
<circle cx="285.73" cy="461.76" r="1.15" fill="#34b0c6" stroke="#36606a" stroke-width="0.5"/>
<circle cx="286.18" cy="461.55" r="1.15" fill="#34b0c6" stroke="#36606a" stroke-width="0.5"/>
<circle cx="288.01" cy="463.29" r="1.15" fill="#34b0c6" stroke="#36606a" stroke-width="0.5"/>
<circle cx="288.61" cy="451.63" r="1.15" fill="#34b0c6" stroke="#36606a" stroke-width="0.5"/>
<circle cx="284.61" cy="451.80" r="1.15" fill="#34b0c6" stroke="#36606a" stroke-width="0.5"/>
<circle cx="284.33" cy="449.18" r="1.15" fill="#34b0c6" stroke="#36606a" stroke-width="0.5"/>
<circle cx="283.93" cy="460.20" r="1.15" fill="#34b0c6" stroke="#36606a" stroke-width="0.5"/>
<circle cx="284.53" cy="457.35" r="1.15" fill="#34b0c6" stroke="#36606a" stroke-width="0.5"/>
<circle cx="284.89" cy="463.15" r="1.15" fill="#34b0c6" stroke="#36606a" stroke-width="0.5"/>
<circle cx="287.49" cy="449.51" r="1.15" fill="#34b0c6" stroke="#36606a" stroke-width="0.5"/>
<circle cx="287.46" cy="453.20" r="1.15" fill="#34b0c6" stroke="#36606a" stroke-width="0.5"/>
<circle cx="285.94" cy="460.61" r="1.15" fill="#34b0c6" stroke="#36606a" stroke-width="0.5"/>
<circle cx="285.40" cy="453.77" r="1.15" fill="#34b0c6" stroke="#36606a" stroke-width="0.5"/>
<circle cx="285.36" cy="455.76" r="1.15" fill="#34b0c6" stroke="#36606a" stroke-width="0.5"/>
<circle cx="283.75" cy="455.95" r="1.15" fill="#34b0c6" stroke="#36606a" stroke-width="0.5"/>
<circle cx="287.33" cy="449.85" r="1.15" fill="#34b0c6" stroke="#36606a" stroke-width="0.5"/>
<circle cx="287.77" cy="453.70" r="1.15" fill="#34b0c6" stroke="#36606a" stroke-width="0.5"/>
<circle cx="289.11" cy="453.14" r="1.15" fill="#34b0c6" stroke="#36606a" stroke-width="0.5"/>
<circle cx="286.56" cy="452.75" r="1.15" fill="#34b0c6" stroke="#36606a" stroke-width="0.5"/>
<circle cx="285.80" cy="459.06" r="1.15" fill="#34b0c6" stroke="#36606a" stroke-width="0.5"/>
<circle cx="285.87" cy="462.02" r="1.15" fill="#34b0c6" stroke="#36606a" stroke-width="0.5"/>
<circle cx="284.93" cy="457.71" r="1.15" fill="#34b0c6" stroke="#36606a" stroke-width="0.5"/>
<circle cx="284.50" cy="460.81" r="1.15" fill="#34b0c6" stroke="#36606a" stroke-width="0.5"/>
<circle cx="283.98" cy="452.86" r="1.15" fill="#34b0c6" stroke="#36606a" stroke-width="0.5"/>
<circle cx="289.55" cy="470.86" r="1.15" fill="#34b0c6" stroke="#36606a" stroke-width="0.5"/>
<circle cx="289.35" cy="469.47" r="1.15" fill="#34b0c6" stroke="#36606a" stroke-width="0.5"/>
<circle cx="288.40" cy="467.82" r="1.15" fill="#34b0c6" stroke="#36606a" stroke-width="0.5"/>
<circle cx="287.75" cy="468.31" r="1.15" fill="#34b0c6" stroke="#36606a" stroke-width="0.5"/>
<circle cx="288.19" cy="465.95" r="1.15" fill="#34b0c6" stroke="#36606a" stroke-width="0.5"/>
<circle cx="286.63" cy="473.71" r="1.15" fill="#34b0c6" stroke="#36606a" stroke-width="0.5"/>
<circle cx="284.27" cy="466.26" r="1.15" fill="#34b0c6" stroke="#36606a" stroke-width="0.5"/>
<circle cx="289.11" cy="468.69" r="1.15" fill="#34b0c6" stroke="#36606a" stroke-width="0.5"/>
<circle cx="287.49" cy="469.96" r="1.15" fill="#34b0c6" stroke="#36606a" stroke-width="0.5"/>
<circle cx="287.74" cy="464.38" r="1.15" fill="#34b0c6" stroke="#36606a" stroke-width="0.5"/>
<circle cx="288.72" cy="473.06" r="1.15" fill="#34b0c6" stroke="#36606a" stroke-width="0.5"/>
<circle cx="289.47" cy="474.17" r="1.15" fill="#34b0c6" stroke="#36606a" stroke-width="0.5"/>
<circle cx="287.20" cy="466.78" r="1.15" fill="#34b0c6" stroke="#36606a" stroke-width="0.5"/>
<circle cx="288.25" cy="472.92" r="1.15" fill="#34b0c6" stroke="#36606a" stroke-width="0.5"/>
<circle cx="287.14" cy="464.50" r="1.15" fill="#34b0c6" stroke="#36606a" stroke-width="0.5"/>
<circle cx="288.30" cy="467.70" r="1.15" fill="#34b0c6" stroke="#36606a" stroke-width="0.5"/>
<circle cx="286.73" cy="464.75" r="1.15" fill="#34b0c6" stroke="#36606a" stroke-width="0.5"/>
<circle cx="284.94" cy="466.42" r="1.15" fill="#34b0c6" stroke="#36606a" stroke-width="0.5"/>
<circle cx="286.49" cy="474.36" r="1.15" fill="#34b0c6" stroke="#36606a" stroke-width="0.5"/>
<circle cx="284.55" cy="466.36" r="1.15" fill="#34b0c6" stroke="#36606a" stroke-width="0.5"/>
<circle cx="287.99" cy="465.19" r="1.15" fill="#34b0c6" stroke="#36606a" stroke-width="0.5"/>
<circle cx="283.76" cy="472.92" r="1.15" fill="#34b0c6" stroke="#36606a" stroke-width="0.5"/>
<circle cx="285.66" cy="474.68" r="1.15" fill="#34b0c6" stroke="#36606a" stroke-width="0.5"/>
<circle cx="286.38" cy="473.00" r="1.15" fill="#34b0c6" stroke="#36606a" stroke-width="0.5"/>
<circle cx="285.16" cy="470.84" r="1.15" fill="#34b0c6" stroke="#36606a" stroke-width="0.5"/>
<circle cx="287.34" cy="473.86" r="1.15" fill="#34b0c6" stroke="#36606a" stroke-width="0.5"/>
<circle cx="284.94" cy="464.97" r="1.15" fill="#34b0c6" stroke="#36606a" stroke-width="0.5"/>
<circle cx="289.53" cy="471.87" r="1.15" fill="#34b0c6" stroke="#36606a" stroke-width="0.5"/>
<circle cx="285.51" cy="471.31" r="1.15" fill="#34b0c6" stroke="#36606a" stroke-width="0.5"/>
<circle cx="284.32" cy="468.57" r="1.15" fill="#34b0c6" stroke="#36606a" stroke-width="0.5"/>
<circle cx="288.87" cy="467.02" r="1.15" fill="#34b0c6" stroke="#36606a" stroke-width="0.5"/>
<circle cx="289.30" cy="472.51" r="1.15" fill="#34b0c6" stroke="#36606a" stroke-width="0.5"/>
<circle cx="284.86" cy="473.12" r="1.15" fill="#34b0c6" stroke="#36606a" stroke-width="0.5"/>
<circle cx="286.87" cy="465.59" r="1.15" fill="#34b0c6" stroke="#36606a" stroke-width="0.5"/>
<circle cx="287.85" cy="478.11" r="1.15" fill="#34b0c6" stroke="#36606a" stroke-width="0.5"/>
<circle cx="284.29" cy="485.26" r="1.15" fill="#34b0c6" stroke="#36606a" stroke-width="0.5"/>
<circle cx="287.48" cy="475.81" r="1.15" fill="#34b0c6" stroke="#36606a" stroke-width="0.5"/>
<circle cx="284.38" cy="484.22" r="1.15" fill="#34b0c6" stroke="#36606a" stroke-width="0.5"/>
<circle cx="287.99" cy="477.22" r="1.15" fill="#34b0c6" stroke="#36606a" stroke-width="0.5"/>
<circle cx="286.46" cy="485.75" r="1.15" fill="#34b0c6" stroke="#36606a" stroke-width="0.5"/>
<circle cx="287.02" cy="475.54" r="1.15" fill="#34b0c6" stroke="#36606a" stroke-width="0.5"/>
<circle cx="285.87" cy="481.73" r="1.15" fill="#34b0c6" stroke="#36606a" stroke-width="0.5"/>
<circle cx="287.94" cy="482.73" r="1.15" fill="#34b0c6" stroke="#36606a" stroke-width="0.5"/>
<circle cx="285.33" cy="479.40" r="1.15" fill="#34b0c6" stroke="#36606a" stroke-width="0.5"/>
<circle cx="287.07" cy="476.37" r="1.15" fill="#34b0c6" stroke="#36606a" stroke-width="0.5"/>
<circle cx="284.85" cy="478.03" r="1.15" fill="#34b0c6" stroke="#36606a" stroke-width="0.5"/>
<circle cx="287.39" cy="476.65" r="1.15" fill="#34b0c6" stroke="#36606a" stroke-width="0.5"/>
<circle cx="288.98" cy="481.28" r="1.15" fill="#34b0c6" stroke="#36606a" stroke-width="0.5"/>
<circle cx="284.56" cy="479.55" r="1.15" fill="#34b0c6" stroke="#36606a" stroke-width="0.5"/>
<circle cx="288.52" cy="484.12" r="1.15" fill="#34b0c6" stroke="#36606a" stroke-width="0.5"/>
<circle cx="288.17" cy="478.74" r="1.15" fill="#34b0c6" stroke="#36606a" stroke-width="0.5"/>
<circle cx="287.12" cy="482.37" r="1.15" fill="#34b0c6" stroke="#36606a" stroke-width="0.5"/>
<circle cx="288.94" cy="474.78" r="1.15" fill="#34b0c6" stroke="#36606a" stroke-width="0.5"/>
<circle cx="289.14" cy="479.56" r="1.15" fill="#34b0c6" stroke="#36606a" stroke-width="0.5"/>
<circle cx="283.89" cy="477.09" r="1.15" fill="#34b0c6" stroke="#36606a" stroke-width="0.5"/>
<circle cx="287.37" cy="476.64" r="1.15" fill="#34b0c6" stroke="#36606a" stroke-width="0.5"/>
<circle cx="289.07" cy="481.24" r="1.15" fill="#34b0c6" stroke="#36606a" stroke-width="0.5"/>
<circle cx="289.30" cy="477.60" r="1.15" fill="#34b0c6" stroke="#36606a" stroke-width="0.5"/>
<circle cx="283.77" cy="496.29" r="1.15" fill="#34b0c6" stroke="#36606a" stroke-width="0.5"/>
<circle cx="287.99" cy="494.75" r="1.15" fill="#34b0c6" stroke="#36606a" stroke-width="0.5"/>
<circle cx="288.62" cy="492.40" r="1.15" fill="#34b0c6" stroke="#36606a" stroke-width="0.5"/>
<circle cx="285.71" cy="496.59" r="1.15" fill="#34b0c6" stroke="#36606a" stroke-width="0.5"/>
<circle cx="288.93" cy="488.24" r="1.15" fill="#34b0c6" stroke="#36606a" stroke-width="0.5"/>
<circle cx="289.24" cy="489.23" r="1.15" fill="#34b0c6" stroke="#36606a" stroke-width="0.5"/>
<circle cx="284.40" cy="402.40" r="1.15" fill="#34b0c6" stroke="#36606a" stroke-width="0.5"/>
<circle cx="287.50" cy="420.60" r="1.15" fill="#34b0c6" stroke="#36606a" stroke-width="0.5"/>
<circle cx="285.50" cy="497.40" r="1.15" fill="#34b0c6" stroke="#36606a" stroke-width="0.5"/>
<line x1="313.55" y1="424.20" x2="313.55" y2="456.30" stroke="#a0a0a0" stroke-width="0.85"/>
<line x1="313.55" y1="486.60" x2="313.55" y2="506.70" stroke="#a0a0a0" stroke-width="0.85"/>
<line x1="306.85" y1="424.20" x2="320.25" y2="424.20" stroke="#a0a0a0" stroke-width="0.85"/>
<line x1="306.85" y1="506.70" x2="320.25" y2="506.70" stroke="#a0a0a0" stroke-width="0.85"/>
<rect x="300.15" y="456.30" width="26.80" height="30.30" fill="#b875ca" stroke="#505050" stroke-opacity="0.35" stroke-width="0.8"/>
<line x1="300.15" y1="473.60" x2="326.95" y2="473.60" stroke="#9c63ab" stroke-width="0.9"/>
<circle cx="315.79" cy="441.47" r="1.15" fill="#bf55da" stroke="#6e3c7c" stroke-width="0.5"/>
<circle cx="313.07" cy="427.22" r="1.15" fill="#bf55da" stroke="#6e3c7c" stroke-width="0.5"/>
<circle cx="312.25" cy="444.84" r="1.15" fill="#bf55da" stroke="#6e3c7c" stroke-width="0.5"/>
<circle cx="311.48" cy="429.55" r="1.15" fill="#bf55da" stroke="#6e3c7c" stroke-width="0.5"/>
<circle cx="313.82" cy="441.34" r="1.15" fill="#bf55da" stroke="#6e3c7c" stroke-width="0.5"/>
<circle cx="311.90" cy="430.41" r="1.15" fill="#bf55da" stroke="#6e3c7c" stroke-width="0.5"/>
<circle cx="311.78" cy="441.85" r="1.15" fill="#bf55da" stroke="#6e3c7c" stroke-width="0.5"/>
<circle cx="312.70" cy="442.12" r="1.15" fill="#bf55da" stroke="#6e3c7c" stroke-width="0.5"/>
<circle cx="313.38" cy="438.06" r="1.15" fill="#bf55da" stroke="#6e3c7c" stroke-width="0.5"/>
<circle cx="315.83" cy="442.98" r="1.15" fill="#bf55da" stroke="#6e3c7c" stroke-width="0.5"/>
<circle cx="313.27" cy="441.33" r="1.15" fill="#bf55da" stroke="#6e3c7c" stroke-width="0.5"/>
<circle cx="312.31" cy="440.35" r="1.15" fill="#bf55da" stroke="#6e3c7c" stroke-width="0.5"/>
<circle cx="315.36" cy="441.13" r="1.15" fill="#bf55da" stroke="#6e3c7c" stroke-width="0.5"/>
<circle cx="315.34" cy="440.76" r="1.15" fill="#bf55da" stroke="#6e3c7c" stroke-width="0.5"/>
<circle cx="316.29" cy="454.03" r="1.15" fill="#bf55da" stroke="#6e3c7c" stroke-width="0.5"/>
<circle cx="314.13" cy="446.46" r="1.15" fill="#bf55da" stroke="#6e3c7c" stroke-width="0.5"/>
<circle cx="311.92" cy="453.34" r="1.15" fill="#bf55da" stroke="#6e3c7c" stroke-width="0.5"/>
<circle cx="316.26" cy="445.28" r="1.15" fill="#bf55da" stroke="#6e3c7c" stroke-width="0.5"/>
<circle cx="312.21" cy="453.16" r="1.15" fill="#bf55da" stroke="#6e3c7c" stroke-width="0.5"/>
<circle cx="313.12" cy="450.81" r="1.15" fill="#bf55da" stroke="#6e3c7c" stroke-width="0.5"/>
<circle cx="315.78" cy="451.11" r="1.15" fill="#bf55da" stroke="#6e3c7c" stroke-width="0.5"/>
<circle cx="312.44" cy="452.47" r="1.15" fill="#bf55da" stroke="#6e3c7c" stroke-width="0.5"/>
<circle cx="310.63" cy="447.81" r="1.15" fill="#bf55da" stroke="#6e3c7c" stroke-width="0.5"/>
<circle cx="316.21" cy="452.53" r="1.15" fill="#bf55da" stroke="#6e3c7c" stroke-width="0.5"/>
<circle cx="315.24" cy="446.75" r="1.15" fill="#bf55da" stroke="#6e3c7c" stroke-width="0.5"/>
<circle cx="315.36" cy="447.00" r="1.15" fill="#bf55da" stroke="#6e3c7c" stroke-width="0.5"/>
<circle cx="311.34" cy="456.20" r="1.15" fill="#bf55da" stroke="#6e3c7c" stroke-width="0.5"/>
<circle cx="310.89" cy="455.11" r="1.15" fill="#bf55da" stroke="#6e3c7c" stroke-width="0.5"/>
<circle cx="315.28" cy="452.12" r="1.15" fill="#bf55da" stroke="#6e3c7c" stroke-width="0.5"/>
<circle cx="311.22" cy="446.64" r="1.15" fill="#bf55da" stroke="#6e3c7c" stroke-width="0.5"/>
<circle cx="315.06" cy="449.43" r="1.15" fill="#bf55da" stroke="#6e3c7c" stroke-width="0.5"/>
<circle cx="316.45" cy="454.77" r="1.15" fill="#bf55da" stroke="#6e3c7c" stroke-width="0.5"/>
<circle cx="313.17" cy="466.06" r="1.15" fill="#bf55da" stroke="#6e3c7c" stroke-width="0.5"/>
<circle cx="314.61" cy="460.76" r="1.15" fill="#bf55da" stroke="#6e3c7c" stroke-width="0.5"/>
<circle cx="313.83" cy="468.00" r="1.15" fill="#bf55da" stroke="#6e3c7c" stroke-width="0.5"/>
<circle cx="313.89" cy="460.01" r="1.15" fill="#bf55da" stroke="#6e3c7c" stroke-width="0.5"/>
<circle cx="316.07" cy="472.44" r="1.15" fill="#bf55da" stroke="#6e3c7c" stroke-width="0.5"/>
<circle cx="314.27" cy="460.42" r="1.15" fill="#bf55da" stroke="#6e3c7c" stroke-width="0.5"/>
<circle cx="315.22" cy="466.22" r="1.15" fill="#bf55da" stroke="#6e3c7c" stroke-width="0.5"/>
<circle cx="313.37" cy="460.05" r="1.15" fill="#bf55da" stroke="#6e3c7c" stroke-width="0.5"/>
<circle cx="311.27" cy="466.48" r="1.15" fill="#bf55da" stroke="#6e3c7c" stroke-width="0.5"/>
<circle cx="312.25" cy="460.07" r="1.15" fill="#bf55da" stroke="#6e3c7c" stroke-width="0.5"/>
<circle cx="316.40" cy="457.46" r="1.15" fill="#bf55da" stroke="#6e3c7c" stroke-width="0.5"/>
<circle cx="316.09" cy="467.80" r="1.15" fill="#bf55da" stroke="#6e3c7c" stroke-width="0.5"/>
<circle cx="315.72" cy="472.30" r="1.15" fill="#bf55da" stroke="#6e3c7c" stroke-width="0.5"/>
<circle cx="316.47" cy="473.29" r="1.15" fill="#bf55da" stroke="#6e3c7c" stroke-width="0.5"/>
<circle cx="316.55" cy="467.99" r="1.15" fill="#bf55da" stroke="#6e3c7c" stroke-width="0.5"/>
<circle cx="313.03" cy="471.69" r="1.15" fill="#bf55da" stroke="#6e3c7c" stroke-width="0.5"/>
<circle cx="312.16" cy="462.88" r="1.15" fill="#bf55da" stroke="#6e3c7c" stroke-width="0.5"/>
<circle cx="314.56" cy="459.89" r="1.15" fill="#bf55da" stroke="#6e3c7c" stroke-width="0.5"/>
<circle cx="311.50" cy="461.96" r="1.15" fill="#bf55da" stroke="#6e3c7c" stroke-width="0.5"/>
<circle cx="315.90" cy="472.59" r="1.15" fill="#bf55da" stroke="#6e3c7c" stroke-width="0.5"/>
<circle cx="316.40" cy="467.62" r="1.15" fill="#bf55da" stroke="#6e3c7c" stroke-width="0.5"/>
<circle cx="312.55" cy="462.00" r="1.15" fill="#bf55da" stroke="#6e3c7c" stroke-width="0.5"/>
<circle cx="315.68" cy="464.08" r="1.15" fill="#bf55da" stroke="#6e3c7c" stroke-width="0.5"/>
<circle cx="315.60" cy="467.38" r="1.15" fill="#bf55da" stroke="#6e3c7c" stroke-width="0.5"/>
<circle cx="313.41" cy="470.43" r="1.15" fill="#bf55da" stroke="#6e3c7c" stroke-width="0.5"/>
<circle cx="311.22" cy="457.94" r="1.15" fill="#bf55da" stroke="#6e3c7c" stroke-width="0.5"/>
<circle cx="316.31" cy="457.98" r="1.15" fill="#bf55da" stroke="#6e3c7c" stroke-width="0.5"/>
<circle cx="316.52" cy="470.46" r="1.15" fill="#bf55da" stroke="#6e3c7c" stroke-width="0.5"/>
<circle cx="316.48" cy="461.32" r="1.15" fill="#bf55da" stroke="#6e3c7c" stroke-width="0.5"/>
<circle cx="310.84" cy="456.88" r="1.15" fill="#bf55da" stroke="#6e3c7c" stroke-width="0.5"/>
<circle cx="311.56" cy="480.04" r="1.15" fill="#bf55da" stroke="#6e3c7c" stroke-width="0.5"/>
<circle cx="315.11" cy="481.87" r="1.15" fill="#bf55da" stroke="#6e3c7c" stroke-width="0.5"/>
<circle cx="313.78" cy="478.50" r="1.15" fill="#bf55da" stroke="#6e3c7c" stroke-width="0.5"/>
<circle cx="311.06" cy="478.87" r="1.15" fill="#bf55da" stroke="#6e3c7c" stroke-width="0.5"/>
<circle cx="315.87" cy="475.97" r="1.15" fill="#bf55da" stroke="#6e3c7c" stroke-width="0.5"/>
<circle cx="313.57" cy="475.48" r="1.15" fill="#bf55da" stroke="#6e3c7c" stroke-width="0.5"/>
<circle cx="310.83" cy="485.56" r="1.15" fill="#bf55da" stroke="#6e3c7c" stroke-width="0.5"/>
<circle cx="315.63" cy="480.44" r="1.15" fill="#bf55da" stroke="#6e3c7c" stroke-width="0.5"/>
<circle cx="315.68" cy="481.73" r="1.15" fill="#bf55da" stroke="#6e3c7c" stroke-width="0.5"/>
<circle cx="311.52" cy="479.72" r="1.15" fill="#bf55da" stroke="#6e3c7c" stroke-width="0.5"/>
<circle cx="312.79" cy="479.22" r="1.15" fill="#bf55da" stroke="#6e3c7c" stroke-width="0.5"/>
<circle cx="312.66" cy="483.25" r="1.15" fill="#bf55da" stroke="#6e3c7c" stroke-width="0.5"/>
<circle cx="315.50" cy="474.80" r="1.15" fill="#bf55da" stroke="#6e3c7c" stroke-width="0.5"/>
<circle cx="315.02" cy="486.13" r="1.15" fill="#bf55da" stroke="#6e3c7c" stroke-width="0.5"/>
<circle cx="312.89" cy="486.13" r="1.15" fill="#bf55da" stroke="#6e3c7c" stroke-width="0.5"/>
<circle cx="315.90" cy="479.40" r="1.15" fill="#bf55da" stroke="#6e3c7c" stroke-width="0.5"/>
<circle cx="316.12" cy="485.44" r="1.15" fill="#bf55da" stroke="#6e3c7c" stroke-width="0.5"/>
<circle cx="312.78" cy="479.86" r="1.15" fill="#bf55da" stroke="#6e3c7c" stroke-width="0.5"/>
<circle cx="311.84" cy="481.74" r="1.15" fill="#bf55da" stroke="#6e3c7c" stroke-width="0.5"/>
<circle cx="312.10" cy="473.72" r="1.15" fill="#bf55da" stroke="#6e3c7c" stroke-width="0.5"/>
<circle cx="311.85" cy="480.13" r="1.15" fill="#bf55da" stroke="#6e3c7c" stroke-width="0.5"/>
<circle cx="314.40" cy="474.72" r="1.15" fill="#bf55da" stroke="#6e3c7c" stroke-width="0.5"/>
<circle cx="316.27" cy="476.68" r="1.15" fill="#bf55da" stroke="#6e3c7c" stroke-width="0.5"/>
<circle cx="314.31" cy="478.54" r="1.15" fill="#bf55da" stroke="#6e3c7c" stroke-width="0.5"/>
<circle cx="310.63" cy="483.05" r="1.15" fill="#bf55da" stroke="#6e3c7c" stroke-width="0.5"/>
<circle cx="313.94" cy="476.44" r="1.15" fill="#bf55da" stroke="#6e3c7c" stroke-width="0.5"/>
<circle cx="312.12" cy="496.01" r="1.15" fill="#bf55da" stroke="#6e3c7c" stroke-width="0.5"/>
<circle cx="310.79" cy="493.10" r="1.15" fill="#bf55da" stroke="#6e3c7c" stroke-width="0.5"/>
<circle cx="314.79" cy="492.85" r="1.15" fill="#bf55da" stroke="#6e3c7c" stroke-width="0.5"/>
<circle cx="312.77" cy="493.53" r="1.15" fill="#bf55da" stroke="#6e3c7c" stroke-width="0.5"/>
<circle cx="312.56" cy="492.70" r="1.15" fill="#bf55da" stroke="#6e3c7c" stroke-width="0.5"/>
<circle cx="311.02" cy="488.17" r="1.15" fill="#bf55da" stroke="#6e3c7c" stroke-width="0.5"/>
<circle cx="312.53" cy="489.82" r="1.15" fill="#bf55da" stroke="#6e3c7c" stroke-width="0.5"/>
<circle cx="311.46" cy="496.96" r="1.15" fill="#bf55da" stroke="#6e3c7c" stroke-width="0.5"/>
<circle cx="315.09" cy="491.49" r="1.15" fill="#bf55da" stroke="#6e3c7c" stroke-width="0.5"/>
<circle cx="313.25" cy="488.55" r="1.15" fill="#bf55da" stroke="#6e3c7c" stroke-width="0.5"/>
<circle cx="316.03" cy="495.58" r="1.15" fill="#bf55da" stroke="#6e3c7c" stroke-width="0.5"/>
<circle cx="313.74" cy="491.26" r="1.15" fill="#bf55da" stroke="#6e3c7c" stroke-width="0.5"/>
<circle cx="314.00" cy="424.20" r="1.15" fill="#bf55da" stroke="#6e3c7c" stroke-width="0.5"/>
<circle cx="311.50" cy="506.70" r="1.15" fill="#bf55da" stroke="#6e3c7c" stroke-width="0.5"/>
<circle cx="315.00" cy="506.20" r="1.15" fill="#bf55da" stroke="#6e3c7c" stroke-width="0.5"/>
<circle cx="312.00" cy="502.00" r="1.15" fill="#bf55da" stroke="#6e3c7c" stroke-width="0.5"/>
<line x1="35.50" y1="300.50" x2="337.00" y2="300.50" stroke="#8a8a8a" stroke-width="1.0"/>
<line x1="35.50" y1="525.50" x2="337.00" y2="525.50" stroke="#8a8a8a" stroke-width="1.0"/>
<line x1="35.50" y1="300.00" x2="35.50" y2="526.00" stroke="#8a8a8a" stroke-width="1.0"/>
<line x1="337.00" y1="300.00" x2="337.00" y2="526.00" stroke="#8a8a8a" stroke-width="1.0"/>
<rect x="198.80" y="301.70" width="135.70" height="76.60" fill="#ffffff" stroke="#e0e0e0" stroke-width="1.0"/>
<text x="266.00" y="318.00" font-size="10.6" text-anchor="middle" fill="#262626" stroke="#262626" stroke-width="0.15" textLength="120.4" lengthAdjust="spacingAndGlyphs">Conductive additive (wt.%)</text>
<rect x="246.20" y="331.70" width="27.60" height="6.20" fill="#daa520" stroke="#333333" stroke-width="0.8"/>
<text x="286.80" y="338.50" font-size="10.6" text-anchor="start" fill="#262626" stroke="#262626" stroke-width="0.15">0</text>
<rect x="246.20" y="348.05" width="27.60" height="6.20" fill="#34aabe" stroke="#333333" stroke-width="0.8"/>
<text x="286.80" y="354.85" font-size="10.6" text-anchor="start" fill="#262626" stroke="#262626" stroke-width="0.15">10</text>
<rect x="246.20" y="364.40" width="27.60" height="6.20" fill="#ba55d3" stroke="#333333" stroke-width="0.8"/>
<text x="286.80" y="371.20" font-size="10.6" text-anchor="start" fill="#262626" stroke="#262626" stroke-width="0.15">20</text>
<line x1="380.00" y1="527.50" x2="382.50" y2="527.50" stroke="#8a8a8a" stroke-width="0.9"/>
<text x="378.50" y="531.50" font-size="10.4" text-anchor="end" fill="#262626" stroke="#262626" stroke-width="0.15">30</text>
<line x1="380.00" y1="502.50" x2="382.50" y2="502.50" stroke="#8a8a8a" stroke-width="0.9"/>
<text x="378.50" y="506.50" font-size="10.4" text-anchor="end" fill="#262626" stroke="#262626" stroke-width="0.15">40</text>
<line x1="380.00" y1="477.50" x2="382.50" y2="477.50" stroke="#8a8a8a" stroke-width="0.9"/>
<text x="378.50" y="481.50" font-size="10.4" text-anchor="end" fill="#262626" stroke="#262626" stroke-width="0.15">50</text>
<line x1="380.00" y1="452.50" x2="382.50" y2="452.50" stroke="#8a8a8a" stroke-width="0.9"/>
<text x="378.50" y="456.50" font-size="10.4" text-anchor="end" fill="#262626" stroke="#262626" stroke-width="0.15">60</text>
<line x1="380.00" y1="427.50" x2="382.50" y2="427.50" stroke="#8a8a8a" stroke-width="0.9"/>
<text x="378.50" y="431.50" font-size="10.4" text-anchor="end" fill="#262626" stroke="#262626" stroke-width="0.15">70</text>
<line x1="380.00" y1="402.50" x2="382.50" y2="402.50" stroke="#8a8a8a" stroke-width="0.9"/>
<text x="378.50" y="406.50" font-size="10.4" text-anchor="end" fill="#262626" stroke="#262626" stroke-width="0.15">80</text>
<line x1="380.00" y1="377.50" x2="382.50" y2="377.50" stroke="#8a8a8a" stroke-width="0.9"/>
<text x="378.50" y="381.50" font-size="10.4" text-anchor="end" fill="#262626" stroke="#262626" stroke-width="0.15">90</text>
<line x1="380.00" y1="352.50" x2="382.50" y2="352.50" stroke="#8a8a8a" stroke-width="0.9"/>
<text x="378.50" y="356.50" font-size="10.4" text-anchor="end" fill="#262626" stroke="#262626" stroke-width="0.15">100</text>
<line x1="380.00" y1="327.50" x2="382.50" y2="327.50" stroke="#8a8a8a" stroke-width="0.9"/>
<text x="378.50" y="331.50" font-size="10.4" text-anchor="end" fill="#262626" stroke="#262626" stroke-width="0.15">110</text>
<line x1="380.00" y1="302.50" x2="382.50" y2="302.50" stroke="#8a8a8a" stroke-width="0.9"/>
<text x="378.50" y="306.50" font-size="10.4" text-anchor="end" fill="#262626" stroke="#262626" stroke-width="0.15">120</text>
<line x1="432.83" y1="527.50" x2="432.83" y2="530.00" stroke="#8a8a8a" stroke-width="0.9"/>
<text x="432.83" y="539.60" font-size="10.4" text-anchor="middle" fill="#262626" stroke="#262626" stroke-width="0.15">≤5</text>
<line x1="533.50" y1="527.50" x2="533.50" y2="530.00" stroke="#8a8a8a" stroke-width="0.9"/>
<text x="533.50" y="539.60" font-size="10.4" text-anchor="middle" fill="#262626" stroke="#262626" stroke-width="0.15">5-7</text>
<line x1="634.17" y1="527.50" x2="634.17" y2="530.00" stroke="#8a8a8a" stroke-width="0.9"/>
<text x="634.17" y="539.60" font-size="10.4" text-anchor="middle" fill="#262626" stroke="#262626" stroke-width="0.15">&gt;7</text>
<text x="533.50" y="552.10" font-size="10.8" text-anchor="middle" fill="#262626" stroke="#262626" stroke-width="0.15" textLength="61.3" lengthAdjust="spacingAndGlyphs">E/S (μL/mg)</text>
<text x="356.90" y="415.00" font-size="11.2" text-anchor="middle" fill="#262626" stroke="#262626" stroke-width="0.15" textLength="179.2" lengthAdjust="spacingAndGlyphs" transform="rotate(-90 356.90 415.00)">Normalized capacity retention (%)</text>
<line x1="406.03" y1="338.30" x2="406.03" y2="359.90" stroke="#a0a0a0" stroke-width="0.85"/>
<line x1="406.03" y1="397.50" x2="406.03" y2="420.50" stroke="#a0a0a0" stroke-width="0.85"/>
<line x1="399.33" y1="338.30" x2="412.73" y2="338.30" stroke="#a0a0a0" stroke-width="0.85"/>
<line x1="399.33" y1="420.50" x2="412.73" y2="420.50" stroke="#a0a0a0" stroke-width="0.85"/>
<rect x="392.63" y="359.90" width="26.80" height="37.60" fill="#c8a64c" stroke="#505050" stroke-opacity="0.35" stroke-width="0.8"/>
<line x1="392.63" y1="378.40" x2="419.43" y2="378.40" stroke="#aa8d40" stroke-width="0.9"/>
<circle cx="405.60" cy="338.30" r="1.15" fill="#e0a820" stroke="#7a6020" stroke-width="0.5"/>
<circle cx="404.40" cy="348.20" r="1.15" fill="#e0a820" stroke="#7a6020" stroke-width="0.5"/>
<circle cx="407.70" cy="348.70" r="1.15" fill="#e0a820" stroke="#7a6020" stroke-width="0.5"/>
<circle cx="403.30" cy="350.90" r="1.15" fill="#e0a820" stroke="#7a6020" stroke-width="0.5"/>
<circle cx="407.70" cy="354.50" r="1.15" fill="#e0a820" stroke="#7a6020" stroke-width="0.5"/>
<circle cx="404.40" cy="364.50" r="1.15" fill="#e0a820" stroke="#7a6020" stroke-width="0.5"/>
<circle cx="405.60" cy="367.80" r="1.15" fill="#e0a820" stroke="#7a6020" stroke-width="0.5"/>
<circle cx="406.60" cy="372.40" r="1.15" fill="#e0a820" stroke="#7a6020" stroke-width="0.5"/>
<circle cx="406.60" cy="375.70" r="1.15" fill="#e0a820" stroke="#7a6020" stroke-width="0.5"/>
<circle cx="407.20" cy="378.20" r="1.15" fill="#e0a820" stroke="#7a6020" stroke-width="0.5"/>
<circle cx="408.60" cy="383.20" r="1.15" fill="#e0a820" stroke="#7a6020" stroke-width="0.5"/>
<circle cx="402.80" cy="389.30" r="1.15" fill="#e0a820" stroke="#7a6020" stroke-width="0.5"/>
<circle cx="403.90" cy="390.20" r="1.15" fill="#e0a820" stroke="#7a6020" stroke-width="0.5"/>
<circle cx="403.30" cy="396.00" r="1.15" fill="#e0a820" stroke="#7a6020" stroke-width="0.5"/>
<circle cx="407.70" cy="399.60" r="1.15" fill="#e0a820" stroke="#7a6020" stroke-width="0.5"/>
<circle cx="403.90" cy="404.20" r="1.15" fill="#e0a820" stroke="#7a6020" stroke-width="0.5"/>
<circle cx="405.60" cy="406.40" r="1.15" fill="#e0a820" stroke="#7a6020" stroke-width="0.5"/>
<circle cx="403.30" cy="420.50" r="1.15" fill="#e0a820" stroke="#7a6020" stroke-width="0.5"/>
<circle cx="403.10" cy="512.00" r="1.15" fill="#e0a820" stroke="#7a6020" stroke-width="0.5"/>
<line x1="432.83" y1="353.60" x2="432.83" y2="372.00" stroke="#a0a0a0" stroke-width="0.85"/>
<line x1="432.83" y1="425.30" x2="432.83" y2="503.70" stroke="#a0a0a0" stroke-width="0.85"/>
<line x1="426.13" y1="353.60" x2="439.53" y2="353.60" stroke="#a0a0a0" stroke-width="0.85"/>
<line x1="426.13" y1="503.70" x2="439.53" y2="503.70" stroke="#a0a0a0" stroke-width="0.85"/>
<rect x="419.43" y="372.00" width="26.80" height="53.30" fill="#5da8b2" stroke="#505050" stroke-opacity="0.35" stroke-width="0.8"/>
<line x1="419.43" y1="387.30" x2="446.23" y2="387.30" stroke="#4f8e97" stroke-width="0.9"/>
<circle cx="431.10" cy="353.60" r="1.15" fill="#34b0c6" stroke="#36606a" stroke-width="0.5"/>
<circle cx="436.00" cy="353.60" r="1.15" fill="#34b0c6" stroke="#36606a" stroke-width="0.5"/>
<circle cx="433.00" cy="359.10" r="1.15" fill="#34b0c6" stroke="#36606a" stroke-width="0.5"/>
<circle cx="435.50" cy="362.50" r="1.15" fill="#34b0c6" stroke="#36606a" stroke-width="0.5"/>
<circle cx="429.60" cy="365.00" r="1.15" fill="#34b0c6" stroke="#36606a" stroke-width="0.5"/>
<circle cx="433.00" cy="366.00" r="1.15" fill="#34b0c6" stroke="#36606a" stroke-width="0.5"/>
<circle cx="436.00" cy="366.90" r="1.15" fill="#34b0c6" stroke="#36606a" stroke-width="0.5"/>
<circle cx="430.60" cy="370.50" r="1.15" fill="#34b0c6" stroke="#36606a" stroke-width="0.5"/>
<circle cx="431.80" cy="371.30" r="1.15" fill="#34b0c6" stroke="#36606a" stroke-width="0.5"/>
<circle cx="434.80" cy="370.90" r="1.15" fill="#34b0c6" stroke="#36606a" stroke-width="0.5"/>
<circle cx="430.00" cy="372.40" r="1.15" fill="#34b0c6" stroke="#36606a" stroke-width="0.5"/>
<circle cx="433.00" cy="374.90" r="1.15" fill="#34b0c6" stroke="#36606a" stroke-width="0.5"/>
<circle cx="430.60" cy="376.80" r="1.15" fill="#34b0c6" stroke="#36606a" stroke-width="0.5"/>
<circle cx="434.00" cy="377.20" r="1.15" fill="#34b0c6" stroke="#36606a" stroke-width="0.5"/>
<circle cx="435.50" cy="377.80" r="1.15" fill="#34b0c6" stroke="#36606a" stroke-width="0.5"/>
<circle cx="433.00" cy="378.70" r="1.15" fill="#34b0c6" stroke="#36606a" stroke-width="0.5"/>
<circle cx="436.20" cy="381.20" r="1.15" fill="#34b0c6" stroke="#36606a" stroke-width="0.5"/>
<circle cx="433.60" cy="382.40" r="1.15" fill="#34b0c6" stroke="#36606a" stroke-width="0.5"/>
<circle cx="434.80" cy="384.20" r="1.15" fill="#34b0c6" stroke="#36606a" stroke-width="0.5"/>
<circle cx="431.50" cy="386.70" r="1.15" fill="#34b0c6" stroke="#36606a" stroke-width="0.5"/>
<circle cx="430.30" cy="388.20" r="1.15" fill="#34b0c6" stroke="#36606a" stroke-width="0.5"/>
<circle cx="432.10" cy="389.10" r="1.15" fill="#34b0c6" stroke="#36606a" stroke-width="0.5"/>
<circle cx="432.60" cy="391.10" r="1.15" fill="#34b0c6" stroke="#36606a" stroke-width="0.5"/>
<circle cx="430.60" cy="393.10" r="1.15" fill="#34b0c6" stroke="#36606a" stroke-width="0.5"/>
<circle cx="433.30" cy="392.30" r="1.15" fill="#34b0c6" stroke="#36606a" stroke-width="0.5"/>
<circle cx="435.50" cy="392.60" r="1.15" fill="#34b0c6" stroke="#36606a" stroke-width="0.5"/>
<circle cx="433.60" cy="410.00" r="1.15" fill="#34b0c6" stroke="#36606a" stroke-width="0.5"/>
<circle cx="433.60" cy="411.80" r="1.15" fill="#34b0c6" stroke="#36606a" stroke-width="0.5"/>
<circle cx="432.60" cy="418.60" r="1.15" fill="#34b0c6" stroke="#36606a" stroke-width="0.5"/>
<circle cx="434.80" cy="424.80" r="1.15" fill="#34b0c6" stroke="#36606a" stroke-width="0.5"/>
<circle cx="433.60" cy="426.30" r="1.15" fill="#34b0c6" stroke="#36606a" stroke-width="0.5"/>
<circle cx="430.30" cy="436.50" r="1.15" fill="#34b0c6" stroke="#36606a" stroke-width="0.5"/>
<circle cx="434.50" cy="438.00" r="1.15" fill="#34b0c6" stroke="#36606a" stroke-width="0.5"/>
<circle cx="435.20" cy="449.70" r="1.15" fill="#34b0c6" stroke="#36606a" stroke-width="0.5"/>
<circle cx="430.30" cy="453.00" r="1.15" fill="#34b0c6" stroke="#36606a" stroke-width="0.5"/>
<circle cx="436.20" cy="465.00" r="1.15" fill="#34b0c6" stroke="#36606a" stroke-width="0.5"/>
<circle cx="431.30" cy="503.70" r="1.15" fill="#34b0c6" stroke="#36606a" stroke-width="0.5"/>
<line x1="459.63" y1="350.60" x2="459.63" y2="373.20" stroke="#a0a0a0" stroke-width="0.85"/>
<line x1="459.63" y1="411.50" x2="459.63" y2="450.40" stroke="#a0a0a0" stroke-width="0.85"/>
<line x1="452.93" y1="350.60" x2="466.33" y2="350.60" stroke="#a0a0a0" stroke-width="0.85"/>
<line x1="452.93" y1="450.40" x2="466.33" y2="450.40" stroke="#a0a0a0" stroke-width="0.85"/>
<rect x="446.23" y="373.20" width="26.80" height="38.30" fill="#b875ca" stroke="#505050" stroke-opacity="0.35" stroke-width="0.8"/>
<line x1="446.23" y1="409.20" x2="473.03" y2="409.20" stroke="#9c63ab" stroke-width="0.9"/>
<circle cx="459.60" cy="350.60" r="1.15" fill="#bf55da" stroke="#6e3c7c" stroke-width="0.5"/>
<circle cx="460.70" cy="364.00" r="1.15" fill="#bf55da" stroke="#6e3c7c" stroke-width="0.5"/>
<circle cx="462.50" cy="362.20" r="1.15" fill="#bf55da" stroke="#6e3c7c" stroke-width="0.5"/>
<circle cx="462.50" cy="397.50" r="1.15" fill="#bf55da" stroke="#6e3c7c" stroke-width="0.5"/>
<circle cx="458.20" cy="411.90" r="1.15" fill="#bf55da" stroke="#6e3c7c" stroke-width="0.5"/>
<circle cx="460.00" cy="409.40" r="1.15" fill="#bf55da" stroke="#6e3c7c" stroke-width="0.5"/>
<circle cx="458.90" cy="449.70" r="1.15" fill="#bf55da" stroke="#6e3c7c" stroke-width="0.5"/>
<line x1="506.70" y1="342.20" x2="506.70" y2="356.40" stroke="#a0a0a0" stroke-width="0.85"/>
<line x1="506.70" y1="393.50" x2="506.70" y2="410.10" stroke="#a0a0a0" stroke-width="0.85"/>
<line x1="500.00" y1="342.20" x2="513.40" y2="342.20" stroke="#a0a0a0" stroke-width="0.85"/>
<line x1="500.00" y1="410.10" x2="513.40" y2="410.10" stroke="#a0a0a0" stroke-width="0.85"/>
<rect x="493.30" y="356.40" width="26.80" height="37.10" fill="#c8a64c" stroke="#505050" stroke-opacity="0.35" stroke-width="0.8"/>
<line x1="493.30" y1="376.60" x2="520.10" y2="376.60" stroke="#aa8d40" stroke-width="0.9"/>
<circle cx="504.30" cy="342.20" r="1.15" fill="#e0a820" stroke="#7a6020" stroke-width="0.5"/>
<circle cx="505.30" cy="351.60" r="1.15" fill="#e0a820" stroke="#7a6020" stroke-width="0.5"/>
<circle cx="507.10" cy="356.40" r="1.15" fill="#e0a820" stroke="#7a6020" stroke-width="0.5"/>
<circle cx="508.60" cy="356.40" r="1.15" fill="#e0a820" stroke="#7a6020" stroke-width="0.5"/>
<circle cx="506.70" cy="376.60" r="1.15" fill="#e0a820" stroke="#7a6020" stroke-width="0.5"/>
<circle cx="509.20" cy="382.60" r="1.15" fill="#e0a820" stroke="#7a6020" stroke-width="0.5"/>
<circle cx="504.60" cy="390.60" r="1.15" fill="#e0a820" stroke="#7a6020" stroke-width="0.5"/>
<circle cx="507.70" cy="396.40" r="1.15" fill="#e0a820" stroke="#7a6020" stroke-width="0.5"/>
<circle cx="506.30" cy="406.00" r="1.15" fill="#e0a820" stroke="#7a6020" stroke-width="0.5"/>
<circle cx="507.90" cy="410.10" r="1.15" fill="#e0a820" stroke="#7a6020" stroke-width="0.5"/>
<line x1="533.50" y1="320.80" x2="533.50" y2="363.40" stroke="#a0a0a0" stroke-width="0.85"/>
<line x1="533.50" y1="392.90" x2="533.50" y2="420.10" stroke="#a0a0a0" stroke-width="0.85"/>
<line x1="526.80" y1="320.80" x2="540.20" y2="320.80" stroke="#a0a0a0" stroke-width="0.85"/>
<line x1="526.80" y1="420.10" x2="540.20" y2="420.10" stroke="#a0a0a0" stroke-width="0.85"/>
<rect x="520.10" y="363.40" width="26.80" height="29.50" fill="#5da8b2" stroke="#505050" stroke-opacity="0.35" stroke-width="0.8"/>
<line x1="520.10" y1="375.30" x2="546.90" y2="375.30" stroke="#4f8e97" stroke-width="0.9"/>
<circle cx="533.70" cy="320.80" r="1.15" fill="#34b0c6" stroke="#36606a" stroke-width="0.5"/>
<circle cx="531.60" cy="348.50" r="1.15" fill="#34b0c6" stroke="#36606a" stroke-width="0.5"/>
<circle cx="533.00" cy="356.20" r="1.15" fill="#34b0c6" stroke="#36606a" stroke-width="0.5"/>
<circle cx="534.20" cy="356.60" r="1.15" fill="#34b0c6" stroke="#36606a" stroke-width="0.5"/>
<circle cx="534.70" cy="356.90" r="1.15" fill="#34b0c6" stroke="#36606a" stroke-width="0.5"/>
<circle cx="532.30" cy="358.30" r="1.15" fill="#34b0c6" stroke="#36606a" stroke-width="0.5"/>
<circle cx="531.30" cy="360.50" r="1.15" fill="#34b0c6" stroke="#36606a" stroke-width="0.5"/>
<circle cx="531.80" cy="362.70" r="1.15" fill="#34b0c6" stroke="#36606a" stroke-width="0.5"/>
<circle cx="533.30" cy="365.60" r="1.15" fill="#34b0c6" stroke="#36606a" stroke-width="0.5"/>
<circle cx="532.30" cy="366.30" r="1.15" fill="#34b0c6" stroke="#36606a" stroke-width="0.5"/>
<circle cx="534.40" cy="366.30" r="1.15" fill="#34b0c6" stroke="#36606a" stroke-width="0.5"/>
<circle cx="536.60" cy="368.40" r="1.15" fill="#34b0c6" stroke="#36606a" stroke-width="0.5"/>
<circle cx="537.00" cy="372.80" r="1.15" fill="#34b0c6" stroke="#36606a" stroke-width="0.5"/>
<circle cx="536.20" cy="374.50" r="1.15" fill="#34b0c6" stroke="#36606a" stroke-width="0.5"/>
<circle cx="531.60" cy="375.00" r="1.15" fill="#34b0c6" stroke="#36606a" stroke-width="0.5"/>
<circle cx="533.30" cy="375.70" r="1.15" fill="#34b0c6" stroke="#36606a" stroke-width="0.5"/>
<circle cx="532.30" cy="378.30" r="1.15" fill="#34b0c6" stroke="#36606a" stroke-width="0.5"/>
<circle cx="530.40" cy="382.90" r="1.15" fill="#34b0c6" stroke="#36606a" stroke-width="0.5"/>
<circle cx="533.30" cy="384.60" r="1.15" fill="#34b0c6" stroke="#36606a" stroke-width="0.5"/>
<circle cx="534.40" cy="384.60" r="1.15" fill="#34b0c6" stroke="#36606a" stroke-width="0.5"/>
<circle cx="531.30" cy="388.70" r="1.15" fill="#34b0c6" stroke="#36606a" stroke-width="0.5"/>
<circle cx="535.60" cy="387.90" r="1.15" fill="#34b0c6" stroke="#36606a" stroke-width="0.5"/>
<circle cx="536.60" cy="390.40" r="1.15" fill="#34b0c6" stroke="#36606a" stroke-width="0.5"/>
<circle cx="530.40" cy="392.30" r="1.15" fill="#34b0c6" stroke="#36606a" stroke-width="0.5"/>
<circle cx="535.20" cy="393.00" r="1.15" fill="#34b0c6" stroke="#36606a" stroke-width="0.5"/>
<circle cx="531.60" cy="395.40" r="1.15" fill="#34b0c6" stroke="#36606a" stroke-width="0.5"/>
<circle cx="532.70" cy="400.90" r="1.15" fill="#34b0c6" stroke="#36606a" stroke-width="0.5"/>
<circle cx="537.00" cy="400.20" r="1.15" fill="#34b0c6" stroke="#36606a" stroke-width="0.5"/>
<circle cx="537.00" cy="410.00" r="1.15" fill="#34b0c6" stroke="#36606a" stroke-width="0.5"/>
<circle cx="533.00" cy="413.20" r="1.15" fill="#34b0c6" stroke="#36606a" stroke-width="0.5"/>
<circle cx="530.40" cy="420.10" r="1.15" fill="#34b0c6" stroke="#36606a" stroke-width="0.5"/>
<circle cx="530.50" cy="456.20" r="1.15" fill="#34b0c6" stroke="#36606a" stroke-width="0.5"/>
<circle cx="531.60" cy="461.10" r="1.15" fill="#34b0c6" stroke="#36606a" stroke-width="0.5"/>
<line x1="560.30" y1="308.50" x2="560.30" y2="368.60" stroke="#a0a0a0" stroke-width="0.85"/>
<line x1="560.30" y1="413.30" x2="560.30" y2="472.40" stroke="#a0a0a0" stroke-width="0.85"/>
<line x1="553.60" y1="308.50" x2="567.00" y2="308.50" stroke="#a0a0a0" stroke-width="0.85"/>
<line x1="553.60" y1="472.40" x2="567.00" y2="472.40" stroke="#a0a0a0" stroke-width="0.85"/>
<rect x="546.90" y="368.60" width="26.80" height="44.70" fill="#b875ca" stroke="#505050" stroke-opacity="0.35" stroke-width="0.8"/>
<line x1="546.90" y1="391.40" x2="573.70" y2="391.40" stroke="#9c63ab" stroke-width="0.9"/>
<circle cx="561.70" cy="308.50" r="1.15" fill="#bf55da" stroke="#6e3c7c" stroke-width="0.5"/>
<circle cx="557.70" cy="326.80" r="1.15" fill="#bf55da" stroke="#6e3c7c" stroke-width="0.5"/>
<circle cx="557.80" cy="331.90" r="1.15" fill="#bf55da" stroke="#6e3c7c" stroke-width="0.5"/>
<circle cx="559.40" cy="347.80" r="1.15" fill="#bf55da" stroke="#6e3c7c" stroke-width="0.5"/>
<circle cx="563.50" cy="350.50" r="1.15" fill="#bf55da" stroke="#6e3c7c" stroke-width="0.5"/>
<circle cx="560.60" cy="354.10" r="1.15" fill="#bf55da" stroke="#6e3c7c" stroke-width="0.5"/>
<circle cx="557.30" cy="363.20" r="1.15" fill="#bf55da" stroke="#6e3c7c" stroke-width="0.5"/>
<circle cx="560.90" cy="367.00" r="1.15" fill="#bf55da" stroke="#6e3c7c" stroke-width="0.5"/>
<circle cx="561.70" cy="369.20" r="1.15" fill="#bf55da" stroke="#6e3c7c" stroke-width="0.5"/>
<circle cx="560.60" cy="374.00" r="1.15" fill="#bf55da" stroke="#6e3c7c" stroke-width="0.5"/>
<circle cx="558.50" cy="381.80" r="1.15" fill="#bf55da" stroke="#6e3c7c" stroke-width="0.5"/>
<circle cx="560.90" cy="382.40" r="1.15" fill="#bf55da" stroke="#6e3c7c" stroke-width="0.5"/>
<circle cx="559.80" cy="383.70" r="1.15" fill="#bf55da" stroke="#6e3c7c" stroke-width="0.5"/>
<circle cx="561.90" cy="385.30" r="1.15" fill="#bf55da" stroke="#6e3c7c" stroke-width="0.5"/>
<circle cx="557.70" cy="389.40" r="1.15" fill="#bf55da" stroke="#6e3c7c" stroke-width="0.5"/>
<circle cx="561.50" cy="385.80" r="1.15" fill="#bf55da" stroke="#6e3c7c" stroke-width="0.5"/>
<circle cx="557.80" cy="390.10" r="1.15" fill="#bf55da" stroke="#6e3c7c" stroke-width="0.5"/>
<circle cx="559.40" cy="391.80" r="1.15" fill="#bf55da" stroke="#6e3c7c" stroke-width="0.5"/>
<circle cx="560.60" cy="394.40" r="1.15" fill="#bf55da" stroke="#6e3c7c" stroke-width="0.5"/>
<circle cx="557.80" cy="400.40" r="1.15" fill="#bf55da" stroke="#6e3c7c" stroke-width="0.5"/>
<circle cx="559.40" cy="401.30" r="1.15" fill="#bf55da" stroke="#6e3c7c" stroke-width="0.5"/>
<circle cx="560.00" cy="400.40" r="1.15" fill="#bf55da" stroke="#6e3c7c" stroke-width="0.5"/>
<circle cx="558.50" cy="407.70" r="1.15" fill="#bf55da" stroke="#6e3c7c" stroke-width="0.5"/>
<circle cx="561.50" cy="409.00" r="1.15" fill="#bf55da" stroke="#6e3c7c" stroke-width="0.5"/>
<circle cx="559.40" cy="412.00" r="1.15" fill="#bf55da" stroke="#6e3c7c" stroke-width="0.5"/>
<circle cx="557.80" cy="415.50" r="1.15" fill="#bf55da" stroke="#6e3c7c" stroke-width="0.5"/>
<circle cx="558.50" cy="414.40" r="1.15" fill="#bf55da" stroke="#6e3c7c" stroke-width="0.5"/>
<circle cx="559.40" cy="425.20" r="1.15" fill="#bf55da" stroke="#6e3c7c" stroke-width="0.5"/>
<circle cx="563.20" cy="436.80" r="1.15" fill="#bf55da" stroke="#6e3c7c" stroke-width="0.5"/>
<circle cx="561.10" cy="472.20" r="1.15" fill="#bf55da" stroke="#6e3c7c" stroke-width="0.5"/>
<circle cx="563.70" cy="490.20" r="1.15" fill="#bf55da" stroke="#6e3c7c" stroke-width="0.5"/>
<line x1="607.37" y1="348.10" x2="607.37" y2="360.00" stroke="#a0a0a0" stroke-width="0.85"/>
<line x1="607.37" y1="387.80" x2="607.37" y2="428.80" stroke="#a0a0a0" stroke-width="0.85"/>
<line x1="600.67" y1="348.10" x2="614.07" y2="348.10" stroke="#a0a0a0" stroke-width="0.85"/>
<line x1="600.67" y1="428.80" x2="614.07" y2="428.80" stroke="#a0a0a0" stroke-width="0.85"/>
<rect x="593.97" y="360.00" width="26.80" height="27.80" fill="#c8a64c" stroke="#505050" stroke-opacity="0.35" stroke-width="0.8"/>
<line x1="593.97" y1="371.50" x2="620.77" y2="371.50" stroke="#aa8d40" stroke-width="0.9"/>
<circle cx="604.10" cy="348.10" r="1.15" fill="#e0a820" stroke="#7a6020" stroke-width="0.5"/>
<circle cx="607.70" cy="351.20" r="1.15" fill="#e0a820" stroke="#7a6020" stroke-width="0.5"/>
<circle cx="609.00" cy="352.30" r="1.15" fill="#e0a820" stroke="#7a6020" stroke-width="0.5"/>
<circle cx="606.80" cy="353.50" r="1.15" fill="#e0a820" stroke="#7a6020" stroke-width="0.5"/>
<circle cx="607.20" cy="357.10" r="1.15" fill="#e0a820" stroke="#7a6020" stroke-width="0.5"/>
<circle cx="604.70" cy="358.10" r="1.15" fill="#e0a820" stroke="#7a6020" stroke-width="0.5"/>
<circle cx="608.60" cy="358.10" r="1.15" fill="#e0a820" stroke="#7a6020" stroke-width="0.5"/>
<circle cx="605.90" cy="359.50" r="1.15" fill="#e0a820" stroke="#7a6020" stroke-width="0.5"/>
<circle cx="607.20" cy="361.70" r="1.15" fill="#e0a820" stroke="#7a6020" stroke-width="0.5"/>
<circle cx="604.10" cy="363.50" r="1.15" fill="#e0a820" stroke="#7a6020" stroke-width="0.5"/>
<circle cx="607.70" cy="364.90" r="1.15" fill="#e0a820" stroke="#7a6020" stroke-width="0.5"/>
<circle cx="605.90" cy="367.10" r="1.15" fill="#e0a820" stroke="#7a6020" stroke-width="0.5"/>
<circle cx="609.50" cy="368.00" r="1.15" fill="#e0a820" stroke="#7a6020" stroke-width="0.5"/>
<circle cx="604.70" cy="370.30" r="1.15" fill="#e0a820" stroke="#7a6020" stroke-width="0.5"/>
<circle cx="606.80" cy="369.20" r="1.15" fill="#e0a820" stroke="#7a6020" stroke-width="0.5"/>
<circle cx="604.10" cy="372.10" r="1.15" fill="#e0a820" stroke="#7a6020" stroke-width="0.5"/>
<circle cx="609.00" cy="372.90" r="1.15" fill="#e0a820" stroke="#7a6020" stroke-width="0.5"/>
<circle cx="605.40" cy="374.30" r="1.15" fill="#e0a820" stroke="#7a6020" stroke-width="0.5"/>
<circle cx="606.80" cy="377.00" r="1.15" fill="#e0a820" stroke="#7a6020" stroke-width="0.5"/>
<circle cx="609.50" cy="377.90" r="1.15" fill="#e0a820" stroke="#7a6020" stroke-width="0.5"/>
<circle cx="609.00" cy="380.10" r="1.15" fill="#e0a820" stroke="#7a6020" stroke-width="0.5"/>
<circle cx="609.50" cy="383.30" r="1.15" fill="#e0a820" stroke="#7a6020" stroke-width="0.5"/>
<circle cx="609.00" cy="386.60" r="1.15" fill="#e0a820" stroke="#7a6020" stroke-width="0.5"/>
<circle cx="608.30" cy="390.50" r="1.15" fill="#e0a820" stroke="#7a6020" stroke-width="0.5"/>
<circle cx="605.90" cy="395.10" r="1.15" fill="#e0a820" stroke="#7a6020" stroke-width="0.5"/>
<circle cx="608.60" cy="396.30" r="1.15" fill="#e0a820" stroke="#7a6020" stroke-width="0.5"/>
<circle cx="609.90" cy="396.90" r="1.15" fill="#e0a820" stroke="#7a6020" stroke-width="0.5"/>
<circle cx="607.20" cy="399.60" r="1.15" fill="#e0a820" stroke="#7a6020" stroke-width="0.5"/>
<circle cx="606.50" cy="405.30" r="1.15" fill="#e0a820" stroke="#7a6020" stroke-width="0.5"/>
<circle cx="605.90" cy="408.60" r="1.15" fill="#e0a820" stroke="#7a6020" stroke-width="0.5"/>
<circle cx="607.70" cy="428.80" r="1.15" fill="#e0a820" stroke="#7a6020" stroke-width="0.5"/>
<circle cx="605.40" cy="437.10" r="1.15" fill="#e0a820" stroke="#7a6020" stroke-width="0.5"/>
<line x1="634.17" y1="325.50" x2="634.17" y2="360.60" stroke="#a0a0a0" stroke-width="0.85"/>
<line x1="634.17" y1="387.20" x2="634.17" y2="425.10" stroke="#a0a0a0" stroke-width="0.85"/>
<line x1="627.47" y1="325.50" x2="640.87" y2="325.50" stroke="#a0a0a0" stroke-width="0.85"/>
<line x1="627.47" y1="425.10" x2="640.87" y2="425.10" stroke="#a0a0a0" stroke-width="0.85"/>
<rect x="620.77" y="360.60" width="26.80" height="26.60" fill="#5da8b2" stroke="#505050" stroke-opacity="0.35" stroke-width="0.8"/>
<line x1="620.77" y1="369.30" x2="647.57" y2="369.30" stroke="#4f8e97" stroke-width="0.9"/>
<circle cx="635.09" cy="380.24" r="1.15" fill="#34b0c6" stroke="#36606a" stroke-width="0.5"/>
<circle cx="636.36" cy="378.14" r="1.15" fill="#34b0c6" stroke="#36606a" stroke-width="0.5"/>
<circle cx="634.10" cy="375.11" r="1.15" fill="#34b0c6" stroke="#36606a" stroke-width="0.5"/>
<circle cx="636.28" cy="377.33" r="1.15" fill="#34b0c6" stroke="#36606a" stroke-width="0.5"/>
<circle cx="634.75" cy="376.05" r="1.15" fill="#34b0c6" stroke="#36606a" stroke-width="0.5"/>
<circle cx="631.91" cy="386.14" r="1.15" fill="#34b0c6" stroke="#36606a" stroke-width="0.5"/>
<circle cx="631.32" cy="383.24" r="1.15" fill="#34b0c6" stroke="#36606a" stroke-width="0.5"/>
<circle cx="634.93" cy="383.52" r="1.15" fill="#34b0c6" stroke="#36606a" stroke-width="0.5"/>
<circle cx="634.33" cy="377.26" r="1.15" fill="#34b0c6" stroke="#36606a" stroke-width="0.5"/>
<circle cx="633.05" cy="380.78" r="1.15" fill="#34b0c6" stroke="#36606a" stroke-width="0.5"/>
<circle cx="631.24" cy="377.07" r="1.15" fill="#34b0c6" stroke="#36606a" stroke-width="0.5"/>
<circle cx="636.45" cy="372.77" r="1.15" fill="#34b0c6" stroke="#36606a" stroke-width="0.5"/>
<circle cx="634.20" cy="385.15" r="1.15" fill="#34b0c6" stroke="#36606a" stroke-width="0.5"/>
<circle cx="634.43" cy="372.42" r="1.15" fill="#34b0c6" stroke="#36606a" stroke-width="0.5"/>
<circle cx="633.02" cy="376.58" r="1.15" fill="#34b0c6" stroke="#36606a" stroke-width="0.5"/>
<circle cx="634.08" cy="372.81" r="1.15" fill="#34b0c6" stroke="#36606a" stroke-width="0.5"/>
<circle cx="633.95" cy="382.11" r="1.15" fill="#34b0c6" stroke="#36606a" stroke-width="0.5"/>
<circle cx="635.10" cy="379.82" r="1.15" fill="#34b0c6" stroke="#36606a" stroke-width="0.5"/>
<circle cx="631.55" cy="374.84" r="1.15" fill="#34b0c6" stroke="#36606a" stroke-width="0.5"/>
<circle cx="632.19" cy="372.74" r="1.15" fill="#34b0c6" stroke="#36606a" stroke-width="0.5"/>
<circle cx="632.21" cy="386.95" r="1.15" fill="#34b0c6" stroke="#36606a" stroke-width="0.5"/>
<circle cx="632.89" cy="384.56" r="1.15" fill="#34b0c6" stroke="#36606a" stroke-width="0.5"/>
<circle cx="634.72" cy="381.22" r="1.15" fill="#34b0c6" stroke="#36606a" stroke-width="0.5"/>
<circle cx="633.95" cy="381.80" r="1.15" fill="#34b0c6" stroke="#36606a" stroke-width="0.5"/>
<circle cx="634.43" cy="375.20" r="1.15" fill="#34b0c6" stroke="#36606a" stroke-width="0.5"/>
<circle cx="631.72" cy="376.92" r="1.15" fill="#34b0c6" stroke="#36606a" stroke-width="0.5"/>
<circle cx="632.68" cy="377.45" r="1.15" fill="#34b0c6" stroke="#36606a" stroke-width="0.5"/>
<circle cx="632.10" cy="381.63" r="1.15" fill="#34b0c6" stroke="#36606a" stroke-width="0.5"/>
<circle cx="636.46" cy="387.00" r="1.15" fill="#34b0c6" stroke="#36606a" stroke-width="0.5"/>
<circle cx="636.75" cy="369.72" r="1.15" fill="#34b0c6" stroke="#36606a" stroke-width="0.5"/>
<circle cx="634.46" cy="383.23" r="1.15" fill="#34b0c6" stroke="#36606a" stroke-width="0.5"/>
<circle cx="632.57" cy="376.64" r="1.15" fill="#34b0c6" stroke="#36606a" stroke-width="0.5"/>
<circle cx="631.22" cy="385.41" r="1.15" fill="#34b0c6" stroke="#36606a" stroke-width="0.5"/>
<circle cx="634.26" cy="372.71" r="1.15" fill="#34b0c6" stroke="#36606a" stroke-width="0.5"/>
<circle cx="632.16" cy="370.61" r="1.15" fill="#34b0c6" stroke="#36606a" stroke-width="0.5"/>
<circle cx="632.45" cy="380.55" r="1.15" fill="#34b0c6" stroke="#36606a" stroke-width="0.5"/>
<circle cx="631.66" cy="372.95" r="1.15" fill="#34b0c6" stroke="#36606a" stroke-width="0.5"/>
<circle cx="633.35" cy="377.30" r="1.15" fill="#34b0c6" stroke="#36606a" stroke-width="0.5"/>
<circle cx="637.07" cy="371.58" r="1.15" fill="#34b0c6" stroke="#36606a" stroke-width="0.5"/>
<circle cx="636.37" cy="374.70" r="1.15" fill="#34b0c6" stroke="#36606a" stroke-width="0.5"/>
<circle cx="635.37" cy="373.72" r="1.15" fill="#34b0c6" stroke="#36606a" stroke-width="0.5"/>
<circle cx="634.38" cy="384.51" r="1.15" fill="#34b0c6" stroke="#36606a" stroke-width="0.5"/>
<circle cx="633.80" cy="373.20" r="1.15" fill="#34b0c6" stroke="#36606a" stroke-width="0.5"/>
<circle cx="636.16" cy="381.51" r="1.15" fill="#34b0c6" stroke="#36606a" stroke-width="0.5"/>
<circle cx="632.99" cy="372.63" r="1.15" fill="#34b0c6" stroke="#36606a" stroke-width="0.5"/>
<circle cx="637.02" cy="366.29" r="1.15" fill="#34b0c6" stroke="#36606a" stroke-width="0.5"/>
<circle cx="635.21" cy="361.81" r="1.15" fill="#34b0c6" stroke="#36606a" stroke-width="0.5"/>
<circle cx="632.49" cy="364.81" r="1.15" fill="#34b0c6" stroke="#36606a" stroke-width="0.5"/>
<circle cx="632.67" cy="367.68" r="1.15" fill="#34b0c6" stroke="#36606a" stroke-width="0.5"/>
<circle cx="635.41" cy="361.87" r="1.15" fill="#34b0c6" stroke="#36606a" stroke-width="0.5"/>
<circle cx="634.97" cy="363.78" r="1.15" fill="#34b0c6" stroke="#36606a" stroke-width="0.5"/>
<circle cx="636.37" cy="365.84" r="1.15" fill="#34b0c6" stroke="#36606a" stroke-width="0.5"/>
<circle cx="631.26" cy="360.98" r="1.15" fill="#34b0c6" stroke="#36606a" stroke-width="0.5"/>
<circle cx="635.17" cy="364.84" r="1.15" fill="#34b0c6" stroke="#36606a" stroke-width="0.5"/>
<circle cx="636.97" cy="362.93" r="1.15" fill="#34b0c6" stroke="#36606a" stroke-width="0.5"/>
<circle cx="636.47" cy="362.65" r="1.15" fill="#34b0c6" stroke="#36606a" stroke-width="0.5"/>
<circle cx="636.54" cy="364.98" r="1.15" fill="#34b0c6" stroke="#36606a" stroke-width="0.5"/>
<circle cx="636.02" cy="367.26" r="1.15" fill="#34b0c6" stroke="#36606a" stroke-width="0.5"/>
<circle cx="636.47" cy="363.02" r="1.15" fill="#34b0c6" stroke="#36606a" stroke-width="0.5"/>
<circle cx="631.49" cy="366.12" r="1.15" fill="#34b0c6" stroke="#36606a" stroke-width="0.5"/>
<circle cx="631.81" cy="368.32" r="1.15" fill="#34b0c6" stroke="#36606a" stroke-width="0.5"/>
<circle cx="634.05" cy="364.93" r="1.15" fill="#34b0c6" stroke="#36606a" stroke-width="0.5"/>
<circle cx="636.92" cy="365.71" r="1.15" fill="#34b0c6" stroke="#36606a" stroke-width="0.5"/>
<circle cx="632.69" cy="368.13" r="1.15" fill="#34b0c6" stroke="#36606a" stroke-width="0.5"/>
<circle cx="635.54" cy="367.79" r="1.15" fill="#34b0c6" stroke="#36606a" stroke-width="0.5"/>
<circle cx="635.76" cy="367.29" r="1.15" fill="#34b0c6" stroke="#36606a" stroke-width="0.5"/>
<circle cx="632.22" cy="368.58" r="1.15" fill="#34b0c6" stroke="#36606a" stroke-width="0.5"/>
<circle cx="634.01" cy="363.45" r="1.15" fill="#34b0c6" stroke="#36606a" stroke-width="0.5"/>
<circle cx="634.01" cy="367.52" r="1.15" fill="#34b0c6" stroke="#36606a" stroke-width="0.5"/>
<circle cx="636.69" cy="361.51" r="1.15" fill="#34b0c6" stroke="#36606a" stroke-width="0.5"/>
<circle cx="636.52" cy="365.32" r="1.15" fill="#34b0c6" stroke="#36606a" stroke-width="0.5"/>
<circle cx="636.71" cy="364.40" r="1.15" fill="#34b0c6" stroke="#36606a" stroke-width="0.5"/>
<circle cx="631.57" cy="367.94" r="1.15" fill="#34b0c6" stroke="#36606a" stroke-width="0.5"/>
<circle cx="634.15" cy="363.75" r="1.15" fill="#34b0c6" stroke="#36606a" stroke-width="0.5"/>
<circle cx="634.61" cy="363.78" r="1.15" fill="#34b0c6" stroke="#36606a" stroke-width="0.5"/>
<circle cx="635.40" cy="361.58" r="1.15" fill="#34b0c6" stroke="#36606a" stroke-width="0.5"/>
<circle cx="632.69" cy="363.11" r="1.15" fill="#34b0c6" stroke="#36606a" stroke-width="0.5"/>
<circle cx="634.39" cy="368.03" r="1.15" fill="#34b0c6" stroke="#36606a" stroke-width="0.5"/>
<circle cx="632.78" cy="365.90" r="1.15" fill="#34b0c6" stroke="#36606a" stroke-width="0.5"/>
<circle cx="635.95" cy="368.45" r="1.15" fill="#34b0c6" stroke="#36606a" stroke-width="0.5"/>
<circle cx="635.97" cy="368.15" r="1.15" fill="#34b0c6" stroke="#36606a" stroke-width="0.5"/>
<circle cx="635.44" cy="362.70" r="1.15" fill="#34b0c6" stroke="#36606a" stroke-width="0.5"/>
<circle cx="635.99" cy="369.16" r="1.15" fill="#34b0c6" stroke="#36606a" stroke-width="0.5"/>
<circle cx="634.83" cy="368.37" r="1.15" fill="#34b0c6" stroke="#36606a" stroke-width="0.5"/>
<circle cx="637.15" cy="364.45" r="1.15" fill="#34b0c6" stroke="#36606a" stroke-width="0.5"/>
<circle cx="632.03" cy="364.62" r="1.15" fill="#34b0c6" stroke="#36606a" stroke-width="0.5"/>
<circle cx="637.09" cy="362.96" r="1.15" fill="#34b0c6" stroke="#36606a" stroke-width="0.5"/>
<circle cx="636.79" cy="361.40" r="1.15" fill="#34b0c6" stroke="#36606a" stroke-width="0.5"/>
<circle cx="633.63" cy="364.55" r="1.15" fill="#34b0c6" stroke="#36606a" stroke-width="0.5"/>
<circle cx="636.66" cy="362.66" r="1.15" fill="#34b0c6" stroke="#36606a" stroke-width="0.5"/>
<circle cx="635.99" cy="353.30" r="1.15" fill="#34b0c6" stroke="#36606a" stroke-width="0.5"/>
<circle cx="634.35" cy="351.32" r="1.15" fill="#34b0c6" stroke="#36606a" stroke-width="0.5"/>
<circle cx="636.71" cy="352.77" r="1.15" fill="#34b0c6" stroke="#36606a" stroke-width="0.5"/>
<circle cx="631.95" cy="349.16" r="1.15" fill="#34b0c6" stroke="#36606a" stroke-width="0.5"/>
<circle cx="634.35" cy="356.77" r="1.15" fill="#34b0c6" stroke="#36606a" stroke-width="0.5"/>
<circle cx="633.24" cy="357.31" r="1.15" fill="#34b0c6" stroke="#36606a" stroke-width="0.5"/>
<circle cx="631.19" cy="356.76" r="1.15" fill="#34b0c6" stroke="#36606a" stroke-width="0.5"/>
<circle cx="634.37" cy="354.21" r="1.15" fill="#34b0c6" stroke="#36606a" stroke-width="0.5"/>
<circle cx="634.42" cy="354.23" r="1.15" fill="#34b0c6" stroke="#36606a" stroke-width="0.5"/>
<circle cx="633.26" cy="355.75" r="1.15" fill="#34b0c6" stroke="#36606a" stroke-width="0.5"/>
<circle cx="634.10" cy="351.59" r="1.15" fill="#34b0c6" stroke="#36606a" stroke-width="0.5"/>
<circle cx="635.28" cy="359.35" r="1.15" fill="#34b0c6" stroke="#36606a" stroke-width="0.5"/>
<circle cx="635.09" cy="356.34" r="1.15" fill="#34b0c6" stroke="#36606a" stroke-width="0.5"/>
<circle cx="635.94" cy="359.03" r="1.15" fill="#34b0c6" stroke="#36606a" stroke-width="0.5"/>
<circle cx="632.63" cy="352.47" r="1.15" fill="#34b0c6" stroke="#36606a" stroke-width="0.5"/>
<circle cx="636.26" cy="350.61" r="1.15" fill="#34b0c6" stroke="#36606a" stroke-width="0.5"/>
<circle cx="631.59" cy="360.48" r="1.15" fill="#34b0c6" stroke="#36606a" stroke-width="0.5"/>
<circle cx="631.53" cy="355.50" r="1.15" fill="#34b0c6" stroke="#36606a" stroke-width="0.5"/>
<circle cx="634.90" cy="354.77" r="1.15" fill="#34b0c6" stroke="#36606a" stroke-width="0.5"/>
<circle cx="631.76" cy="354.70" r="1.15" fill="#34b0c6" stroke="#36606a" stroke-width="0.5"/>
<circle cx="636.78" cy="353.85" r="1.15" fill="#34b0c6" stroke="#36606a" stroke-width="0.5"/>
<circle cx="635.03" cy="350.88" r="1.15" fill="#34b0c6" stroke="#36606a" stroke-width="0.5"/>
<circle cx="634.68" cy="355.22" r="1.15" fill="#34b0c6" stroke="#36606a" stroke-width="0.5"/>
<circle cx="633.82" cy="359.25" r="1.15" fill="#34b0c6" stroke="#36606a" stroke-width="0.5"/>
<circle cx="632.60" cy="355.87" r="1.15" fill="#34b0c6" stroke="#36606a" stroke-width="0.5"/>
<circle cx="636.56" cy="360.53" r="1.15" fill="#34b0c6" stroke="#36606a" stroke-width="0.5"/>
<circle cx="636.50" cy="357.73" r="1.15" fill="#34b0c6" stroke="#36606a" stroke-width="0.5"/>
<circle cx="634.99" cy="348.96" r="1.15" fill="#34b0c6" stroke="#36606a" stroke-width="0.5"/>
<circle cx="635.72" cy="356.04" r="1.15" fill="#34b0c6" stroke="#36606a" stroke-width="0.5"/>
<circle cx="632.33" cy="353.07" r="1.15" fill="#34b0c6" stroke="#36606a" stroke-width="0.5"/>
<circle cx="635.57" cy="348.52" r="1.15" fill="#34b0c6" stroke="#36606a" stroke-width="0.5"/>
<circle cx="632.61" cy="358.25" r="1.15" fill="#34b0c6" stroke="#36606a" stroke-width="0.5"/>
<circle cx="635.44" cy="356.14" r="1.15" fill="#34b0c6" stroke="#36606a" stroke-width="0.5"/>
<circle cx="635.29" cy="356.49" r="1.15" fill="#34b0c6" stroke="#36606a" stroke-width="0.5"/>
<circle cx="632.58" cy="354.52" r="1.15" fill="#34b0c6" stroke="#36606a" stroke-width="0.5"/>
<circle cx="633.01" cy="348.96" r="1.15" fill="#34b0c6" stroke="#36606a" stroke-width="0.5"/>
<circle cx="632.76" cy="352.27" r="1.15" fill="#34b0c6" stroke="#36606a" stroke-width="0.5"/>
<circle cx="631.26" cy="353.12" r="1.15" fill="#34b0c6" stroke="#36606a" stroke-width="0.5"/>
<circle cx="637.04" cy="355.03" r="1.15" fill="#34b0c6" stroke="#36606a" stroke-width="0.5"/>
<circle cx="635.37" cy="355.28" r="1.15" fill="#34b0c6" stroke="#36606a" stroke-width="0.5"/>
<circle cx="631.50" cy="310.80" r="1.15" fill="#34b0c6" stroke="#36606a" stroke-width="0.5"/>
<circle cx="631.50" cy="320.10" r="1.15" fill="#34b0c6" stroke="#36606a" stroke-width="0.5"/>
<circle cx="632.50" cy="325.50" r="1.15" fill="#34b0c6" stroke="#36606a" stroke-width="0.5"/>
<circle cx="631.70" cy="390.30" r="1.15" fill="#34b0c6" stroke="#36606a" stroke-width="0.5"/>
<circle cx="633.40" cy="390.80" r="1.15" fill="#34b0c6" stroke="#36606a" stroke-width="0.5"/>
<circle cx="631.20" cy="392.80" r="1.15" fill="#34b0c6" stroke="#36606a" stroke-width="0.5"/>
<circle cx="637.10" cy="392.10" r="1.15" fill="#34b0c6" stroke="#36606a" stroke-width="0.5"/>
<circle cx="632.60" cy="394.10" r="1.15" fill="#34b0c6" stroke="#36606a" stroke-width="0.5"/>
<circle cx="634.80" cy="394.60" r="1.15" fill="#34b0c6" stroke="#36606a" stroke-width="0.5"/>
<circle cx="637.70" cy="395.10" r="1.15" fill="#34b0c6" stroke="#36606a" stroke-width="0.5"/>
<circle cx="632.30" cy="396.20" r="1.15" fill="#34b0c6" stroke="#36606a" stroke-width="0.5"/>
<circle cx="635.50" cy="396.80" r="1.15" fill="#34b0c6" stroke="#36606a" stroke-width="0.5"/>
<circle cx="633.90" cy="398.40" r="1.15" fill="#34b0c6" stroke="#36606a" stroke-width="0.5"/>
<circle cx="637.10" cy="398.90" r="1.15" fill="#34b0c6" stroke="#36606a" stroke-width="0.5"/>
<circle cx="632.80" cy="400.50" r="1.15" fill="#34b0c6" stroke="#36606a" stroke-width="0.5"/>
<circle cx="636.10" cy="401.10" r="1.15" fill="#34b0c6" stroke="#36606a" stroke-width="0.5"/>
<circle cx="634.40" cy="402.70" r="1.15" fill="#34b0c6" stroke="#36606a" stroke-width="0.5"/>
<circle cx="637.10" cy="403.20" r="1.15" fill="#34b0c6" stroke="#36606a" stroke-width="0.5"/>
<circle cx="633.40" cy="405.10" r="1.15" fill="#34b0c6" stroke="#36606a" stroke-width="0.5"/>
<circle cx="635.50" cy="405.70" r="1.15" fill="#34b0c6" stroke="#36606a" stroke-width="0.5"/>
<circle cx="637.70" cy="407.00" r="1.15" fill="#34b0c6" stroke="#36606a" stroke-width="0.5"/>
<circle cx="632.80" cy="407.90" r="1.15" fill="#34b0c6" stroke="#36606a" stroke-width="0.5"/>
<circle cx="633.90" cy="409.40" r="1.15" fill="#34b0c6" stroke="#36606a" stroke-width="0.5"/>
<circle cx="636.60" cy="409.00" r="1.15" fill="#34b0c6" stroke="#36606a" stroke-width="0.5"/>
<circle cx="635.00" cy="412.20" r="1.15" fill="#34b0c6" stroke="#36606a" stroke-width="0.5"/>
<circle cx="634.40" cy="418.40" r="1.15" fill="#34b0c6" stroke="#36606a" stroke-width="0.5"/>
<circle cx="637.10" cy="418.90" r="1.15" fill="#34b0c6" stroke="#36606a" stroke-width="0.5"/>
<circle cx="631.70" cy="423.00" r="1.15" fill="#34b0c6" stroke="#36606a" stroke-width="0.5"/>
<circle cx="632.30" cy="424.30" r="1.15" fill="#34b0c6" stroke="#36606a" stroke-width="0.5"/>
<circle cx="635.00" cy="424.50" r="1.15" fill="#34b0c6" stroke="#36606a" stroke-width="0.5"/>
<circle cx="636.60" cy="424.30" r="1.15" fill="#34b0c6" stroke="#36606a" stroke-width="0.5"/>
<circle cx="635.80" cy="430.80" r="1.15" fill="#34b0c6" stroke="#36606a" stroke-width="0.5"/>
<circle cx="633.90" cy="432.40" r="1.15" fill="#34b0c6" stroke="#36606a" stroke-width="0.5"/>
<circle cx="635.50" cy="433.00" r="1.15" fill="#34b0c6" stroke="#36606a" stroke-width="0.5"/>
<circle cx="637.10" cy="435.70" r="1.15" fill="#34b0c6" stroke="#36606a" stroke-width="0.5"/>
<circle cx="631.20" cy="437.80" r="1.15" fill="#34b0c6" stroke="#36606a" stroke-width="0.5"/>
<circle cx="635.00" cy="461.10" r="1.15" fill="#34b0c6" stroke="#36606a" stroke-width="0.5"/>
<circle cx="634.80" cy="477.60" r="1.15" fill="#34b0c6" stroke="#36606a" stroke-width="0.5"/>
<circle cx="637.10" cy="488.00" r="1.15" fill="#34b0c6" stroke="#36606a" stroke-width="0.5"/>
<circle cx="635.70" cy="501.60" r="1.15" fill="#34b0c6" stroke="#36606a" stroke-width="0.5"/>
<line x1="660.97" y1="318.40" x2="660.97" y2="363.20" stroke="#a0a0a0" stroke-width="0.85"/>
<line x1="660.97" y1="397.00" x2="660.97" y2="433.60" stroke="#a0a0a0" stroke-width="0.85"/>
<line x1="654.27" y1="318.40" x2="667.67" y2="318.40" stroke="#a0a0a0" stroke-width="0.85"/>
<line x1="654.27" y1="433.60" x2="667.67" y2="433.60" stroke="#a0a0a0" stroke-width="0.85"/>
<rect x="647.57" y="363.20" width="26.80" height="33.80" fill="#b875ca" stroke="#505050" stroke-opacity="0.35" stroke-width="0.8"/>
<line x1="647.57" y1="370.80" x2="674.37" y2="370.80" stroke="#9c63ab" stroke-width="0.9"/>
<circle cx="660.28" cy="370.96" r="1.15" fill="#bf55da" stroke="#6e3c7c" stroke-width="0.5"/>
<circle cx="663.80" cy="386.61" r="1.15" fill="#bf55da" stroke="#6e3c7c" stroke-width="0.5"/>
<circle cx="661.69" cy="378.72" r="1.15" fill="#bf55da" stroke="#6e3c7c" stroke-width="0.5"/>
<circle cx="658.18" cy="394.82" r="1.15" fill="#bf55da" stroke="#6e3c7c" stroke-width="0.5"/>
<circle cx="662.75" cy="374.75" r="1.15" fill="#bf55da" stroke="#6e3c7c" stroke-width="0.5"/>
<circle cx="660.83" cy="384.67" r="1.15" fill="#bf55da" stroke="#6e3c7c" stroke-width="0.5"/>
<circle cx="661.69" cy="388.68" r="1.15" fill="#bf55da" stroke="#6e3c7c" stroke-width="0.5"/>
<circle cx="662.51" cy="391.78" r="1.15" fill="#bf55da" stroke="#6e3c7c" stroke-width="0.5"/>
<circle cx="659.11" cy="382.05" r="1.15" fill="#bf55da" stroke="#6e3c7c" stroke-width="0.5"/>
<circle cx="660.22" cy="377.95" r="1.15" fill="#bf55da" stroke="#6e3c7c" stroke-width="0.5"/>
<circle cx="658.12" cy="389.56" r="1.15" fill="#bf55da" stroke="#6e3c7c" stroke-width="0.5"/>
<circle cx="661.88" cy="381.72" r="1.15" fill="#bf55da" stroke="#6e3c7c" stroke-width="0.5"/>
<circle cx="662.68" cy="380.97" r="1.15" fill="#bf55da" stroke="#6e3c7c" stroke-width="0.5"/>
<circle cx="658.37" cy="389.21" r="1.15" fill="#bf55da" stroke="#6e3c7c" stroke-width="0.5"/>
<circle cx="660.99" cy="385.03" r="1.15" fill="#bf55da" stroke="#6e3c7c" stroke-width="0.5"/>
<circle cx="658.44" cy="383.29" r="1.15" fill="#bf55da" stroke="#6e3c7c" stroke-width="0.5"/>
<circle cx="663.21" cy="393.46" r="1.15" fill="#bf55da" stroke="#6e3c7c" stroke-width="0.5"/>
<circle cx="660.91" cy="375.21" r="1.15" fill="#bf55da" stroke="#6e3c7c" stroke-width="0.5"/>
<circle cx="661.78" cy="394.73" r="1.15" fill="#bf55da" stroke="#6e3c7c" stroke-width="0.5"/>
<circle cx="663.16" cy="388.63" r="1.15" fill="#bf55da" stroke="#6e3c7c" stroke-width="0.5"/>
<circle cx="663.40" cy="379.06" r="1.15" fill="#bf55da" stroke="#6e3c7c" stroke-width="0.5"/>
<circle cx="659.23" cy="393.44" r="1.15" fill="#bf55da" stroke="#6e3c7c" stroke-width="0.5"/>
<circle cx="661.70" cy="373.24" r="1.15" fill="#bf55da" stroke="#6e3c7c" stroke-width="0.5"/>
<circle cx="658.65" cy="385.87" r="1.15" fill="#bf55da" stroke="#6e3c7c" stroke-width="0.5"/>
<circle cx="660.27" cy="391.82" r="1.15" fill="#bf55da" stroke="#6e3c7c" stroke-width="0.5"/>
<circle cx="663.95" cy="372.06" r="1.15" fill="#bf55da" stroke="#6e3c7c" stroke-width="0.5"/>
<circle cx="660.32" cy="378.27" r="1.15" fill="#bf55da" stroke="#6e3c7c" stroke-width="0.5"/>
<circle cx="660.28" cy="394.24" r="1.15" fill="#bf55da" stroke="#6e3c7c" stroke-width="0.5"/>
<circle cx="661.52" cy="365.30" r="1.15" fill="#bf55da" stroke="#6e3c7c" stroke-width="0.5"/>
<circle cx="660.59" cy="364.26" r="1.15" fill="#bf55da" stroke="#6e3c7c" stroke-width="0.5"/>
<circle cx="660.70" cy="368.40" r="1.15" fill="#bf55da" stroke="#6e3c7c" stroke-width="0.5"/>
<circle cx="659.17" cy="369.02" r="1.15" fill="#bf55da" stroke="#6e3c7c" stroke-width="0.5"/>
<circle cx="661.76" cy="368.00" r="1.15" fill="#bf55da" stroke="#6e3c7c" stroke-width="0.5"/>
<circle cx="662.61" cy="369.27" r="1.15" fill="#bf55da" stroke="#6e3c7c" stroke-width="0.5"/>
<circle cx="661.75" cy="367.90" r="1.15" fill="#bf55da" stroke="#6e3c7c" stroke-width="0.5"/>
<circle cx="663.05" cy="365.67" r="1.15" fill="#bf55da" stroke="#6e3c7c" stroke-width="0.5"/>
<circle cx="660.99" cy="363.83" r="1.15" fill="#bf55da" stroke="#6e3c7c" stroke-width="0.5"/>
<circle cx="658.78" cy="365.89" r="1.15" fill="#bf55da" stroke="#6e3c7c" stroke-width="0.5"/>
<circle cx="662.83" cy="364.74" r="1.15" fill="#bf55da" stroke="#6e3c7c" stroke-width="0.5"/>
<circle cx="662.77" cy="370.24" r="1.15" fill="#bf55da" stroke="#6e3c7c" stroke-width="0.5"/>
<circle cx="661.40" cy="364.18" r="1.15" fill="#bf55da" stroke="#6e3c7c" stroke-width="0.5"/>
<circle cx="661.86" cy="363.35" r="1.15" fill="#bf55da" stroke="#6e3c7c" stroke-width="0.5"/>
<circle cx="663.85" cy="364.75" r="1.15" fill="#bf55da" stroke="#6e3c7c" stroke-width="0.5"/>
<circle cx="658.60" cy="367.37" r="1.15" fill="#bf55da" stroke="#6e3c7c" stroke-width="0.5"/>
<circle cx="661.50" cy="365.92" r="1.15" fill="#bf55da" stroke="#6e3c7c" stroke-width="0.5"/>
<circle cx="663.74" cy="367.79" r="1.15" fill="#bf55da" stroke="#6e3c7c" stroke-width="0.5"/>
<circle cx="662.51" cy="370.51" r="1.15" fill="#bf55da" stroke="#6e3c7c" stroke-width="0.5"/>
<circle cx="658.47" cy="367.84" r="1.15" fill="#bf55da" stroke="#6e3c7c" stroke-width="0.5"/>
<circle cx="662.74" cy="365.61" r="1.15" fill="#bf55da" stroke="#6e3c7c" stroke-width="0.5"/>
<circle cx="659.32" cy="363.67" r="1.15" fill="#bf55da" stroke="#6e3c7c" stroke-width="0.5"/>
<circle cx="659.05" cy="370.35" r="1.15" fill="#bf55da" stroke="#6e3c7c" stroke-width="0.5"/>
<circle cx="663.33" cy="365.33" r="1.15" fill="#bf55da" stroke="#6e3c7c" stroke-width="0.5"/>
<circle cx="660.78" cy="366.78" r="1.15" fill="#bf55da" stroke="#6e3c7c" stroke-width="0.5"/>
<circle cx="659.57" cy="356.45" r="1.15" fill="#bf55da" stroke="#6e3c7c" stroke-width="0.5"/>
<circle cx="659.95" cy="358.71" r="1.15" fill="#bf55da" stroke="#6e3c7c" stroke-width="0.5"/>
<circle cx="663.16" cy="350.06" r="1.15" fill="#bf55da" stroke="#6e3c7c" stroke-width="0.5"/>
<circle cx="660.64" cy="353.42" r="1.15" fill="#bf55da" stroke="#6e3c7c" stroke-width="0.5"/>
<circle cx="658.94" cy="360.05" r="1.15" fill="#bf55da" stroke="#6e3c7c" stroke-width="0.5"/>
<circle cx="663.55" cy="355.19" r="1.15" fill="#bf55da" stroke="#6e3c7c" stroke-width="0.5"/>
<circle cx="662.47" cy="355.28" r="1.15" fill="#bf55da" stroke="#6e3c7c" stroke-width="0.5"/>
<circle cx="660.74" cy="350.54" r="1.15" fill="#bf55da" stroke="#6e3c7c" stroke-width="0.5"/>
<circle cx="663.02" cy="362.35" r="1.15" fill="#bf55da" stroke="#6e3c7c" stroke-width="0.5"/>
<circle cx="663.41" cy="351.22" r="1.15" fill="#bf55da" stroke="#6e3c7c" stroke-width="0.5"/>
<circle cx="663.43" cy="354.97" r="1.15" fill="#bf55da" stroke="#6e3c7c" stroke-width="0.5"/>
<circle cx="661.57" cy="352.96" r="1.15" fill="#bf55da" stroke="#6e3c7c" stroke-width="0.5"/>
<circle cx="661.50" cy="358.86" r="1.15" fill="#bf55da" stroke="#6e3c7c" stroke-width="0.5"/>
<circle cx="661.21" cy="359.71" r="1.15" fill="#bf55da" stroke="#6e3c7c" stroke-width="0.5"/>
<circle cx="662.78" cy="351.28" r="1.15" fill="#bf55da" stroke="#6e3c7c" stroke-width="0.5"/>
<circle cx="660.55" cy="356.86" r="1.15" fill="#bf55da" stroke="#6e3c7c" stroke-width="0.5"/>
<circle cx="662.41" cy="352.74" r="1.15" fill="#bf55da" stroke="#6e3c7c" stroke-width="0.5"/>
<circle cx="662.10" cy="357.94" r="1.15" fill="#bf55da" stroke="#6e3c7c" stroke-width="0.5"/>
<circle cx="658.54" cy="362.54" r="1.15" fill="#bf55da" stroke="#6e3c7c" stroke-width="0.5"/>
<circle cx="661.61" cy="362.73" r="1.15" fill="#bf55da" stroke="#6e3c7c" stroke-width="0.5"/>
<circle cx="663.04" cy="359.53" r="1.15" fill="#bf55da" stroke="#6e3c7c" stroke-width="0.5"/>
<circle cx="660.97" cy="351.40" r="1.15" fill="#bf55da" stroke="#6e3c7c" stroke-width="0.5"/>
<circle cx="659.09" cy="358.02" r="1.15" fill="#bf55da" stroke="#6e3c7c" stroke-width="0.5"/>
<circle cx="662.47" cy="356.97" r="1.15" fill="#bf55da" stroke="#6e3c7c" stroke-width="0.5"/>
<circle cx="658.38" cy="363.15" r="1.15" fill="#bf55da" stroke="#6e3c7c" stroke-width="0.5"/>
<circle cx="661.00" cy="318.40" r="1.15" fill="#bf55da" stroke="#6e3c7c" stroke-width="0.5"/>
<circle cx="658.80" cy="392.70" r="1.15" fill="#bf55da" stroke="#6e3c7c" stroke-width="0.5"/>
<circle cx="661.50" cy="394.10" r="1.15" fill="#bf55da" stroke="#6e3c7c" stroke-width="0.5"/>
<circle cx="659.30" cy="395.90" r="1.15" fill="#bf55da" stroke="#6e3c7c" stroke-width="0.5"/>
<circle cx="661.10" cy="397.70" r="1.15" fill="#bf55da" stroke="#6e3c7c" stroke-width="0.5"/>
<circle cx="664.20" cy="397.40" r="1.15" fill="#bf55da" stroke="#6e3c7c" stroke-width="0.5"/>
<circle cx="658.40" cy="399.00" r="1.15" fill="#bf55da" stroke="#6e3c7c" stroke-width="0.5"/>
<circle cx="662.40" cy="400.60" r="1.15" fill="#bf55da" stroke="#6e3c7c" stroke-width="0.5"/>
<circle cx="659.30" cy="404.00" r="1.15" fill="#bf55da" stroke="#6e3c7c" stroke-width="0.5"/>
<circle cx="661.10" cy="404.40" r="1.15" fill="#bf55da" stroke="#6e3c7c" stroke-width="0.5"/>
<circle cx="663.80" cy="404.00" r="1.15" fill="#bf55da" stroke="#6e3c7c" stroke-width="0.5"/>
<circle cx="658.10" cy="407.00" r="1.15" fill="#bf55da" stroke="#6e3c7c" stroke-width="0.5"/>
<circle cx="662.90" cy="406.70" r="1.15" fill="#bf55da" stroke="#6e3c7c" stroke-width="0.5"/>
<circle cx="659.70" cy="410.80" r="1.15" fill="#bf55da" stroke="#6e3c7c" stroke-width="0.5"/>
<circle cx="659.30" cy="413.30" r="1.15" fill="#bf55da" stroke="#6e3c7c" stroke-width="0.5"/>
<circle cx="661.40" cy="413.30" r="1.15" fill="#bf55da" stroke="#6e3c7c" stroke-width="0.5"/>
<circle cx="661.70" cy="416.60" r="1.15" fill="#bf55da" stroke="#6e3c7c" stroke-width="0.5"/>
<circle cx="658.10" cy="418.00" r="1.15" fill="#bf55da" stroke="#6e3c7c" stroke-width="0.5"/>
<circle cx="658.40" cy="421.60" r="1.15" fill="#bf55da" stroke="#6e3c7c" stroke-width="0.5"/>
<circle cx="660.20" cy="421.80" r="1.15" fill="#bf55da" stroke="#6e3c7c" stroke-width="0.5"/>
<circle cx="664.40" cy="423.80" r="1.15" fill="#bf55da" stroke="#6e3c7c" stroke-width="0.5"/>
<circle cx="664.10" cy="425.60" r="1.15" fill="#bf55da" stroke="#6e3c7c" stroke-width="0.5"/>
<circle cx="662.60" cy="427.00" r="1.15" fill="#bf55da" stroke="#6e3c7c" stroke-width="0.5"/>
<circle cx="660.50" cy="428.80" r="1.15" fill="#bf55da" stroke="#6e3c7c" stroke-width="0.5"/>
<circle cx="658.40" cy="431.10" r="1.15" fill="#bf55da" stroke="#6e3c7c" stroke-width="0.5"/>
<circle cx="658.80" cy="433.80" r="1.15" fill="#bf55da" stroke="#6e3c7c" stroke-width="0.5"/>
<circle cx="658.10" cy="450.10" r="1.15" fill="#bf55da" stroke="#6e3c7c" stroke-width="0.5"/>
<circle cx="658.80" cy="452.30" r="1.15" fill="#bf55da" stroke="#6e3c7c" stroke-width="0.5"/>
<circle cx="661.90" cy="455.00" r="1.15" fill="#bf55da" stroke="#6e3c7c" stroke-width="0.5"/>
<circle cx="663.20" cy="453.50" r="1.15" fill="#bf55da" stroke="#6e3c7c" stroke-width="0.5"/>
<circle cx="659.70" cy="460.60" r="1.15" fill="#bf55da" stroke="#6e3c7c" stroke-width="0.5"/>
<circle cx="663.70" cy="495.40" r="1.15" fill="#bf55da" stroke="#6e3c7c" stroke-width="0.5"/>
<circle cx="663.70" cy="506.60" r="1.15" fill="#bf55da" stroke="#6e3c7c" stroke-width="0.5"/>
<line x1="382.50" y1="302.50" x2="684.50" y2="302.50" stroke="#8a8a8a" stroke-width="1.0"/>
<line x1="382.50" y1="527.50" x2="684.50" y2="527.50" stroke="#8a8a8a" stroke-width="1.0"/>
<line x1="382.50" y1="302.00" x2="382.50" y2="528.00" stroke="#8a8a8a" stroke-width="1.0"/>
<line x1="684.50" y1="302.00" x2="684.50" y2="528.00" stroke="#8a8a8a" stroke-width="1.0"/>
<line x1="483.50" y1="302.50" x2="483.50" y2="527.50" stroke="#8a8a8a" stroke-width="1.0"/>
<line x1="584.00" y1="302.50" x2="584.00" y2="527.50" stroke="#8a8a8a" stroke-width="1.0"/>
<text x="2.90" y="10.90" font-size="18.5" font-weight="bold" fill="#000">a</text>
<text x="375.25" y="14.00" font-size="18.5" font-weight="bold" fill="#000">b</text>
<text x="476.85" y="13.30" font-size="18.5" font-weight="bold" fill="#000">c</text>
<text x="578.50" y="14.10" font-size="18.5" font-weight="bold" fill="#000">d</text>
<text x="5.80" y="287.70" font-size="18.5" font-weight="bold" fill="#000">e</text>
<text x="382.15" y="294.00" font-size="18.5" font-weight="bold" fill="#000">f</text>
<text x="482.80" y="291.00" font-size="18.5" font-weight="bold" fill="#000">g</text>
<text x="582.95" y="294.10" font-size="18.5" font-weight="bold" fill="#000">h</text>
</svg>
</body></html>
